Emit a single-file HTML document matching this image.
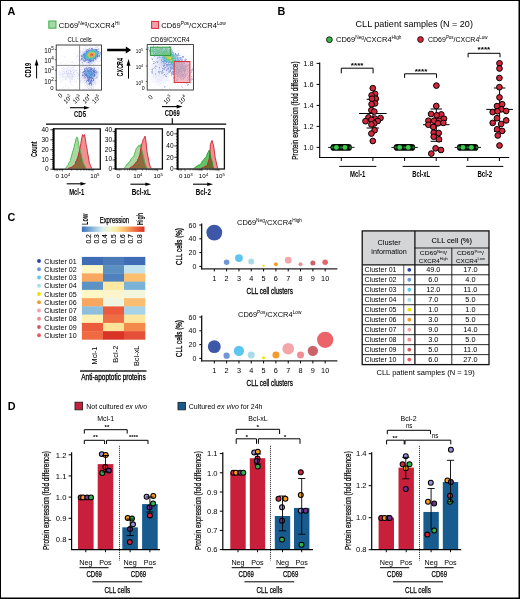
<!DOCTYPE html><html><head><meta charset="utf-8"><style>html,body{margin:0;padding:0;background:#fff;}svg{display:block;will-change:transform;}text{font-family:'Liberation Sans', sans-serif;font-variant-ligatures:none;font-kerning:normal;}</style></head><body>
<svg width="520" height="599" viewBox="0 0 520 599">
<rect x="0.00" y="0.00" width="520.00" height="599.00" fill="#fff" />
<text x="7.60" y="15.20" font-size="10.8" font-weight="bold" >A</text>
<rect x="48.80" y="21.00" width="7.20" height="7.20" fill="#a3d9a3" stroke="#3fae4f" stroke-width="1" />
<text x="58.8" y="28.2" font-size="7.6" textLength="60.7" lengthAdjust="spacingAndGlyphs">CD69<tspan dy="-3.42" font-size="4.86">Neg</tspan><tspan dy="3.42">/CXCR4<tspan dy="-3.42" font-size="4.86">Hi</tspan><tspan dy="3.42"></tspan></tspan></text>
<rect x="151.60" y="21.40" width="7.00" height="7.00" fill="#f0a0a8" stroke="#d8283a" stroke-width="1" />
<text x="161.3" y="28.2" font-size="7.6" textLength="64.5" lengthAdjust="spacingAndGlyphs">CD69<tspan dy="-3.42" font-size="4.86">Pos</tspan><tspan dy="3.42">/CXCR4<tspan dy="-3.42" font-size="4.86">Low</tspan><tspan dy="3.42"></tspan></tspan></text>
<text x="79.70" y="42.30" font-size="6.5" text-anchor="middle" textLength="24.2" lengthAdjust="spacingAndGlyphs" >CLL cells</text>
<text x="170.10" y="42.30" font-size="6.5" text-anchor="middle" textLength="39" lengthAdjust="spacingAndGlyphs" >CD69/CXCR4</text>
<defs><filter id="hz" x="-50%" y="-50%" width="200%" height="200%"><feGaussianBlur stdDeviation="2.6"/></filter><clipPath id="c1"><rect x="56.5" y="45.5" width="44.7" height="44.3"/></clipPath><clipPath id="c2"><rect x="147.5" y="45" width="45.7" height="44.7"/></clipPath></defs>
<g clip-path="url(#c1)" filter="url(#hz)" fill="#8c96e1"><ellipse cx="90" cy="56" rx="8" ry="6" opacity="0.35"/><ellipse cx="89.6" cy="76" rx="7" ry="9" opacity="0.3"/><ellipse cx="69" cy="74" rx="8" ry="6" opacity="0.12"/></g>
<g>
<rect x="84.5" y="45.5" width="0.55" height="0.55" fill="#6e78d2" fill-opacity="0.4"/>
<rect x="95.5" y="45.5" width="0.55" height="0.55" fill="#6e78d2" fill-opacity="0.6"/>
<rect x="90.0" y="46.0" width="0.55" height="0.55" fill="#6e78d2" fill-opacity="0.4"/>
<rect x="97.5" y="46.0" width="0.55" height="0.55" fill="#6e78d2" fill-opacity="0.4"/>
<rect x="79.5" y="46.5" width="0.55" height="0.55" fill="#6e78d2" fill-opacity="0.4"/>
<rect x="85.0" y="46.5" width="0.55" height="0.55" fill="#6e78d2" fill-opacity="0.4"/>
<rect x="87.0" y="46.5" width="0.55" height="0.55" fill="#6e78d2" fill-opacity="0.4"/>
<rect x="96.0" y="46.5" width="0.55" height="0.55" fill="#6e78d2" fill-opacity="0.4"/>
<rect x="97.0" y="46.5" width="0.55" height="0.55" fill="#6e78d2" fill-opacity="0.4"/>
<rect x="90.0" y="47.0" width="0.55" height="0.55" fill="#6e78d2" fill-opacity="0.4"/>
<rect x="92.5" y="47.0" width="0.55" height="0.55" fill="#6e78d2" fill-opacity="0.4"/>
<rect x="95.0" y="47.0" width="0.55" height="0.55" fill="#6e78d2" fill-opacity="0.4"/>
<rect x="95.5" y="47.0" width="0.55" height="0.55" fill="#6e78d2" fill-opacity="0.6"/>
<rect x="61.0" y="47.5" width="0.55" height="0.55" fill="#6e78d2" fill-opacity="0.4"/>
<rect x="92.5" y="47.5" width="0.55" height="0.55" fill="#6e78d2" fill-opacity="0.4"/>
<rect x="96.0" y="47.5" width="0.55" height="0.55" fill="#6e78d2" fill-opacity="0.4"/>
<rect x="97.0" y="47.5" width="0.55" height="0.55" fill="#6e78d2" fill-opacity="0.6"/>
<rect x="61.0" y="48.0" width="0.55" height="0.55" fill="#6e78d2" fill-opacity="0.4"/>
<rect x="83.0" y="48.0" width="0.55" height="0.55" fill="#6e78d2" fill-opacity="0.4"/>
<rect x="88.5" y="48.0" width="0.55" height="0.55" fill="#6e78d2" fill-opacity="0.4"/>
<rect x="91.5" y="48.0" width="0.55" height="0.55" fill="#3e56c1"/>
<rect x="94.5" y="48.0" width="1.05" height="0.55" fill="#6e78d2" fill-opacity="0.4"/>
<rect x="96.5" y="48.0" width="0.55" height="0.55" fill="#6e78d2" fill-opacity="0.4"/>
<rect x="98.5" y="48.0" width="0.55" height="0.55" fill="#6e78d2" fill-opacity="0.4"/>
<rect x="85.5" y="48.5" width="0.55" height="0.55" fill="#6e78d2" fill-opacity="0.4"/>
<rect x="89.0" y="48.5" width="1.05" height="0.55" fill="#3e56c1"/>
<rect x="91.0" y="48.5" width="2.05" height="0.55" fill="#3153be"/>
<rect x="98.0" y="48.5" width="0.55" height="0.55" fill="#6e78d2" fill-opacity="0.6"/>
<rect x="98.5" y="48.5" width="0.55" height="0.55" fill="#6e78d2" fill-opacity="0.4"/>
<rect x="100.0" y="48.5" width="0.55" height="0.55" fill="#6e78d2" fill-opacity="0.4"/>
<rect x="83.0" y="49.0" width="0.55" height="0.55" fill="#6e78d2" fill-opacity="0.4"/>
<rect x="86.0" y="49.0" width="0.55" height="0.55" fill="#6e78d2" fill-opacity="0.4"/>
<rect x="88.5" y="49.0" width="1.05" height="0.55" fill="#3e56c1"/>
<rect x="90.0" y="49.0" width="0.55" height="0.55" fill="#3153be"/>
<rect x="91.0" y="49.0" width="0.55" height="0.55" fill="#3153be"/>
<rect x="92.5" y="49.0" width="0.55" height="0.55" fill="#3153be"/>
<rect x="95.0" y="49.0" width="1.05" height="0.55" fill="#3153be"/>
<rect x="96.5" y="49.0" width="0.55" height="0.55" fill="#3e56c1"/>
<rect x="98.5" y="49.0" width="0.55" height="0.55" fill="#6e78d2" fill-opacity="0.4"/>
<rect x="85.0" y="49.5" width="0.55" height="0.55" fill="#6e78d2" fill-opacity="0.4"/>
<rect x="86.0" y="49.5" width="1.05" height="0.55" fill="#6e78d2" fill-opacity="0.4"/>
<rect x="87.0" y="49.5" width="1.05" height="0.55" fill="#3e56c1"/>
<rect x="90.5" y="49.5" width="0.55" height="0.55" fill="#3153be"/>
<rect x="91.5" y="49.5" width="4.05" height="0.55" fill="#2d6cc6"/>
<rect x="96.0" y="49.5" width="1.55" height="0.55" fill="#3153be"/>
<rect x="97.5" y="49.5" width="1.05" height="0.55" fill="#3e56c1"/>
<rect x="99.0" y="49.5" width="0.55" height="0.55" fill="#6e78d2" fill-opacity="0.4"/>
<rect x="85.5" y="50.0" width="0.55" height="0.55" fill="#6e78d2" fill-opacity="0.4"/>
<rect x="88.0" y="50.0" width="1.05" height="0.55" fill="#3153be"/>
<rect x="89.5" y="50.0" width="0.55" height="0.55" fill="#2d6cc6"/>
<rect x="90.5" y="50.0" width="0.55" height="0.55" fill="#2d6cc6"/>
<rect x="91.0" y="50.0" width="1.05" height="0.55" fill="#2a86cd"/>
<rect x="92.5" y="50.0" width="1.05" height="0.55" fill="#289bc9"/>
<rect x="93.5" y="50.0" width="1.05" height="0.55" fill="#2a86cd"/>
<rect x="95.0" y="50.0" width="0.55" height="0.55" fill="#2d6cc6"/>
<rect x="96.0" y="50.0" width="0.55" height="0.55" fill="#2d6cc6"/>
<rect x="96.5" y="50.0" width="0.55" height="0.55" fill="#3153be"/>
<rect x="79.5" y="50.5" width="0.55" height="0.55" fill="#6e78d2" fill-opacity="0.4"/>
<rect x="82.5" y="50.5" width="0.55" height="0.55" fill="#6e78d2" fill-opacity="0.4"/>
<rect x="86.0" y="50.5" width="1.05" height="0.55" fill="#3153be"/>
<rect x="87.5" y="50.5" width="1.55" height="0.55" fill="#2d6cc6"/>
<rect x="89.0" y="50.5" width="1.05" height="0.55" fill="#2a86cd"/>
<rect x="90.5" y="50.5" width="0.55" height="0.55" fill="#2a86cd"/>
<rect x="91.0" y="50.5" width="1.05" height="0.55" fill="#289bc9"/>
<rect x="92.0" y="50.5" width="2.05" height="0.55" fill="#28aab4"/>
<rect x="94.0" y="50.5" width="1.05" height="0.55" fill="#289bc9"/>
<rect x="95.0" y="50.5" width="1.05" height="0.55" fill="#2a86cd"/>
<rect x="96.0" y="50.5" width="1.05" height="0.55" fill="#2d6cc6"/>
<rect x="97.0" y="50.5" width="0.55" height="0.55" fill="#3153be"/>
<rect x="99.0" y="50.5" width="0.55" height="0.55" fill="#6e78d2" fill-opacity="0.4"/>
<rect x="80.0" y="51.0" width="0.55" height="0.55" fill="#6e78d2" fill-opacity="0.4"/>
<rect x="83.0" y="51.0" width="0.55" height="0.55" fill="#6e78d2" fill-opacity="0.4"/>
<rect x="84.0" y="51.0" width="0.55" height="0.55" fill="#6e78d2" fill-opacity="0.4"/>
<rect x="85.0" y="51.0" width="0.55" height="0.55" fill="#6e78d2" fill-opacity="0.4"/>
<rect x="86.0" y="51.0" width="0.55" height="0.55" fill="#3153be"/>
<rect x="87.0" y="51.0" width="1.05" height="0.55" fill="#2d6cc6"/>
<rect x="88.0" y="51.0" width="1.05" height="0.55" fill="#2a86cd"/>
<rect x="89.0" y="51.0" width="0.55" height="0.55" fill="#289bc9"/>
<rect x="90.0" y="51.0" width="1.55" height="0.55" fill="#28aab4"/>
<rect x="91.5" y="51.0" width="2.55" height="0.55" fill="#28b9a0"/>
<rect x="94.0" y="51.0" width="1.05" height="0.55" fill="#28aab4"/>
<rect x="95.0" y="51.0" width="1.05" height="0.55" fill="#289bc9"/>
<rect x="96.0" y="51.0" width="1.05" height="0.55" fill="#2a86cd"/>
<rect x="97.0" y="51.0" width="0.55" height="0.55" fill="#2d6cc6"/>
<rect x="97.5" y="51.0" width="0.55" height="0.55" fill="#3153be"/>
<rect x="98.5" y="51.0" width="0.55" height="0.55" fill="#3e56c1"/>
<rect x="99.0" y="51.0" width="0.55" height="0.55" fill="#6e78d2" fill-opacity="0.4"/>
<rect x="79.0" y="51.5" width="0.55" height="0.55" fill="#6e78d2" fill-opacity="0.4"/>
<rect x="81.5" y="51.5" width="1.05" height="0.55" fill="#6e78d2" fill-opacity="0.4"/>
<rect x="84.5" y="51.5" width="0.55" height="0.55" fill="#6e78d2" fill-opacity="0.4"/>
<rect x="85.5" y="51.5" width="1.05" height="0.55" fill="#3153be"/>
<rect x="86.5" y="51.5" width="1.05" height="0.55" fill="#2d6cc6"/>
<rect x="87.5" y="51.5" width="0.55" height="0.55" fill="#2a86cd"/>
<rect x="88.5" y="51.5" width="1.05" height="0.55" fill="#28aab4"/>
<rect x="89.5" y="51.5" width="1.05" height="0.55" fill="#28b9a0"/>
<rect x="91.0" y="51.5" width="3.05" height="0.55" fill="#37b971"/>
<rect x="94.0" y="51.5" width="1.05" height="0.55" fill="#28b9a0"/>
<rect x="95.0" y="51.5" width="1.05" height="0.55" fill="#28aab4"/>
<rect x="96.5" y="51.5" width="0.55" height="0.55" fill="#2a86cd"/>
<rect x="97.5" y="51.5" width="0.55" height="0.55" fill="#2d6cc6"/>
<rect x="98.0" y="51.5" width="1.05" height="0.55" fill="#3153be"/>
<rect x="100.5" y="51.5" width="0.55" height="0.55" fill="#6e78d2" fill-opacity="0.4"/>
<rect x="82.5" y="52.0" width="0.55" height="0.55" fill="#6e78d2" fill-opacity="0.4"/>
<rect x="83.0" y="52.0" width="0.55" height="0.55" fill="#6e78d2" fill-opacity="0.6"/>
<rect x="83.5" y="52.0" width="0.55" height="0.55" fill="#6e78d2" fill-opacity="0.4"/>
<rect x="84.5" y="52.0" width="0.55" height="0.55" fill="#3e56c1"/>
<rect x="86.0" y="52.0" width="1.05" height="0.55" fill="#2d6cc6"/>
<rect x="87.0" y="52.0" width="0.55" height="0.55" fill="#2a86cd"/>
<rect x="87.5" y="52.0" width="0.55" height="0.55" fill="#289bc9"/>
<rect x="88.0" y="52.0" width="0.55" height="0.55" fill="#28aab4"/>
<rect x="88.5" y="52.0" width="0.55" height="0.55" fill="#28b9a0"/>
<rect x="89.0" y="52.0" width="0.55" height="0.55" fill="#37b971"/>
<rect x="89.5" y="52.0" width="1.05" height="0.55" fill="#4bb944"/>
<rect x="90.5" y="52.0" width="2.55" height="0.55" fill="#89c536"/>
<rect x="93.0" y="52.0" width="1.55" height="0.55" fill="#4bb944"/>
<rect x="94.5" y="52.0" width="1.05" height="0.55" fill="#37b971"/>
<rect x="95.5" y="52.0" width="0.55" height="0.55" fill="#28b9a0"/>
<rect x="96.0" y="52.0" width="0.55" height="0.55" fill="#28aab4"/>
<rect x="96.5" y="52.0" width="0.55" height="0.55" fill="#289bc9"/>
<rect x="97.5" y="52.0" width="1.05" height="0.55" fill="#2d6cc6"/>
<rect x="100.0" y="52.0" width="1.05" height="0.55" fill="#3e56c1"/>
<rect x="78.0" y="52.5" width="0.55" height="0.55" fill="#6e78d2" fill-opacity="0.4"/>
<rect x="80.0" y="52.5" width="1.05" height="0.55" fill="#6e78d2" fill-opacity="0.4"/>
<rect x="85.5" y="52.5" width="1.05" height="0.55" fill="#2d6cc6"/>
<rect x="86.5" y="52.5" width="0.55" height="0.55" fill="#2a86cd"/>
<rect x="87.5" y="52.5" width="0.55" height="0.55" fill="#28aab4"/>
<rect x="88.0" y="52.5" width="0.55" height="0.55" fill="#28b9a0"/>
<rect x="88.5" y="52.5" width="0.55" height="0.55" fill="#37b971"/>
<rect x="89.0" y="52.5" width="0.55" height="0.55" fill="#4bb944"/>
<rect x="89.5" y="52.5" width="0.55" height="0.55" fill="#89c536"/>
<rect x="90.0" y="52.5" width="1.05" height="0.55" fill="#c8d228"/>
<rect x="91.0" y="52.5" width="1.05" height="0.55" fill="#dfb222"/>
<rect x="92.0" y="52.5" width="1.55" height="0.55" fill="#c8d228"/>
<rect x="93.5" y="52.5" width="1.05" height="0.55" fill="#89c536"/>
<rect x="94.5" y="52.5" width="1.05" height="0.55" fill="#4bb944"/>
<rect x="95.5" y="52.5" width="0.55" height="0.55" fill="#37b971"/>
<rect x="96.0" y="52.5" width="0.55" height="0.55" fill="#28aab4"/>
<rect x="97.0" y="52.5" width="0.55" height="0.55" fill="#2a86cd"/>
<rect x="97.5" y="52.5" width="1.05" height="0.55" fill="#2d6cc6"/>
<rect x="99.5" y="52.5" width="0.55" height="0.55" fill="#3e56c1"/>
<rect x="83.5" y="53.0" width="1.05" height="0.55" fill="#3e56c1"/>
<rect x="85.0" y="53.0" width="0.55" height="0.55" fill="#2d6cc6"/>
<rect x="86.0" y="53.0" width="0.55" height="0.55" fill="#2a86cd"/>
<rect x="86.5" y="53.0" width="0.55" height="0.55" fill="#289bc9"/>
<rect x="87.0" y="53.0" width="0.55" height="0.55" fill="#28aab4"/>
<rect x="87.5" y="53.0" width="0.55" height="0.55" fill="#28b9a0"/>
<rect x="88.0" y="53.0" width="0.55" height="0.55" fill="#37b971"/>
<rect x="88.5" y="53.0" width="0.55" height="0.55" fill="#4bb944"/>
<rect x="89.0" y="53.0" width="0.55" height="0.55" fill="#89c536"/>
<rect x="89.5" y="53.0" width="0.55" height="0.55" fill="#c8d228"/>
<rect x="90.0" y="53.0" width="0.55" height="0.55" fill="#dfb222"/>
<rect x="90.5" y="53.0" width="2.55" height="0.55" fill="#f4911d"/>
<rect x="93.0" y="53.0" width="1.05" height="0.55" fill="#dfb222"/>
<rect x="94.0" y="53.0" width="0.55" height="0.55" fill="#c8d228"/>
<rect x="94.5" y="53.0" width="0.55" height="0.55" fill="#89c536"/>
<rect x="95.0" y="53.0" width="0.55" height="0.55" fill="#4bb944"/>
<rect x="95.5" y="53.0" width="0.55" height="0.55" fill="#37b971"/>
<rect x="96.0" y="53.0" width="0.55" height="0.55" fill="#28b9a0"/>
<rect x="96.5" y="53.0" width="0.55" height="0.55" fill="#289bc9"/>
<rect x="97.5" y="53.0" width="0.55" height="0.55" fill="#2d6cc6"/>
<rect x="98.0" y="53.0" width="1.55" height="0.55" fill="#3153be"/>
<rect x="100.0" y="53.0" width="0.55" height="0.55" fill="#3e56c1"/>
<rect x="75.5" y="53.5" width="0.55" height="0.55" fill="#6e78d2" fill-opacity="0.4"/>
<rect x="79.5" y="53.5" width="0.55" height="0.55" fill="#6e78d2" fill-opacity="0.4"/>
<rect x="81.0" y="53.5" width="0.55" height="0.55" fill="#6e78d2" fill-opacity="0.4"/>
<rect x="82.5" y="53.5" width="0.55" height="0.55" fill="#6e78d2" fill-opacity="0.4"/>
<rect x="84.0" y="53.5" width="0.55" height="0.55" fill="#3153be"/>
<rect x="84.5" y="53.5" width="1.05" height="0.55" fill="#2d6cc6"/>
<rect x="85.5" y="53.5" width="0.55" height="0.55" fill="#2a86cd"/>
<rect x="86.0" y="53.5" width="0.55" height="0.55" fill="#289bc9"/>
<rect x="86.5" y="53.5" width="0.55" height="0.55" fill="#28aab4"/>
<rect x="87.0" y="53.5" width="0.55" height="0.55" fill="#28b9a0"/>
<rect x="87.5" y="53.5" width="0.55" height="0.55" fill="#37b971"/>
<rect x="88.0" y="53.5" width="0.55" height="0.55" fill="#4bb944"/>
<rect x="88.5" y="53.5" width="0.55" height="0.55" fill="#c8d228"/>
<rect x="89.0" y="53.5" width="1.05" height="0.55" fill="#dfb222"/>
<rect x="90.0" y="53.5" width="0.55" height="0.55" fill="#f4911d"/>
<rect x="90.5" y="53.5" width="2.55" height="0.55" fill="#ed5c1b"/>
<rect x="93.0" y="53.5" width="1.05" height="0.55" fill="#f4911d"/>
<rect x="94.0" y="53.5" width="0.55" height="0.55" fill="#dfb222"/>
<rect x="94.5" y="53.5" width="0.55" height="0.55" fill="#c8d228"/>
<rect x="95.0" y="53.5" width="0.55" height="0.55" fill="#4bb944"/>
<rect x="95.5" y="53.5" width="0.55" height="0.55" fill="#37b971"/>
<rect x="96.0" y="53.5" width="0.55" height="0.55" fill="#28b9a0"/>
<rect x="96.5" y="53.5" width="0.55" height="0.55" fill="#289bc9"/>
<rect x="97.0" y="53.5" width="0.55" height="0.55" fill="#2a86cd"/>
<rect x="98.5" y="53.5" width="0.55" height="0.55" fill="#3153be"/>
<rect x="81.5" y="54.0" width="0.55" height="0.55" fill="#6e78d2" fill-opacity="0.6"/>
<rect x="83.0" y="54.0" width="1.05" height="0.55" fill="#3153be"/>
<rect x="84.0" y="54.0" width="0.55" height="0.55" fill="#2d6cc6"/>
<rect x="84.5" y="54.0" width="1.05" height="0.55" fill="#2a86cd"/>
<rect x="85.5" y="54.0" width="1.05" height="0.55" fill="#289bc9"/>
<rect x="86.5" y="54.0" width="0.55" height="0.55" fill="#28aab4"/>
<rect x="87.0" y="54.0" width="0.55" height="0.55" fill="#37b971"/>
<rect x="87.5" y="54.0" width="0.55" height="0.55" fill="#4bb944"/>
<rect x="88.0" y="54.0" width="0.55" height="0.55" fill="#c8d228"/>
<rect x="88.5" y="54.0" width="1.05" height="0.55" fill="#dfb222"/>
<rect x="89.5" y="54.0" width="0.55" height="0.55" fill="#f4911d"/>
<rect x="90.0" y="54.0" width="1.55" height="0.55" fill="#ed5c1b"/>
<rect x="91.5" y="54.0" width="1.55" height="0.55" fill="#e62819"/>
<rect x="93.0" y="54.0" width="0.55" height="0.55" fill="#ed5c1b"/>
<rect x="93.5" y="54.0" width="0.55" height="0.55" fill="#f4911d"/>
<rect x="94.0" y="54.0" width="0.55" height="0.55" fill="#dfb222"/>
<rect x="94.5" y="54.0" width="0.55" height="0.55" fill="#c8d228"/>
<rect x="95.0" y="54.0" width="0.55" height="0.55" fill="#4bb944"/>
<rect x="95.5" y="54.0" width="0.55" height="0.55" fill="#37b971"/>
<rect x="96.5" y="54.0" width="0.55" height="0.55" fill="#289bc9"/>
<rect x="97.0" y="54.0" width="0.55" height="0.55" fill="#2a86cd"/>
<rect x="97.5" y="54.0" width="0.55" height="0.55" fill="#2d6cc6"/>
<rect x="98.5" y="54.0" width="0.55" height="0.55" fill="#3153be"/>
<rect x="100.0" y="54.0" width="0.55" height="0.55" fill="#3e56c1"/>
<rect x="77.5" y="54.5" width="0.55" height="0.55" fill="#6e78d2" fill-opacity="0.4"/>
<rect x="80.5" y="54.5" width="0.55" height="0.55" fill="#6e78d2" fill-opacity="0.4"/>
<rect x="82.0" y="54.5" width="0.55" height="0.55" fill="#3e56c1"/>
<rect x="83.5" y="54.5" width="0.55" height="0.55" fill="#2d6cc6"/>
<rect x="84.0" y="54.5" width="1.05" height="0.55" fill="#2a86cd"/>
<rect x="85.0" y="54.5" width="1.05" height="0.55" fill="#289bc9"/>
<rect x="86.0" y="54.5" width="0.55" height="0.55" fill="#28aab4"/>
<rect x="86.5" y="54.5" width="0.55" height="0.55" fill="#28b9a0"/>
<rect x="87.0" y="54.5" width="0.55" height="0.55" fill="#4bb944"/>
<rect x="87.5" y="54.5" width="0.55" height="0.55" fill="#89c536"/>
<rect x="88.0" y="54.5" width="0.55" height="0.55" fill="#dfb222"/>
<rect x="88.5" y="54.5" width="1.55" height="0.55" fill="#f4911d"/>
<rect x="90.0" y="54.5" width="1.55" height="0.55" fill="#ed5c1b"/>
<rect x="91.5" y="54.5" width="1.55" height="0.55" fill="#e62819"/>
<rect x="93.0" y="54.5" width="0.55" height="0.55" fill="#ed5c1b"/>
<rect x="93.5" y="54.5" width="0.55" height="0.55" fill="#f4911d"/>
<rect x="94.0" y="54.5" width="0.55" height="0.55" fill="#dfb222"/>
<rect x="94.5" y="54.5" width="0.55" height="0.55" fill="#89c536"/>
<rect x="95.0" y="54.5" width="0.55" height="0.55" fill="#4bb944"/>
<rect x="95.5" y="54.5" width="0.55" height="0.55" fill="#28b9a0"/>
<rect x="96.0" y="54.5" width="0.55" height="0.55" fill="#28aab4"/>
<rect x="96.5" y="54.5" width="0.55" height="0.55" fill="#289bc9"/>
<rect x="97.0" y="54.5" width="0.55" height="0.55" fill="#2a86cd"/>
<rect x="97.5" y="54.5" width="0.55" height="0.55" fill="#2d6cc6"/>
<rect x="99.5" y="54.5" width="0.55" height="0.55" fill="#3e56c1"/>
<rect x="83.0" y="55.0" width="0.55" height="0.55" fill="#2d6cc6"/>
<rect x="83.5" y="55.0" width="0.55" height="0.55" fill="#2a86cd"/>
<rect x="84.0" y="55.0" width="2.05" height="0.55" fill="#289bc9"/>
<rect x="86.0" y="55.0" width="0.55" height="0.55" fill="#28aab4"/>
<rect x="86.5" y="55.0" width="0.55" height="0.55" fill="#28b9a0"/>
<rect x="87.0" y="55.0" width="0.55" height="0.55" fill="#4bb944"/>
<rect x="87.5" y="55.0" width="0.55" height="0.55" fill="#c8d228"/>
<rect x="88.0" y="55.0" width="0.55" height="0.55" fill="#dfb222"/>
<rect x="88.5" y="55.0" width="1.55" height="0.55" fill="#f4911d"/>
<rect x="90.0" y="55.0" width="2.05" height="0.55" fill="#ed5c1b"/>
<rect x="92.0" y="55.0" width="1.05" height="0.55" fill="#e62819"/>
<rect x="93.0" y="55.0" width="0.55" height="0.55" fill="#ed5c1b"/>
<rect x="93.5" y="55.0" width="0.55" height="0.55" fill="#f4911d"/>
<rect x="94.0" y="55.0" width="0.55" height="0.55" fill="#dfb222"/>
<rect x="94.5" y="55.0" width="0.55" height="0.55" fill="#89c536"/>
<rect x="95.0" y="55.0" width="0.55" height="0.55" fill="#37b971"/>
<rect x="95.5" y="55.0" width="0.55" height="0.55" fill="#28b9a0"/>
<rect x="96.0" y="55.0" width="0.55" height="0.55" fill="#28aab4"/>
<rect x="96.5" y="55.0" width="0.55" height="0.55" fill="#289bc9"/>
<rect x="97.0" y="55.0" width="1.05" height="0.55" fill="#2a86cd"/>
<rect x="99.5" y="55.0" width="0.55" height="0.55" fill="#3e56c1"/>
<rect x="77.0" y="55.5" width="0.55" height="0.55" fill="#6e78d2" fill-opacity="0.6"/>
<rect x="78.0" y="55.5" width="0.55" height="0.55" fill="#6e78d2" fill-opacity="0.4"/>
<rect x="80.5" y="55.5" width="0.55" height="0.55" fill="#6e78d2" fill-opacity="0.6"/>
<rect x="81.0" y="55.5" width="0.55" height="0.55" fill="#3e56c1"/>
<rect x="81.5" y="55.5" width="1.05" height="0.55" fill="#3153be"/>
<rect x="82.5" y="55.5" width="1.05" height="0.55" fill="#2d6cc6"/>
<rect x="83.5" y="55.5" width="0.55" height="0.55" fill="#2a86cd"/>
<rect x="84.0" y="55.5" width="2.05" height="0.55" fill="#289bc9"/>
<rect x="86.0" y="55.5" width="0.55" height="0.55" fill="#28aab4"/>
<rect x="86.5" y="55.5" width="0.55" height="0.55" fill="#28b9a0"/>
<rect x="87.0" y="55.5" width="0.55" height="0.55" fill="#4bb944"/>
<rect x="87.5" y="55.5" width="0.55" height="0.55" fill="#89c536"/>
<rect x="88.0" y="55.5" width="0.55" height="0.55" fill="#c8d228"/>
<rect x="88.5" y="55.5" width="0.55" height="0.55" fill="#dfb222"/>
<rect x="89.0" y="55.5" width="1.05" height="0.55" fill="#f4911d"/>
<rect x="90.0" y="55.5" width="3.05" height="0.55" fill="#ed5c1b"/>
<rect x="93.0" y="55.5" width="0.55" height="0.55" fill="#f4911d"/>
<rect x="93.5" y="55.5" width="0.55" height="0.55" fill="#dfb222"/>
<rect x="94.0" y="55.5" width="0.55" height="0.55" fill="#c8d228"/>
<rect x="94.5" y="55.5" width="0.55" height="0.55" fill="#4bb944"/>
<rect x="95.0" y="55.5" width="0.55" height="0.55" fill="#28b9a0"/>
<rect x="95.5" y="55.5" width="0.55" height="0.55" fill="#28aab4"/>
<rect x="96.0" y="55.5" width="0.55" height="0.55" fill="#289bc9"/>
<rect x="96.5" y="55.5" width="1.05" height="0.55" fill="#2a86cd"/>
<rect x="97.5" y="55.5" width="1.05" height="0.55" fill="#2d6cc6"/>
<rect x="98.5" y="55.5" width="1.05" height="0.55" fill="#3153be"/>
<rect x="99.5" y="55.5" width="0.55" height="0.55" fill="#3e56c1"/>
<rect x="64.0" y="56.0" width="0.55" height="0.55" fill="#6e78d2" fill-opacity="0.4"/>
<rect x="78.5" y="56.0" width="0.55" height="0.55" fill="#6e78d2" fill-opacity="0.4"/>
<rect x="81.0" y="56.0" width="0.55" height="0.55" fill="#3e56c1"/>
<rect x="82.5" y="56.0" width="1.05" height="0.55" fill="#2d6cc6"/>
<rect x="84.0" y="56.0" width="0.55" height="0.55" fill="#2a86cd"/>
<rect x="84.5" y="56.0" width="1.55" height="0.55" fill="#289bc9"/>
<rect x="86.0" y="56.0" width="0.55" height="0.55" fill="#28aab4"/>
<rect x="86.5" y="56.0" width="0.55" height="0.55" fill="#28b9a0"/>
<rect x="87.0" y="56.0" width="0.55" height="0.55" fill="#37b971"/>
<rect x="87.5" y="56.0" width="0.55" height="0.55" fill="#4bb944"/>
<rect x="88.0" y="56.0" width="0.55" height="0.55" fill="#89c536"/>
<rect x="88.5" y="56.0" width="0.55" height="0.55" fill="#c8d228"/>
<rect x="89.0" y="56.0" width="0.55" height="0.55" fill="#dfb222"/>
<rect x="89.5" y="56.0" width="0.55" height="0.55" fill="#f4911d"/>
<rect x="90.0" y="56.0" width="1.05" height="0.55" fill="#ed5c1b"/>
<rect x="91.0" y="56.0" width="2.05" height="0.55" fill="#f4911d"/>
<rect x="93.0" y="56.0" width="0.55" height="0.55" fill="#dfb222"/>
<rect x="93.5" y="56.0" width="0.55" height="0.55" fill="#c8d228"/>
<rect x="94.0" y="56.0" width="0.55" height="0.55" fill="#4bb944"/>
<rect x="94.5" y="56.0" width="0.55" height="0.55" fill="#37b971"/>
<rect x="95.0" y="56.0" width="0.55" height="0.55" fill="#28aab4"/>
<rect x="95.5" y="56.0" width="0.55" height="0.55" fill="#289bc9"/>
<rect x="96.0" y="56.0" width="0.55" height="0.55" fill="#2a86cd"/>
<rect x="96.5" y="56.0" width="1.55" height="0.55" fill="#2d6cc6"/>
<rect x="98.0" y="56.0" width="0.55" height="0.55" fill="#3153be"/>
<rect x="99.0" y="56.0" width="0.55" height="0.55" fill="#3153be"/>
<rect x="99.5" y="56.0" width="0.55" height="0.55" fill="#3e56c1"/>
<rect x="76.0" y="56.5" width="0.55" height="0.55" fill="#6e78d2" fill-opacity="0.4"/>
<rect x="77.5" y="56.5" width="0.55" height="0.55" fill="#6e78d2" fill-opacity="0.4"/>
<rect x="79.5" y="56.5" width="0.55" height="0.55" fill="#6e78d2" fill-opacity="0.4"/>
<rect x="81.0" y="56.5" width="1.05" height="0.55" fill="#3e56c1"/>
<rect x="82.0" y="56.5" width="0.55" height="0.55" fill="#3153be"/>
<rect x="83.0" y="56.5" width="0.55" height="0.55" fill="#2d6cc6"/>
<rect x="84.0" y="56.5" width="1.05" height="0.55" fill="#2a86cd"/>
<rect x="85.0" y="56.5" width="1.05" height="0.55" fill="#289bc9"/>
<rect x="86.0" y="56.5" width="0.55" height="0.55" fill="#28aab4"/>
<rect x="86.5" y="56.5" width="0.55" height="0.55" fill="#28b9a0"/>
<rect x="87.0" y="56.5" width="0.55" height="0.55" fill="#37b971"/>
<rect x="87.5" y="56.5" width="1.05" height="0.55" fill="#4bb944"/>
<rect x="88.5" y="56.5" width="0.55" height="0.55" fill="#89c536"/>
<rect x="89.0" y="56.5" width="1.05" height="0.55" fill="#dfb222"/>
<rect x="90.0" y="56.5" width="1.05" height="0.55" fill="#f4911d"/>
<rect x="91.0" y="56.5" width="1.55" height="0.55" fill="#dfb222"/>
<rect x="92.5" y="56.5" width="0.55" height="0.55" fill="#c8d228"/>
<rect x="93.0" y="56.5" width="0.55" height="0.55" fill="#89c536"/>
<rect x="93.5" y="56.5" width="0.55" height="0.55" fill="#4bb944"/>
<rect x="94.0" y="56.5" width="0.55" height="0.55" fill="#37b971"/>
<rect x="94.5" y="56.5" width="0.55" height="0.55" fill="#28b9a0"/>
<rect x="95.0" y="56.5" width="0.55" height="0.55" fill="#28aab4"/>
<rect x="95.5" y="56.5" width="0.55" height="0.55" fill="#2a86cd"/>
<rect x="96.0" y="56.5" width="0.55" height="0.55" fill="#2d6cc6"/>
<rect x="97.0" y="56.5" width="1.05" height="0.55" fill="#3153be"/>
<rect x="100.5" y="56.5" width="0.55" height="0.55" fill="#6e78d2" fill-opacity="0.4"/>
<rect x="65.5" y="57.0" width="0.55" height="0.55" fill="#6e78d2" fill-opacity="0.4"/>
<rect x="83.0" y="57.0" width="0.55" height="0.55" fill="#3153be"/>
<rect x="84.0" y="57.0" width="0.55" height="0.55" fill="#2d6cc6"/>
<rect x="84.5" y="57.0" width="0.55" height="0.55" fill="#2a86cd"/>
<rect x="85.0" y="57.0" width="1.05" height="0.55" fill="#289bc9"/>
<rect x="86.0" y="57.0" width="1.05" height="0.55" fill="#28aab4"/>
<rect x="87.0" y="57.0" width="0.55" height="0.55" fill="#28b9a0"/>
<rect x="87.5" y="57.0" width="0.55" height="0.55" fill="#37b971"/>
<rect x="88.0" y="57.0" width="0.55" height="0.55" fill="#4bb944"/>
<rect x="88.5" y="57.0" width="0.55" height="0.55" fill="#89c536"/>
<rect x="89.0" y="57.0" width="1.05" height="0.55" fill="#c8d228"/>
<rect x="90.0" y="57.0" width="1.05" height="0.55" fill="#dfb222"/>
<rect x="91.0" y="57.0" width="1.05" height="0.55" fill="#c8d228"/>
<rect x="92.0" y="57.0" width="0.55" height="0.55" fill="#89c536"/>
<rect x="92.5" y="57.0" width="1.05" height="0.55" fill="#4bb944"/>
<rect x="93.5" y="57.0" width="0.55" height="0.55" fill="#37b971"/>
<rect x="94.5" y="57.0" width="0.55" height="0.55" fill="#28aab4"/>
<rect x="95.0" y="57.0" width="0.55" height="0.55" fill="#289bc9"/>
<rect x="95.5" y="57.0" width="0.55" height="0.55" fill="#2a86cd"/>
<rect x="97.0" y="57.0" width="0.55" height="0.55" fill="#3e56c1"/>
<rect x="99.0" y="57.0" width="0.55" height="0.55" fill="#6e78d2" fill-opacity="0.4"/>
<rect x="76.0" y="57.5" width="0.55" height="0.55" fill="#6e78d2" fill-opacity="0.4"/>
<rect x="81.0" y="57.5" width="0.55" height="0.55" fill="#6e78d2" fill-opacity="0.6"/>
<rect x="82.0" y="57.5" width="0.55" height="0.55" fill="#3e56c1"/>
<rect x="83.0" y="57.5" width="0.55" height="0.55" fill="#3153be"/>
<rect x="84.0" y="57.5" width="0.55" height="0.55" fill="#2d6cc6"/>
<rect x="84.5" y="57.5" width="1.05" height="0.55" fill="#2a86cd"/>
<rect x="85.5" y="57.5" width="0.55" height="0.55" fill="#289bc9"/>
<rect x="86.5" y="57.5" width="1.05" height="0.55" fill="#28aab4"/>
<rect x="87.5" y="57.5" width="0.55" height="0.55" fill="#28b9a0"/>
<rect x="88.0" y="57.5" width="0.55" height="0.55" fill="#37b971"/>
<rect x="88.5" y="57.5" width="0.55" height="0.55" fill="#4bb944"/>
<rect x="89.0" y="57.5" width="2.05" height="0.55" fill="#89c536"/>
<rect x="91.0" y="57.5" width="1.05" height="0.55" fill="#4bb944"/>
<rect x="92.0" y="57.5" width="1.05" height="0.55" fill="#37b971"/>
<rect x="93.0" y="57.5" width="0.55" height="0.55" fill="#28b9a0"/>
<rect x="93.5" y="57.5" width="1.05" height="0.55" fill="#28aab4"/>
<rect x="94.5" y="57.5" width="0.55" height="0.55" fill="#289bc9"/>
<rect x="95.0" y="57.5" width="0.55" height="0.55" fill="#2a86cd"/>
<rect x="95.5" y="57.5" width="0.55" height="0.55" fill="#2d6cc6"/>
<rect x="96.5" y="57.5" width="0.55" height="0.55" fill="#3153be"/>
<rect x="97.5" y="57.5" width="0.55" height="0.55" fill="#6e78d2" fill-opacity="0.4"/>
<rect x="100.0" y="57.5" width="0.55" height="0.55" fill="#6e78d2" fill-opacity="0.4"/>
<rect x="79.0" y="58.0" width="0.55" height="0.55" fill="#6e78d2" fill-opacity="0.4"/>
<rect x="81.0" y="58.0" width="1.05" height="0.55" fill="#3e56c1"/>
<rect x="82.5" y="58.0" width="0.55" height="0.55" fill="#3153be"/>
<rect x="84.0" y="58.0" width="0.55" height="0.55" fill="#2d6cc6"/>
<rect x="84.5" y="58.0" width="2.05" height="0.55" fill="#2a86cd"/>
<rect x="86.5" y="58.0" width="0.55" height="0.55" fill="#289bc9"/>
<rect x="87.5" y="58.0" width="0.55" height="0.55" fill="#28aab4"/>
<rect x="88.0" y="58.0" width="0.55" height="0.55" fill="#28b9a0"/>
<rect x="88.5" y="58.0" width="3.05" height="0.55" fill="#37b971"/>
<rect x="91.5" y="58.0" width="1.05" height="0.55" fill="#28b9a0"/>
<rect x="92.5" y="58.0" width="0.55" height="0.55" fill="#28aab4"/>
<rect x="93.5" y="58.0" width="1.05" height="0.55" fill="#289bc9"/>
<rect x="94.5" y="58.0" width="0.55" height="0.55" fill="#2a86cd"/>
<rect x="95.0" y="58.0" width="1.05" height="0.55" fill="#2d6cc6"/>
<rect x="96.5" y="58.0" width="0.55" height="0.55" fill="#3e56c1"/>
<rect x="97.0" y="58.0" width="0.55" height="0.55" fill="#6e78d2" fill-opacity="0.4"/>
<rect x="79.0" y="58.5" width="0.55" height="0.55" fill="#6e78d2" fill-opacity="0.6"/>
<rect x="81.5" y="58.5" width="1.05" height="0.55" fill="#3e56c1"/>
<rect x="83.5" y="58.5" width="0.55" height="0.55" fill="#3153be"/>
<rect x="84.5" y="58.5" width="0.55" height="0.55" fill="#2d6cc6"/>
<rect x="85.0" y="58.5" width="0.55" height="0.55" fill="#2a86cd"/>
<rect x="86.0" y="58.5" width="0.55" height="0.55" fill="#2a86cd"/>
<rect x="87.0" y="58.5" width="0.55" height="0.55" fill="#2a86cd"/>
<rect x="87.5" y="58.5" width="0.55" height="0.55" fill="#289bc9"/>
<rect x="88.0" y="58.5" width="0.55" height="0.55" fill="#28aab4"/>
<rect x="89.0" y="58.5" width="3.05" height="0.55" fill="#28aab4"/>
<rect x="92.5" y="58.5" width="1.05" height="0.55" fill="#289bc9"/>
<rect x="93.5" y="58.5" width="0.55" height="0.55" fill="#2a86cd"/>
<rect x="94.0" y="58.5" width="1.05" height="0.55" fill="#2d6cc6"/>
<rect x="95.5" y="58.5" width="0.55" height="0.55" fill="#3153be"/>
<rect x="98.0" y="58.5" width="0.55" height="0.55" fill="#6e78d2" fill-opacity="0.4"/>
<rect x="80.0" y="59.0" width="0.55" height="0.55" fill="#6e78d2" fill-opacity="0.4"/>
<rect x="81.0" y="59.0" width="1.05" height="0.55" fill="#3e56c1"/>
<rect x="83.0" y="59.0" width="0.55" height="0.55" fill="#3e56c1"/>
<rect x="84.5" y="59.0" width="0.55" height="0.55" fill="#2d6cc6"/>
<rect x="85.5" y="59.0" width="1.55" height="0.55" fill="#2d6cc6"/>
<rect x="87.0" y="59.0" width="1.05" height="0.55" fill="#2a86cd"/>
<rect x="88.0" y="59.0" width="3.55" height="0.55" fill="#289bc9"/>
<rect x="91.5" y="59.0" width="1.55" height="0.55" fill="#2a86cd"/>
<rect x="93.0" y="59.0" width="0.55" height="0.55" fill="#2d6cc6"/>
<rect x="95.5" y="59.0" width="0.55" height="0.55" fill="#3e56c1"/>
<rect x="97.0" y="59.0" width="0.55" height="0.55" fill="#6e78d2" fill-opacity="0.4"/>
<rect x="78.0" y="59.5" width="0.55" height="0.55" fill="#6e78d2" fill-opacity="0.4"/>
<rect x="80.5" y="59.5" width="0.55" height="0.55" fill="#6e78d2" fill-opacity="0.4"/>
<rect x="82.0" y="59.5" width="0.55" height="0.55" fill="#3e56c1"/>
<rect x="83.5" y="59.5" width="0.55" height="0.55" fill="#3e56c1"/>
<rect x="85.0" y="59.5" width="1.05" height="0.55" fill="#2d6cc6"/>
<rect x="87.5" y="59.5" width="0.55" height="0.55" fill="#2d6cc6"/>
<rect x="88.0" y="59.5" width="0.55" height="0.55" fill="#2a86cd"/>
<rect x="89.0" y="59.5" width="2.05" height="0.55" fill="#2a86cd"/>
<rect x="93.0" y="59.5" width="0.55" height="0.55" fill="#2d6cc6"/>
<rect x="93.5" y="59.5" width="0.55" height="0.55" fill="#3153be"/>
<rect x="95.0" y="59.5" width="0.55" height="0.55" fill="#3e56c1"/>
<rect x="95.5" y="59.5" width="1.05" height="0.55" fill="#6e78d2" fill-opacity="0.4"/>
<rect x="100.5" y="59.5" width="0.55" height="0.55" fill="#6e78d2" fill-opacity="0.4"/>
<rect x="68.5" y="60.0" width="0.55" height="0.55" fill="#6e78d2" fill-opacity="0.4"/>
<rect x="78.0" y="60.0" width="0.55" height="0.55" fill="#6e78d2" fill-opacity="0.4"/>
<rect x="80.5" y="60.0" width="0.55" height="0.55" fill="#6e78d2" fill-opacity="0.4"/>
<rect x="81.5" y="60.0" width="0.55" height="0.55" fill="#6e78d2" fill-opacity="0.4"/>
<rect x="83.0" y="60.0" width="0.55" height="0.55" fill="#3e56c1"/>
<rect x="84.5" y="60.0" width="1.55" height="0.55" fill="#2d6cc6"/>
<rect x="86.0" y="60.0" width="1.55" height="0.55" fill="#3153be"/>
<rect x="88.0" y="60.0" width="3.55" height="0.55" fill="#2d6cc6"/>
<rect x="91.5" y="60.0" width="0.55" height="0.55" fill="#3153be"/>
<rect x="92.5" y="60.0" width="0.55" height="0.55" fill="#3153be"/>
<rect x="93.5" y="60.0" width="0.55" height="0.55" fill="#3153be"/>
<rect x="96.0" y="60.0" width="0.55" height="0.55" fill="#6e78d2" fill-opacity="0.4"/>
<rect x="100.0" y="60.0" width="0.55" height="0.55" fill="#6e78d2" fill-opacity="0.4"/>
<rect x="63.5" y="60.5" width="0.55" height="0.55" fill="#6e78d2" fill-opacity="0.4"/>
<rect x="80.0" y="60.5" width="1.05" height="0.55" fill="#6e78d2" fill-opacity="0.4"/>
<rect x="82.5" y="60.5" width="1.05" height="0.55" fill="#3e56c1"/>
<rect x="84.0" y="60.5" width="0.55" height="0.55" fill="#3153be"/>
<rect x="85.0" y="60.5" width="0.55" height="0.55" fill="#3153be"/>
<rect x="87.5" y="60.5" width="1.05" height="0.55" fill="#3153be"/>
<rect x="89.0" y="60.5" width="1.55" height="0.55" fill="#2d6cc6"/>
<rect x="91.0" y="60.5" width="1.55" height="0.55" fill="#3153be"/>
<rect x="93.0" y="60.5" width="1.05" height="0.55" fill="#3e56c1"/>
<rect x="94.0" y="60.5" width="0.55" height="0.55" fill="#6e78d2" fill-opacity="0.6"/>
<rect x="94.5" y="60.5" width="0.55" height="0.55" fill="#6e78d2" fill-opacity="0.4"/>
<rect x="72.5" y="61.0" width="0.55" height="0.55" fill="#6e78d2" fill-opacity="0.4"/>
<rect x="81.5" y="61.0" width="1.05" height="0.55" fill="#6e78d2" fill-opacity="0.4"/>
<rect x="83.5" y="61.0" width="0.55" height="0.55" fill="#3e56c1"/>
<rect x="85.5" y="61.0" width="0.55" height="0.55" fill="#3e56c1"/>
<rect x="89.5" y="61.0" width="1.55" height="0.55" fill="#3153be"/>
<rect x="93.0" y="61.0" width="0.55" height="0.55" fill="#3e56c1"/>
<rect x="98.0" y="61.0" width="0.55" height="0.55" fill="#6e78d2" fill-opacity="0.4"/>
<rect x="66.5" y="61.5" width="0.55" height="0.55" fill="#6e78d2" fill-opacity="0.4"/>
<rect x="73.0" y="61.5" width="0.55" height="0.55" fill="#6e78d2" fill-opacity="0.4"/>
<rect x="79.0" y="61.5" width="1.05" height="0.55" fill="#6e78d2" fill-opacity="0.4"/>
<rect x="84.0" y="61.5" width="1.05" height="0.55" fill="#3e56c1"/>
<rect x="85.5" y="61.5" width="0.55" height="0.55" fill="#6e78d2" fill-opacity="0.4"/>
<rect x="87.0" y="61.5" width="0.55" height="0.55" fill="#6e78d2" fill-opacity="0.4"/>
<rect x="88.0" y="61.5" width="0.55" height="0.55" fill="#3e56c1"/>
<rect x="89.0" y="61.5" width="0.55" height="0.55" fill="#3e56c1"/>
<rect x="90.0" y="61.5" width="1.05" height="0.55" fill="#3153be"/>
<rect x="91.5" y="61.5" width="1.05" height="0.55" fill="#3e56c1"/>
<rect x="93.0" y="61.5" width="0.55" height="0.55" fill="#6e78d2" fill-opacity="0.4"/>
<rect x="95.5" y="61.5" width="0.55" height="0.55" fill="#6e78d2" fill-opacity="0.4"/>
<rect x="97.5" y="61.5" width="0.55" height="0.55" fill="#6e78d2" fill-opacity="0.4"/>
<rect x="99.0" y="61.5" width="0.55" height="0.55" fill="#6e78d2" fill-opacity="0.4"/>
<rect x="69.5" y="62.0" width="0.55" height="0.55" fill="#6e78d2" fill-opacity="0.4"/>
<rect x="76.0" y="62.0" width="0.55" height="0.55" fill="#6e78d2" fill-opacity="0.4"/>
<rect x="82.0" y="62.0" width="0.55" height="0.55" fill="#6e78d2" fill-opacity="0.4"/>
<rect x="86.5" y="62.0" width="0.55" height="0.55" fill="#6e78d2" fill-opacity="0.4"/>
<rect x="87.5" y="62.0" width="0.55" height="0.55" fill="#3e56c1"/>
<rect x="88.5" y="62.0" width="0.55" height="0.55" fill="#3e56c1"/>
<rect x="94.0" y="62.0" width="0.55" height="0.55" fill="#6e78d2" fill-opacity="0.4"/>
<rect x="60.0" y="62.5" width="0.55" height="0.55" fill="#6e78d2" fill-opacity="0.4"/>
<rect x="61.5" y="62.5" width="0.55" height="0.55" fill="#6e78d2" fill-opacity="0.4"/>
<rect x="62.5" y="62.5" width="0.55" height="0.55" fill="#6e78d2" fill-opacity="0.4"/>
<rect x="71.0" y="62.5" width="0.55" height="0.55" fill="#6e78d2" fill-opacity="0.4"/>
<rect x="72.5" y="62.5" width="1.05" height="0.55" fill="#6e78d2" fill-opacity="0.4"/>
<rect x="81.5" y="62.5" width="0.55" height="0.55" fill="#6e78d2" fill-opacity="0.6"/>
<rect x="82.0" y="62.5" width="0.55" height="0.55" fill="#3e56c1"/>
<rect x="82.5" y="62.5" width="1.05" height="0.55" fill="#6e78d2" fill-opacity="0.4"/>
<rect x="84.5" y="62.5" width="0.55" height="0.55" fill="#6e78d2" fill-opacity="0.4"/>
<rect x="86.0" y="62.5" width="1.05" height="0.55" fill="#6e78d2" fill-opacity="0.4"/>
<rect x="88.0" y="62.5" width="1.55" height="0.55" fill="#3e56c1"/>
<rect x="90.0" y="62.5" width="0.55" height="0.55" fill="#3e56c1"/>
<rect x="91.5" y="62.5" width="0.55" height="0.55" fill="#3e56c1"/>
<rect x="92.0" y="62.5" width="0.55" height="0.55" fill="#6e78d2" fill-opacity="0.4"/>
<rect x="94.0" y="62.5" width="0.55" height="0.55" fill="#6e78d2" fill-opacity="0.4"/>
<rect x="60.0" y="63.0" width="0.55" height="0.55" fill="#6e78d2" fill-opacity="0.4"/>
<rect x="82.0" y="63.0" width="0.55" height="0.55" fill="#6e78d2" fill-opacity="0.4"/>
<rect x="86.5" y="63.0" width="0.55" height="0.55" fill="#6e78d2" fill-opacity="0.4"/>
<rect x="87.5" y="63.0" width="0.55" height="0.55" fill="#6e78d2" fill-opacity="0.4"/>
<rect x="89.5" y="63.0" width="0.55" height="0.55" fill="#3e56c1"/>
<rect x="91.5" y="63.0" width="0.55" height="0.55" fill="#6e78d2" fill-opacity="0.4"/>
<rect x="92.0" y="63.0" width="0.55" height="0.55" fill="#6e78d2" fill-opacity="0.6"/>
<rect x="65.0" y="63.5" width="0.55" height="0.55" fill="#6e78d2" fill-opacity="0.4"/>
<rect x="83.0" y="63.5" width="0.55" height="0.55" fill="#6e78d2" fill-opacity="0.4"/>
<rect x="84.0" y="63.5" width="0.55" height="0.55" fill="#6e78d2" fill-opacity="0.4"/>
<rect x="88.5" y="63.5" width="0.55" height="0.55" fill="#6e78d2" fill-opacity="0.4"/>
<rect x="90.5" y="63.5" width="1.05" height="0.55" fill="#6e78d2" fill-opacity="0.4"/>
<rect x="98.5" y="63.5" width="0.55" height="0.55" fill="#6e78d2" fill-opacity="0.4"/>
<rect x="78.5" y="64.0" width="0.55" height="0.55" fill="#6e78d2" fill-opacity="0.4"/>
<rect x="82.5" y="64.0" width="0.55" height="0.55" fill="#6e78d2" fill-opacity="0.4"/>
<rect x="86.5" y="64.0" width="0.55" height="0.55" fill="#6e78d2" fill-opacity="0.4"/>
<rect x="89.0" y="64.0" width="0.55" height="0.55" fill="#6e78d2" fill-opacity="0.4"/>
<rect x="90.0" y="64.0" width="0.55" height="0.55" fill="#6e78d2" fill-opacity="0.6"/>
<rect x="93.5" y="64.0" width="0.55" height="0.55" fill="#6e78d2" fill-opacity="0.4"/>
<rect x="81.0" y="64.5" width="0.55" height="0.55" fill="#6e78d2" fill-opacity="0.4"/>
<rect x="82.5" y="64.5" width="1.05" height="0.55" fill="#6e78d2" fill-opacity="0.4"/>
<rect x="85.0" y="64.5" width="0.55" height="0.55" fill="#6e78d2" fill-opacity="0.4"/>
<rect x="88.5" y="64.5" width="0.55" height="0.55" fill="#6e78d2" fill-opacity="0.4"/>
<rect x="89.0" y="64.5" width="0.55" height="0.55" fill="#6e78d2" fill-opacity="0.6"/>
<rect x="93.0" y="64.5" width="0.55" height="0.55" fill="#6e78d2" fill-opacity="0.4"/>
<rect x="94.5" y="64.5" width="0.55" height="0.55" fill="#6e78d2" fill-opacity="0.4"/>
<rect x="72.5" y="65.0" width="0.55" height="0.55" fill="#6e78d2" fill-opacity="0.4"/>
<rect x="74.5" y="65.0" width="0.55" height="0.55" fill="#6e78d2" fill-opacity="0.4"/>
<rect x="81.0" y="65.0" width="0.55" height="0.55" fill="#6e78d2" fill-opacity="0.4"/>
<rect x="84.5" y="65.0" width="0.55" height="0.55" fill="#6e78d2" fill-opacity="0.4"/>
<rect x="85.0" y="65.0" width="0.55" height="0.55" fill="#6e78d2" fill-opacity="0.6"/>
<rect x="87.5" y="65.0" width="0.55" height="0.55" fill="#6e78d2" fill-opacity="0.4"/>
<rect x="90.5" y="65.0" width="0.55" height="0.55" fill="#6e78d2" fill-opacity="0.4"/>
<rect x="65.5" y="65.5" width="0.55" height="0.55" fill="#6e78d2" fill-opacity="0.4"/>
<rect x="79.5" y="65.5" width="0.55" height="0.55" fill="#6e78d2" fill-opacity="0.4"/>
<rect x="83.5" y="65.5" width="0.55" height="0.55" fill="#6e78d2" fill-opacity="0.4"/>
<rect x="85.5" y="65.5" width="0.55" height="0.55" fill="#6e78d2" fill-opacity="0.4"/>
<rect x="88.5" y="65.5" width="0.55" height="0.55" fill="#6e78d2" fill-opacity="0.4"/>
<rect x="89.5" y="65.5" width="0.55" height="0.55" fill="#6e78d2" fill-opacity="0.4"/>
<rect x="91.5" y="65.5" width="0.55" height="0.55" fill="#6e78d2" fill-opacity="0.4"/>
<rect x="74.0" y="66.0" width="0.55" height="0.55" fill="#6e78d2" fill-opacity="0.4"/>
<rect x="82.0" y="66.0" width="0.55" height="0.55" fill="#6e78d2" fill-opacity="0.4"/>
<rect x="84.0" y="66.0" width="0.55" height="0.55" fill="#6e78d2" fill-opacity="0.4"/>
<rect x="85.5" y="66.0" width="1.05" height="0.55" fill="#6e78d2" fill-opacity="0.4"/>
<rect x="87.5" y="66.0" width="0.55" height="0.55" fill="#6e78d2" fill-opacity="0.4"/>
<rect x="88.5" y="66.0" width="0.55" height="0.55" fill="#6e78d2" fill-opacity="0.4"/>
<rect x="93.5" y="66.0" width="0.55" height="0.55" fill="#6e78d2" fill-opacity="0.4"/>
<rect x="67.5" y="66.5" width="0.55" height="0.55" fill="#6e78d2" fill-opacity="0.4"/>
<rect x="73.0" y="66.5" width="0.55" height="0.55" fill="#6e78d2" fill-opacity="0.4"/>
<rect x="82.0" y="66.5" width="0.55" height="0.55" fill="#6e78d2" fill-opacity="0.6"/>
<rect x="83.0" y="66.5" width="0.55" height="0.55" fill="#6e78d2" fill-opacity="0.4"/>
<rect x="87.0" y="66.5" width="0.55" height="0.55" fill="#6e78d2" fill-opacity="0.6"/>
<rect x="91.0" y="66.5" width="0.55" height="0.55" fill="#6e78d2" fill-opacity="0.4"/>
<rect x="63.5" y="67.0" width="0.55" height="0.55" fill="#6e78d2" fill-opacity="0.4"/>
<rect x="70.0" y="67.0" width="0.55" height="0.55" fill="#6e78d2" fill-opacity="0.4"/>
<rect x="73.5" y="67.0" width="0.55" height="0.55" fill="#6e78d2" fill-opacity="0.4"/>
<rect x="81.5" y="67.0" width="0.55" height="0.55" fill="#6e78d2" fill-opacity="0.4"/>
<rect x="84.5" y="67.0" width="0.55" height="0.55" fill="#6e78d2" fill-opacity="0.4"/>
<rect x="85.5" y="67.0" width="0.55" height="0.55" fill="#6e78d2" fill-opacity="0.4"/>
<rect x="86.0" y="67.0" width="0.55" height="0.55" fill="#3e56c1"/>
<rect x="88.0" y="67.0" width="0.55" height="0.55" fill="#6e78d2" fill-opacity="0.4"/>
<rect x="89.0" y="67.0" width="0.55" height="0.55" fill="#6e78d2" fill-opacity="0.4"/>
<rect x="93.0" y="67.0" width="0.55" height="0.55" fill="#6e78d2" fill-opacity="0.4"/>
<rect x="95.5" y="67.0" width="0.55" height="0.55" fill="#6e78d2" fill-opacity="0.4"/>
<rect x="97.5" y="67.0" width="0.55" height="0.55" fill="#6e78d2" fill-opacity="0.4"/>
<rect x="63.0" y="67.5" width="0.55" height="0.55" fill="#6e78d2" fill-opacity="0.4"/>
<rect x="68.5" y="67.5" width="0.55" height="0.55" fill="#6e78d2" fill-opacity="0.6"/>
<rect x="72.5" y="67.5" width="1.05" height="0.55" fill="#6e78d2" fill-opacity="0.4"/>
<rect x="80.5" y="67.5" width="0.55" height="0.55" fill="#6e78d2" fill-opacity="0.4"/>
<rect x="83.0" y="67.5" width="0.55" height="0.55" fill="#6e78d2" fill-opacity="0.6"/>
<rect x="86.5" y="67.5" width="0.55" height="0.55" fill="#3e56c1"/>
<rect x="88.0" y="67.5" width="0.55" height="0.55" fill="#3e56c1"/>
<rect x="89.0" y="67.5" width="1.55" height="0.55" fill="#3e56c1"/>
<rect x="90.5" y="67.5" width="0.55" height="0.55" fill="#3153be"/>
<rect x="91.5" y="67.5" width="0.55" height="0.55" fill="#3e56c1"/>
<rect x="93.0" y="67.5" width="1.55" height="0.55" fill="#6e78d2" fill-opacity="0.4"/>
<rect x="95.5" y="67.5" width="0.55" height="0.55" fill="#6e78d2" fill-opacity="0.4"/>
<rect x="98.0" y="67.5" width="0.55" height="0.55" fill="#6e78d2" fill-opacity="0.4"/>
<rect x="62.5" y="68.0" width="0.55" height="0.55" fill="#6e78d2" fill-opacity="0.4"/>
<rect x="66.5" y="68.0" width="0.55" height="0.55" fill="#6e78d2" fill-opacity="0.4"/>
<rect x="67.5" y="68.0" width="0.55" height="0.55" fill="#6e78d2" fill-opacity="0.4"/>
<rect x="83.5" y="68.0" width="1.05" height="0.55" fill="#6e78d2" fill-opacity="0.4"/>
<rect x="85.5" y="68.0" width="0.55" height="0.55" fill="#3e56c1"/>
<rect x="86.5" y="68.0" width="0.55" height="0.55" fill="#3e56c1"/>
<rect x="87.0" y="68.0" width="0.55" height="0.55" fill="#3153be"/>
<rect x="88.0" y="68.0" width="0.55" height="0.55" fill="#3e56c1"/>
<rect x="89.5" y="68.0" width="2.05" height="0.55" fill="#3153be"/>
<rect x="91.5" y="68.0" width="0.55" height="0.55" fill="#3e56c1"/>
<rect x="94.0" y="68.0" width="0.55" height="0.55" fill="#6e78d2" fill-opacity="0.4"/>
<rect x="96.0" y="68.0" width="0.55" height="0.55" fill="#6e78d2" fill-opacity="0.4"/>
<rect x="98.5" y="68.0" width="0.55" height="0.55" fill="#6e78d2" fill-opacity="0.4"/>
<rect x="61.0" y="68.5" width="0.55" height="0.55" fill="#6e78d2" fill-opacity="0.4"/>
<rect x="64.5" y="68.5" width="0.55" height="0.55" fill="#6e78d2" fill-opacity="0.4"/>
<rect x="71.0" y="68.5" width="0.55" height="0.55" fill="#6e78d2" fill-opacity="0.4"/>
<rect x="77.5" y="68.5" width="0.55" height="0.55" fill="#6e78d2" fill-opacity="0.4"/>
<rect x="84.0" y="68.5" width="0.55" height="0.55" fill="#3e56c1"/>
<rect x="85.0" y="68.5" width="0.55" height="0.55" fill="#3e56c1"/>
<rect x="86.5" y="68.5" width="1.05" height="0.55" fill="#3153be"/>
<rect x="88.5" y="68.5" width="0.55" height="0.55" fill="#3153be"/>
<rect x="91.0" y="68.5" width="0.55" height="0.55" fill="#3153be"/>
<rect x="92.0" y="68.5" width="1.05" height="0.55" fill="#3e56c1"/>
<rect x="93.5" y="68.5" width="1.55" height="0.55" fill="#3e56c1"/>
<rect x="98.0" y="68.5" width="0.55" height="0.55" fill="#6e78d2" fill-opacity="0.4"/>
<rect x="63.0" y="69.0" width="0.55" height="0.55" fill="#6e78d2" fill-opacity="0.4"/>
<rect x="64.5" y="69.0" width="0.55" height="0.55" fill="#6e78d2" fill-opacity="0.4"/>
<rect x="67.0" y="69.0" width="0.55" height="0.55" fill="#6e78d2" fill-opacity="0.4"/>
<rect x="69.5" y="69.0" width="0.55" height="0.55" fill="#6e78d2" fill-opacity="0.4"/>
<rect x="73.0" y="69.0" width="0.55" height="0.55" fill="#6e78d2" fill-opacity="0.4"/>
<rect x="81.0" y="69.0" width="0.55" height="0.55" fill="#6e78d2" fill-opacity="0.6"/>
<rect x="82.5" y="69.0" width="0.55" height="0.55" fill="#6e78d2" fill-opacity="0.4"/>
<rect x="84.0" y="69.0" width="1.55" height="0.55" fill="#3e56c1"/>
<rect x="86.0" y="69.0" width="0.55" height="0.55" fill="#3153be"/>
<rect x="87.0" y="69.0" width="0.55" height="0.55" fill="#3153be"/>
<rect x="87.5" y="69.0" width="0.55" height="0.55" fill="#2d6cc6"/>
<rect x="89.5" y="69.0" width="2.55" height="0.55" fill="#3153be"/>
<rect x="93.5" y="69.0" width="0.55" height="0.55" fill="#3e56c1"/>
<rect x="94.5" y="69.0" width="0.55" height="0.55" fill="#3e56c1"/>
<rect x="98.5" y="69.0" width="0.55" height="0.55" fill="#6e78d2" fill-opacity="0.4"/>
<rect x="70.0" y="69.5" width="0.55" height="0.55" fill="#6e78d2" fill-opacity="0.4"/>
<rect x="74.0" y="69.5" width="0.55" height="0.55" fill="#6e78d2" fill-opacity="0.4"/>
<rect x="76.0" y="69.5" width="0.55" height="0.55" fill="#6e78d2" fill-opacity="0.4"/>
<rect x="79.0" y="69.5" width="0.55" height="0.55" fill="#6e78d2" fill-opacity="0.4"/>
<rect x="80.0" y="69.5" width="1.05" height="0.55" fill="#6e78d2" fill-opacity="0.4"/>
<rect x="82.0" y="69.5" width="0.55" height="0.55" fill="#6e78d2" fill-opacity="0.6"/>
<rect x="84.0" y="69.5" width="0.55" height="0.55" fill="#3e56c1"/>
<rect x="87.5" y="69.5" width="1.05" height="0.55" fill="#2d6cc6"/>
<rect x="89.0" y="69.5" width="0.55" height="0.55" fill="#2d6cc6"/>
<rect x="90.0" y="69.5" width="0.55" height="0.55" fill="#2d6cc6"/>
<rect x="91.5" y="69.5" width="0.55" height="0.55" fill="#3153be"/>
<rect x="92.5" y="69.5" width="0.55" height="0.55" fill="#3153be"/>
<rect x="93.5" y="69.5" width="0.55" height="0.55" fill="#3e56c1"/>
<rect x="94.5" y="69.5" width="0.55" height="0.55" fill="#3e56c1"/>
<rect x="96.0" y="69.5" width="0.55" height="0.55" fill="#6e78d2" fill-opacity="0.6"/>
<rect x="96.5" y="69.5" width="0.55" height="0.55" fill="#6e78d2" fill-opacity="0.4"/>
<rect x="62.0" y="70.0" width="0.55" height="0.55" fill="#6e78d2" fill-opacity="0.4"/>
<rect x="70.0" y="70.0" width="0.55" height="0.55" fill="#6e78d2" fill-opacity="0.4"/>
<rect x="72.0" y="70.0" width="0.55" height="0.55" fill="#6e78d2" fill-opacity="0.4"/>
<rect x="73.0" y="70.0" width="0.55" height="0.55" fill="#6e78d2" fill-opacity="0.4"/>
<rect x="75.0" y="70.0" width="0.55" height="0.55" fill="#6e78d2" fill-opacity="0.4"/>
<rect x="76.5" y="70.0" width="0.55" height="0.55" fill="#6e78d2" fill-opacity="0.4"/>
<rect x="78.0" y="70.0" width="0.55" height="0.55" fill="#6e78d2" fill-opacity="0.4"/>
<rect x="85.0" y="70.0" width="0.55" height="0.55" fill="#3153be"/>
<rect x="87.0" y="70.0" width="0.55" height="0.55" fill="#2d6cc6"/>
<rect x="88.0" y="70.0" width="3.05" height="0.55" fill="#2d6cc6"/>
<rect x="91.5" y="70.0" width="2.05" height="0.55" fill="#3153be"/>
<rect x="95.0" y="70.0" width="1.05" height="0.55" fill="#3e56c1"/>
<rect x="96.5" y="70.0" width="1.05" height="0.55" fill="#6e78d2" fill-opacity="0.4"/>
<rect x="100.5" y="70.0" width="0.55" height="0.55" fill="#6e78d2" fill-opacity="0.4"/>
<rect x="66.0" y="70.5" width="0.55" height="0.55" fill="#6e78d2" fill-opacity="0.4"/>
<rect x="68.0" y="70.5" width="1.05" height="0.55" fill="#6e78d2" fill-opacity="0.4"/>
<rect x="76.0" y="70.5" width="0.55" height="0.55" fill="#6e78d2" fill-opacity="0.4"/>
<rect x="84.0" y="70.5" width="1.05" height="0.55" fill="#3153be"/>
<rect x="85.0" y="70.5" width="3.55" height="0.55" fill="#2d6cc6"/>
<rect x="89.0" y="70.5" width="0.55" height="0.55" fill="#2d6cc6"/>
<rect x="90.0" y="70.5" width="1.05" height="0.55" fill="#2d6cc6"/>
<rect x="91.5" y="70.5" width="0.55" height="0.55" fill="#2d6cc6"/>
<rect x="92.5" y="70.5" width="2.55" height="0.55" fill="#3153be"/>
<rect x="59.5" y="71.0" width="0.55" height="0.55" fill="#6e78d2" fill-opacity="0.4"/>
<rect x="63.0" y="71.0" width="0.55" height="0.55" fill="#6e78d2" fill-opacity="0.4"/>
<rect x="66.0" y="71.0" width="0.55" height="0.55" fill="#6e78d2" fill-opacity="0.6"/>
<rect x="70.0" y="71.0" width="1.05" height="0.55" fill="#6e78d2" fill-opacity="0.4"/>
<rect x="74.5" y="71.0" width="0.55" height="0.55" fill="#6e78d2" fill-opacity="0.4"/>
<rect x="80.0" y="71.0" width="0.55" height="0.55" fill="#6e78d2" fill-opacity="0.4"/>
<rect x="83.0" y="71.0" width="0.55" height="0.55" fill="#3e56c1"/>
<rect x="84.0" y="71.0" width="0.55" height="0.55" fill="#3153be"/>
<rect x="84.5" y="71.0" width="1.55" height="0.55" fill="#2d6cc6"/>
<rect x="86.5" y="71.0" width="0.55" height="0.55" fill="#2d6cc6"/>
<rect x="87.5" y="71.0" width="1.05" height="0.55" fill="#2d6cc6"/>
<rect x="88.5" y="71.0" width="1.55" height="0.55" fill="#2a86cd"/>
<rect x="90.0" y="71.0" width="2.05" height="0.55" fill="#2d6cc6"/>
<rect x="93.0" y="71.0" width="2.05" height="0.55" fill="#3153be"/>
<rect x="96.0" y="71.0" width="0.55" height="0.55" fill="#3e56c1"/>
<rect x="97.5" y="71.0" width="0.55" height="0.55" fill="#6e78d2" fill-opacity="0.4"/>
<rect x="61.5" y="71.5" width="0.55" height="0.55" fill="#6e78d2" fill-opacity="0.4"/>
<rect x="64.0" y="71.5" width="0.55" height="0.55" fill="#6e78d2" fill-opacity="0.4"/>
<rect x="66.5" y="71.5" width="0.55" height="0.55" fill="#6e78d2" fill-opacity="0.4"/>
<rect x="67.5" y="71.5" width="0.55" height="0.55" fill="#6e78d2" fill-opacity="0.4"/>
<rect x="70.0" y="71.5" width="0.55" height="0.55" fill="#6e78d2" fill-opacity="0.4"/>
<rect x="71.0" y="71.5" width="0.55" height="0.55" fill="#6e78d2" fill-opacity="0.4"/>
<rect x="74.5" y="71.5" width="0.55" height="0.55" fill="#6e78d2" fill-opacity="0.4"/>
<rect x="80.5" y="71.5" width="0.55" height="0.55" fill="#6e78d2" fill-opacity="0.4"/>
<rect x="82.0" y="71.5" width="0.55" height="0.55" fill="#6e78d2" fill-opacity="0.4"/>
<rect x="83.0" y="71.5" width="0.55" height="0.55" fill="#3e56c1"/>
<rect x="83.5" y="71.5" width="0.55" height="0.55" fill="#3153be"/>
<rect x="84.0" y="71.5" width="1.05" height="0.55" fill="#2d6cc6"/>
<rect x="85.5" y="71.5" width="0.55" height="0.55" fill="#2d6cc6"/>
<rect x="86.5" y="71.5" width="1.55" height="0.55" fill="#2d6cc6"/>
<rect x="88.0" y="71.5" width="3.55" height="0.55" fill="#2a86cd"/>
<rect x="91.5" y="71.5" width="0.55" height="0.55" fill="#2d6cc6"/>
<rect x="92.5" y="71.5" width="0.55" height="0.55" fill="#2d6cc6"/>
<rect x="93.0" y="71.5" width="2.55" height="0.55" fill="#3153be"/>
<rect x="96.0" y="71.5" width="0.55" height="0.55" fill="#3e56c1"/>
<rect x="97.0" y="71.5" width="0.55" height="0.55" fill="#6e78d2" fill-opacity="0.6"/>
<rect x="98.5" y="71.5" width="0.55" height="0.55" fill="#6e78d2" fill-opacity="0.6"/>
<rect x="59.5" y="72.0" width="0.55" height="0.55" fill="#6e78d2" fill-opacity="0.4"/>
<rect x="60.5" y="72.0" width="0.55" height="0.55" fill="#6e78d2" fill-opacity="0.4"/>
<rect x="73.5" y="72.0" width="0.55" height="0.55" fill="#6e78d2" fill-opacity="0.4"/>
<rect x="77.0" y="72.0" width="0.55" height="0.55" fill="#6e78d2" fill-opacity="0.4"/>
<rect x="82.0" y="72.0" width="0.55" height="0.55" fill="#6e78d2" fill-opacity="0.4"/>
<rect x="82.5" y="72.0" width="0.55" height="0.55" fill="#3e56c1"/>
<rect x="83.5" y="72.0" width="0.55" height="0.55" fill="#3153be"/>
<rect x="84.5" y="72.0" width="1.05" height="0.55" fill="#2d6cc6"/>
<rect x="86.0" y="72.0" width="0.55" height="0.55" fill="#2d6cc6"/>
<rect x="87.5" y="72.0" width="1.55" height="0.55" fill="#2a86cd"/>
<rect x="89.5" y="72.0" width="0.55" height="0.55" fill="#2a86cd"/>
<rect x="90.5" y="72.0" width="1.05" height="0.55" fill="#2a86cd"/>
<rect x="91.5" y="72.0" width="1.55" height="0.55" fill="#2d6cc6"/>
<rect x="94.0" y="72.0" width="2.05" height="0.55" fill="#3153be"/>
<rect x="96.0" y="72.0" width="0.55" height="0.55" fill="#3e56c1"/>
<rect x="97.0" y="72.0" width="0.55" height="0.55" fill="#3e56c1"/>
<rect x="100.0" y="72.0" width="0.55" height="0.55" fill="#6e78d2" fill-opacity="0.4"/>
<rect x="64.0" y="72.5" width="0.55" height="0.55" fill="#6e78d2" fill-opacity="0.4"/>
<rect x="66.0" y="72.5" width="0.55" height="0.55" fill="#6e78d2" fill-opacity="0.4"/>
<rect x="68.0" y="72.5" width="0.55" height="0.55" fill="#6e78d2" fill-opacity="0.4"/>
<rect x="70.5" y="72.5" width="0.55" height="0.55" fill="#6e78d2" fill-opacity="0.4"/>
<rect x="73.0" y="72.5" width="1.05" height="0.55" fill="#6e78d2" fill-opacity="0.4"/>
<rect x="76.5" y="72.5" width="1.05" height="0.55" fill="#6e78d2" fill-opacity="0.4"/>
<rect x="80.5" y="72.5" width="0.55" height="0.55" fill="#6e78d2" fill-opacity="0.4"/>
<rect x="81.5" y="72.5" width="0.55" height="0.55" fill="#6e78d2" fill-opacity="0.4"/>
<rect x="82.5" y="72.5" width="0.55" height="0.55" fill="#3e56c1"/>
<rect x="83.5" y="72.5" width="0.55" height="0.55" fill="#3153be"/>
<rect x="85.0" y="72.5" width="1.05" height="0.55" fill="#2d6cc6"/>
<rect x="86.5" y="72.5" width="1.05" height="0.55" fill="#2d6cc6"/>
<rect x="88.0" y="72.5" width="1.05" height="0.55" fill="#2a86cd"/>
<rect x="89.0" y="72.5" width="0.55" height="0.55" fill="#289bc9"/>
<rect x="89.5" y="72.5" width="2.55" height="0.55" fill="#2a86cd"/>
<rect x="92.5" y="72.5" width="1.55" height="0.55" fill="#2d6cc6"/>
<rect x="94.5" y="72.5" width="0.55" height="0.55" fill="#3153be"/>
<rect x="96.0" y="72.5" width="0.55" height="0.55" fill="#3e56c1"/>
<rect x="98.0" y="72.5" width="0.55" height="0.55" fill="#6e78d2" fill-opacity="0.6"/>
<rect x="98.5" y="72.5" width="0.55" height="0.55" fill="#6e78d2" fill-opacity="0.4"/>
<rect x="62.0" y="73.0" width="0.55" height="0.55" fill="#6e78d2" fill-opacity="0.4"/>
<rect x="64.5" y="73.0" width="0.55" height="0.55" fill="#6e78d2" fill-opacity="0.6"/>
<rect x="66.5" y="73.0" width="0.55" height="0.55" fill="#6e78d2" fill-opacity="0.4"/>
<rect x="67.5" y="73.0" width="1.05" height="0.55" fill="#6e78d2" fill-opacity="0.4"/>
<rect x="69.5" y="73.0" width="0.55" height="0.55" fill="#6e78d2" fill-opacity="0.4"/>
<rect x="70.5" y="73.0" width="1.05" height="0.55" fill="#6e78d2" fill-opacity="0.4"/>
<rect x="77.0" y="73.0" width="0.55" height="0.55" fill="#6e78d2" fill-opacity="0.4"/>
<rect x="79.0" y="73.0" width="0.55" height="0.55" fill="#6e78d2" fill-opacity="0.4"/>
<rect x="82.0" y="73.0" width="1.05" height="0.55" fill="#6e78d2" fill-opacity="0.4"/>
<rect x="83.5" y="73.0" width="0.55" height="0.55" fill="#3e56c1"/>
<rect x="84.5" y="73.0" width="1.05" height="0.55" fill="#2d6cc6"/>
<rect x="86.0" y="73.0" width="0.55" height="0.55" fill="#2d6cc6"/>
<rect x="87.0" y="73.0" width="0.55" height="0.55" fill="#2d6cc6"/>
<rect x="87.5" y="73.0" width="4.55" height="0.55" fill="#2a86cd"/>
<rect x="92.5" y="73.0" width="1.55" height="0.55" fill="#2d6cc6"/>
<rect x="95.0" y="73.0" width="0.55" height="0.55" fill="#3153be"/>
<rect x="96.0" y="73.0" width="0.55" height="0.55" fill="#3e56c1"/>
<rect x="97.0" y="73.0" width="0.55" height="0.55" fill="#6e78d2" fill-opacity="0.4"/>
<rect x="99.5" y="73.0" width="0.55" height="0.55" fill="#6e78d2" fill-opacity="0.4"/>
<rect x="58.5" y="73.5" width="0.55" height="0.55" fill="#6e78d2" fill-opacity="0.4"/>
<rect x="60.5" y="73.5" width="0.55" height="0.55" fill="#6e78d2" fill-opacity="0.4"/>
<rect x="63.5" y="73.5" width="0.55" height="0.55" fill="#6e78d2" fill-opacity="0.4"/>
<rect x="66.0" y="73.5" width="0.55" height="0.55" fill="#6e78d2" fill-opacity="0.4"/>
<rect x="68.5" y="73.5" width="0.55" height="0.55" fill="#6e78d2" fill-opacity="0.4"/>
<rect x="70.0" y="73.5" width="0.55" height="0.55" fill="#6e78d2" fill-opacity="0.4"/>
<rect x="73.0" y="73.5" width="0.55" height="0.55" fill="#6e78d2" fill-opacity="0.4"/>
<rect x="78.0" y="73.5" width="0.55" height="0.55" fill="#6e78d2" fill-opacity="0.4"/>
<rect x="81.0" y="73.5" width="0.55" height="0.55" fill="#6e78d2" fill-opacity="0.4"/>
<rect x="84.0" y="73.5" width="1.05" height="0.55" fill="#3153be"/>
<rect x="85.5" y="73.5" width="1.55" height="0.55" fill="#2d6cc6"/>
<rect x="87.5" y="73.5" width="1.05" height="0.55" fill="#2a86cd"/>
<rect x="89.0" y="73.5" width="1.55" height="0.55" fill="#2a86cd"/>
<rect x="91.0" y="73.5" width="0.55" height="0.55" fill="#2a86cd"/>
<rect x="92.0" y="73.5" width="1.05" height="0.55" fill="#2d6cc6"/>
<rect x="93.5" y="73.5" width="1.05" height="0.55" fill="#2d6cc6"/>
<rect x="94.5" y="73.5" width="0.55" height="0.55" fill="#3153be"/>
<rect x="97.5" y="73.5" width="0.55" height="0.55" fill="#6e78d2" fill-opacity="0.4"/>
<rect x="98.5" y="73.5" width="0.55" height="0.55" fill="#6e78d2" fill-opacity="0.4"/>
<rect x="59.5" y="74.0" width="0.55" height="0.55" fill="#6e78d2" fill-opacity="0.4"/>
<rect x="61.5" y="74.0" width="0.55" height="0.55" fill="#6e78d2" fill-opacity="0.4"/>
<rect x="67.0" y="74.0" width="0.55" height="0.55" fill="#6e78d2" fill-opacity="0.4"/>
<rect x="68.0" y="74.0" width="0.55" height="0.55" fill="#6e78d2" fill-opacity="0.4"/>
<rect x="69.0" y="74.0" width="0.55" height="0.55" fill="#6e78d2" fill-opacity="0.4"/>
<rect x="72.0" y="74.0" width="0.55" height="0.55" fill="#6e78d2" fill-opacity="0.4"/>
<rect x="74.0" y="74.0" width="0.55" height="0.55" fill="#6e78d2" fill-opacity="0.4"/>
<rect x="78.0" y="74.0" width="1.05" height="0.55" fill="#6e78d2" fill-opacity="0.4"/>
<rect x="82.0" y="74.0" width="0.55" height="0.55" fill="#6e78d2" fill-opacity="0.6"/>
<rect x="84.0" y="74.0" width="0.55" height="0.55" fill="#3e56c1"/>
<rect x="85.5" y="74.0" width="1.55" height="0.55" fill="#2d6cc6"/>
<rect x="87.5" y="74.0" width="1.05" height="0.55" fill="#2a86cd"/>
<rect x="89.0" y="74.0" width="0.55" height="0.55" fill="#2a86cd"/>
<rect x="90.0" y="74.0" width="1.05" height="0.55" fill="#2a86cd"/>
<rect x="91.0" y="74.0" width="1.55" height="0.55" fill="#2d6cc6"/>
<rect x="94.0" y="74.0" width="0.55" height="0.55" fill="#2d6cc6"/>
<rect x="94.5" y="74.0" width="0.55" height="0.55" fill="#3153be"/>
<rect x="95.5" y="74.0" width="1.05" height="0.55" fill="#3e56c1"/>
<rect x="98.0" y="74.0" width="0.55" height="0.55" fill="#6e78d2" fill-opacity="0.6"/>
<rect x="60.5" y="74.5" width="0.55" height="0.55" fill="#6e78d2" fill-opacity="0.4"/>
<rect x="62.0" y="74.5" width="0.55" height="0.55" fill="#6e78d2" fill-opacity="0.4"/>
<rect x="63.5" y="74.5" width="0.55" height="0.55" fill="#6e78d2" fill-opacity="0.4"/>
<rect x="67.5" y="74.5" width="0.55" height="0.55" fill="#6e78d2" fill-opacity="0.4"/>
<rect x="70.5" y="74.5" width="0.55" height="0.55" fill="#6e78d2" fill-opacity="0.4"/>
<rect x="71.5" y="74.5" width="0.55" height="0.55" fill="#6e78d2" fill-opacity="0.4"/>
<rect x="74.0" y="74.5" width="0.55" height="0.55" fill="#6e78d2" fill-opacity="0.4"/>
<rect x="79.0" y="74.5" width="0.55" height="0.55" fill="#6e78d2" fill-opacity="0.4"/>
<rect x="81.5" y="74.5" width="0.55" height="0.55" fill="#6e78d2" fill-opacity="0.4"/>
<rect x="82.5" y="74.5" width="0.55" height="0.55" fill="#3e56c1"/>
<rect x="83.5" y="74.5" width="1.05" height="0.55" fill="#3e56c1"/>
<rect x="85.0" y="74.5" width="1.05" height="0.55" fill="#3153be"/>
<rect x="86.0" y="74.5" width="1.05" height="0.55" fill="#2d6cc6"/>
<rect x="87.0" y="74.5" width="0.55" height="0.55" fill="#2a86cd"/>
<rect x="88.5" y="74.5" width="2.55" height="0.55" fill="#2a86cd"/>
<rect x="91.0" y="74.5" width="4.05" height="0.55" fill="#2d6cc6"/>
<rect x="97.0" y="74.5" width="0.55" height="0.55" fill="#6e78d2" fill-opacity="0.4"/>
<rect x="58.0" y="75.0" width="0.55" height="0.55" fill="#6e78d2" fill-opacity="0.4"/>
<rect x="60.0" y="75.0" width="0.55" height="0.55" fill="#6e78d2" fill-opacity="0.4"/>
<rect x="70.5" y="75.0" width="0.55" height="0.55" fill="#6e78d2" fill-opacity="0.4"/>
<rect x="77.0" y="75.0" width="0.55" height="0.55" fill="#6e78d2" fill-opacity="0.4"/>
<rect x="78.5" y="75.0" width="0.55" height="0.55" fill="#6e78d2" fill-opacity="0.4"/>
<rect x="79.5" y="75.0" width="0.55" height="0.55" fill="#6e78d2" fill-opacity="0.6"/>
<rect x="81.5" y="75.0" width="0.55" height="0.55" fill="#6e78d2" fill-opacity="0.4"/>
<rect x="82.0" y="75.0" width="0.55" height="0.55" fill="#3e56c1"/>
<rect x="83.5" y="75.0" width="0.55" height="0.55" fill="#3e56c1"/>
<rect x="84.5" y="75.0" width="0.55" height="0.55" fill="#3e56c1"/>
<rect x="85.0" y="75.0" width="1.05" height="0.55" fill="#3153be"/>
<rect x="86.0" y="75.0" width="1.05" height="0.55" fill="#2d6cc6"/>
<rect x="87.0" y="75.0" width="4.05" height="0.55" fill="#2a86cd"/>
<rect x="91.0" y="75.0" width="0.55" height="0.55" fill="#2d6cc6"/>
<rect x="92.0" y="75.0" width="0.55" height="0.55" fill="#2d6cc6"/>
<rect x="93.5" y="75.0" width="1.05" height="0.55" fill="#2d6cc6"/>
<rect x="94.5" y="75.0" width="0.55" height="0.55" fill="#3153be"/>
<rect x="96.0" y="75.0" width="0.55" height="0.55" fill="#6e78d2" fill-opacity="0.4"/>
<rect x="97.0" y="75.0" width="0.55" height="0.55" fill="#6e78d2" fill-opacity="0.4"/>
<rect x="67.5" y="75.5" width="0.55" height="0.55" fill="#6e78d2" fill-opacity="0.4"/>
<rect x="72.0" y="75.5" width="1.05" height="0.55" fill="#6e78d2" fill-opacity="0.4"/>
<rect x="73.5" y="75.5" width="0.55" height="0.55" fill="#6e78d2" fill-opacity="0.4"/>
<rect x="79.0" y="75.5" width="0.55" height="0.55" fill="#6e78d2" fill-opacity="0.6"/>
<rect x="82.0" y="75.5" width="1.05" height="0.55" fill="#3e56c1"/>
<rect x="83.5" y="75.5" width="0.55" height="0.55" fill="#3e56c1"/>
<rect x="85.0" y="75.5" width="0.55" height="0.55" fill="#3153be"/>
<rect x="86.0" y="75.5" width="1.05" height="0.55" fill="#2d6cc6"/>
<rect x="87.0" y="75.5" width="2.05" height="0.55" fill="#2a86cd"/>
<rect x="90.0" y="75.5" width="0.55" height="0.55" fill="#2d6cc6"/>
<rect x="90.5" y="75.5" width="0.55" height="0.55" fill="#2a86cd"/>
<rect x="91.0" y="75.5" width="0.55" height="0.55" fill="#2d6cc6"/>
<rect x="92.0" y="75.5" width="0.55" height="0.55" fill="#2d6cc6"/>
<rect x="92.5" y="75.5" width="1.05" height="0.55" fill="#3153be"/>
<rect x="94.0" y="75.5" width="1.05" height="0.55" fill="#3153be"/>
<rect x="95.0" y="75.5" width="0.55" height="0.55" fill="#3e56c1"/>
<rect x="97.5" y="75.5" width="0.55" height="0.55" fill="#6e78d2" fill-opacity="0.6"/>
<rect x="61.5" y="76.0" width="0.55" height="0.55" fill="#6e78d2" fill-opacity="0.4"/>
<rect x="63.0" y="76.0" width="0.55" height="0.55" fill="#6e78d2" fill-opacity="0.4"/>
<rect x="65.0" y="76.0" width="0.55" height="0.55" fill="#6e78d2" fill-opacity="0.4"/>
<rect x="67.0" y="76.0" width="0.55" height="0.55" fill="#6e78d2" fill-opacity="0.4"/>
<rect x="68.5" y="76.0" width="0.55" height="0.55" fill="#6e78d2" fill-opacity="0.6"/>
<rect x="72.0" y="76.0" width="0.55" height="0.55" fill="#6e78d2" fill-opacity="0.4"/>
<rect x="73.5" y="76.0" width="0.55" height="0.55" fill="#6e78d2" fill-opacity="0.4"/>
<rect x="75.0" y="76.0" width="0.55" height="0.55" fill="#6e78d2" fill-opacity="0.4"/>
<rect x="76.5" y="76.0" width="0.55" height="0.55" fill="#6e78d2" fill-opacity="0.4"/>
<rect x="78.0" y="76.0" width="0.55" height="0.55" fill="#6e78d2" fill-opacity="0.4"/>
<rect x="79.5" y="76.0" width="0.55" height="0.55" fill="#6e78d2" fill-opacity="0.4"/>
<rect x="82.5" y="76.0" width="0.55" height="0.55" fill="#6e78d2" fill-opacity="0.4"/>
<rect x="83.5" y="76.0" width="0.55" height="0.55" fill="#6e78d2" fill-opacity="0.4"/>
<rect x="84.5" y="76.0" width="0.55" height="0.55" fill="#3e56c1"/>
<rect x="86.0" y="76.0" width="0.55" height="0.55" fill="#3153be"/>
<rect x="86.5" y="76.0" width="1.55" height="0.55" fill="#2d6cc6"/>
<rect x="88.5" y="76.0" width="1.55" height="0.55" fill="#2d6cc6"/>
<rect x="90.5" y="76.0" width="1.05" height="0.55" fill="#2a86cd"/>
<rect x="91.5" y="76.0" width="0.55" height="0.55" fill="#2d6cc6"/>
<rect x="93.0" y="76.0" width="0.55" height="0.55" fill="#3153be"/>
<rect x="94.5" y="76.0" width="0.55" height="0.55" fill="#3153be"/>
<rect x="97.0" y="76.0" width="1.05" height="0.55" fill="#6e78d2" fill-opacity="0.4"/>
<rect x="62.5" y="76.5" width="0.55" height="0.55" fill="#6e78d2" fill-opacity="0.4"/>
<rect x="66.0" y="76.5" width="0.55" height="0.55" fill="#6e78d2" fill-opacity="0.4"/>
<rect x="67.5" y="76.5" width="0.55" height="0.55" fill="#6e78d2" fill-opacity="0.4"/>
<rect x="69.5" y="76.5" width="0.55" height="0.55" fill="#6e78d2" fill-opacity="0.4"/>
<rect x="71.5" y="76.5" width="0.55" height="0.55" fill="#6e78d2" fill-opacity="0.6"/>
<rect x="72.0" y="76.5" width="0.55" height="0.55" fill="#6e78d2" fill-opacity="0.4"/>
<rect x="81.5" y="76.5" width="0.55" height="0.55" fill="#6e78d2" fill-opacity="0.4"/>
<rect x="84.5" y="76.5" width="0.55" height="0.55" fill="#3e56c1"/>
<rect x="86.5" y="76.5" width="0.55" height="0.55" fill="#3153be"/>
<rect x="87.5" y="76.5" width="0.55" height="0.55" fill="#2d6cc6"/>
<rect x="88.5" y="76.5" width="2.05" height="0.55" fill="#2d6cc6"/>
<rect x="91.0" y="76.5" width="0.55" height="0.55" fill="#2a86cd"/>
<rect x="91.5" y="76.5" width="1.05" height="0.55" fill="#2d6cc6"/>
<rect x="93.5" y="76.5" width="0.55" height="0.55" fill="#3e56c1"/>
<rect x="94.5" y="76.5" width="0.55" height="0.55" fill="#3e56c1"/>
<rect x="96.0" y="76.5" width="1.05" height="0.55" fill="#6e78d2" fill-opacity="0.4"/>
<rect x="97.5" y="76.5" width="0.55" height="0.55" fill="#6e78d2" fill-opacity="0.4"/>
<rect x="56.5" y="77.0" width="0.55" height="0.55" fill="#6e78d2" fill-opacity="0.4"/>
<rect x="59.0" y="77.0" width="0.55" height="0.55" fill="#6e78d2" fill-opacity="0.4"/>
<rect x="62.5" y="77.0" width="0.55" height="0.55" fill="#6e78d2" fill-opacity="0.4"/>
<rect x="68.0" y="77.0" width="0.55" height="0.55" fill="#6e78d2" fill-opacity="0.4"/>
<rect x="69.5" y="77.0" width="0.55" height="0.55" fill="#6e78d2" fill-opacity="0.4"/>
<rect x="71.5" y="77.0" width="0.55" height="0.55" fill="#6e78d2" fill-opacity="0.4"/>
<rect x="81.5" y="77.0" width="0.55" height="0.55" fill="#6e78d2" fill-opacity="0.6"/>
<rect x="83.0" y="77.0" width="0.55" height="0.55" fill="#6e78d2" fill-opacity="0.6"/>
<rect x="84.5" y="77.0" width="0.55" height="0.55" fill="#3e56c1"/>
<rect x="87.0" y="77.0" width="1.05" height="0.55" fill="#3153be"/>
<rect x="88.0" y="77.0" width="2.55" height="0.55" fill="#2d6cc6"/>
<rect x="90.5" y="77.0" width="1.05" height="0.55" fill="#2a86cd"/>
<rect x="91.5" y="77.0" width="0.55" height="0.55" fill="#2d6cc6"/>
<rect x="92.5" y="77.0" width="0.55" height="0.55" fill="#3153be"/>
<rect x="93.0" y="77.0" width="0.55" height="0.55" fill="#3e56c1"/>
<rect x="95.0" y="77.0" width="0.55" height="0.55" fill="#6e78d2" fill-opacity="0.4"/>
<rect x="97.0" y="77.0" width="0.55" height="0.55" fill="#6e78d2" fill-opacity="0.4"/>
<rect x="60.0" y="77.5" width="0.55" height="0.55" fill="#6e78d2" fill-opacity="0.4"/>
<rect x="64.0" y="77.5" width="0.55" height="0.55" fill="#6e78d2" fill-opacity="0.4"/>
<rect x="70.5" y="77.5" width="0.55" height="0.55" fill="#6e78d2" fill-opacity="0.4"/>
<rect x="72.0" y="77.5" width="0.55" height="0.55" fill="#6e78d2" fill-opacity="0.4"/>
<rect x="81.5" y="77.5" width="0.55" height="0.55" fill="#6e78d2" fill-opacity="0.4"/>
<rect x="83.0" y="77.5" width="0.55" height="0.55" fill="#6e78d2" fill-opacity="0.6"/>
<rect x="85.0" y="77.5" width="1.05" height="0.55" fill="#3e56c1"/>
<rect x="87.5" y="77.5" width="1.05" height="0.55" fill="#3153be"/>
<rect x="89.0" y="77.5" width="3.55" height="0.55" fill="#2d6cc6"/>
<rect x="94.0" y="77.5" width="0.55" height="0.55" fill="#6e78d2" fill-opacity="0.4"/>
<rect x="96.0" y="77.5" width="0.55" height="0.55" fill="#3e56c1"/>
<rect x="96.5" y="77.5" width="1.05" height="0.55" fill="#6e78d2" fill-opacity="0.4"/>
<rect x="66.5" y="78.0" width="0.55" height="0.55" fill="#6e78d2" fill-opacity="0.4"/>
<rect x="69.5" y="78.0" width="0.55" height="0.55" fill="#6e78d2" fill-opacity="0.4"/>
<rect x="77.0" y="78.0" width="0.55" height="0.55" fill="#6e78d2" fill-opacity="0.4"/>
<rect x="84.0" y="78.0" width="1.05" height="0.55" fill="#6e78d2" fill-opacity="0.4"/>
<rect x="87.0" y="78.0" width="0.55" height="0.55" fill="#3e56c1"/>
<rect x="89.0" y="78.0" width="0.55" height="0.55" fill="#2d6cc6"/>
<rect x="90.5" y="78.0" width="1.55" height="0.55" fill="#2d6cc6"/>
<rect x="92.0" y="78.0" width="1.05" height="0.55" fill="#3153be"/>
<rect x="93.0" y="78.0" width="0.55" height="0.55" fill="#3e56c1"/>
<rect x="94.0" y="78.0" width="1.05" height="0.55" fill="#6e78d2" fill-opacity="0.4"/>
<rect x="95.5" y="78.0" width="0.55" height="0.55" fill="#6e78d2" fill-opacity="0.6"/>
<rect x="96.0" y="78.0" width="0.55" height="0.55" fill="#6e78d2" fill-opacity="0.4"/>
<rect x="65.0" y="78.5" width="0.55" height="0.55" fill="#6e78d2" fill-opacity="0.4"/>
<rect x="66.5" y="78.5" width="0.55" height="0.55" fill="#6e78d2" fill-opacity="0.4"/>
<rect x="70.5" y="78.5" width="1.05" height="0.55" fill="#6e78d2" fill-opacity="0.4"/>
<rect x="72.0" y="78.5" width="0.55" height="0.55" fill="#6e78d2" fill-opacity="0.4"/>
<rect x="77.0" y="78.5" width="0.55" height="0.55" fill="#6e78d2" fill-opacity="0.4"/>
<rect x="78.5" y="78.5" width="0.55" height="0.55" fill="#6e78d2" fill-opacity="0.4"/>
<rect x="80.5" y="78.5" width="0.55" height="0.55" fill="#6e78d2" fill-opacity="0.4"/>
<rect x="82.5" y="78.5" width="0.55" height="0.55" fill="#6e78d2" fill-opacity="0.6"/>
<rect x="83.0" y="78.5" width="0.55" height="0.55" fill="#6e78d2" fill-opacity="0.4"/>
<rect x="84.0" y="78.5" width="0.55" height="0.55" fill="#6e78d2" fill-opacity="0.4"/>
<rect x="85.5" y="78.5" width="0.55" height="0.55" fill="#6e78d2" fill-opacity="0.4"/>
<rect x="86.5" y="78.5" width="0.55" height="0.55" fill="#6e78d2" fill-opacity="0.6"/>
<rect x="87.5" y="78.5" width="0.55" height="0.55" fill="#3e56c1"/>
<rect x="88.0" y="78.5" width="1.05" height="0.55" fill="#3153be"/>
<rect x="89.0" y="78.5" width="1.05" height="0.55" fill="#2d6cc6"/>
<rect x="90.5" y="78.5" width="0.55" height="0.55" fill="#3153be"/>
<rect x="92.5" y="78.5" width="0.55" height="0.55" fill="#3e56c1"/>
<rect x="95.5" y="78.5" width="0.55" height="0.55" fill="#6e78d2" fill-opacity="0.4"/>
<rect x="97.0" y="78.5" width="0.55" height="0.55" fill="#6e78d2" fill-opacity="0.4"/>
<rect x="59.5" y="79.0" width="0.55" height="0.55" fill="#6e78d2" fill-opacity="0.4"/>
<rect x="65.0" y="79.0" width="0.55" height="0.55" fill="#6e78d2" fill-opacity="0.6"/>
<rect x="71.5" y="79.0" width="0.55" height="0.55" fill="#6e78d2" fill-opacity="0.4"/>
<rect x="81.0" y="79.0" width="0.55" height="0.55" fill="#6e78d2" fill-opacity="0.4"/>
<rect x="86.5" y="79.0" width="0.55" height="0.55" fill="#6e78d2" fill-opacity="0.4"/>
<rect x="88.0" y="79.0" width="1.05" height="0.55" fill="#3153be"/>
<rect x="89.0" y="79.0" width="0.55" height="0.55" fill="#2d6cc6"/>
<rect x="91.0" y="79.0" width="1.05" height="0.55" fill="#3e56c1"/>
<rect x="93.0" y="79.0" width="0.55" height="0.55" fill="#3e56c1"/>
<rect x="94.5" y="79.0" width="0.55" height="0.55" fill="#6e78d2" fill-opacity="0.4"/>
<rect x="62.5" y="79.5" width="0.55" height="0.55" fill="#6e78d2" fill-opacity="0.4"/>
<rect x="70.5" y="79.5" width="0.55" height="0.55" fill="#6e78d2" fill-opacity="0.4"/>
<rect x="72.0" y="79.5" width="0.55" height="0.55" fill="#6e78d2" fill-opacity="0.4"/>
<rect x="74.0" y="79.5" width="0.55" height="0.55" fill="#6e78d2" fill-opacity="0.4"/>
<rect x="78.5" y="79.5" width="0.55" height="0.55" fill="#6e78d2" fill-opacity="0.4"/>
<rect x="85.5" y="79.5" width="0.55" height="0.55" fill="#6e78d2" fill-opacity="0.4"/>
<rect x="87.5" y="79.5" width="0.55" height="0.55" fill="#3e56c1"/>
<rect x="88.5" y="79.5" width="0.55" height="0.55" fill="#3153be"/>
<rect x="89.5" y="79.5" width="1.05" height="0.55" fill="#3153be"/>
<rect x="91.5" y="79.5" width="0.55" height="0.55" fill="#3e56c1"/>
<rect x="93.0" y="79.5" width="0.55" height="0.55" fill="#3153be"/>
<rect x="93.5" y="79.5" width="0.55" height="0.55" fill="#3e56c1"/>
<rect x="62.0" y="80.0" width="0.55" height="0.55" fill="#6e78d2" fill-opacity="0.4"/>
<rect x="70.5" y="80.0" width="0.55" height="0.55" fill="#6e78d2" fill-opacity="0.4"/>
<rect x="80.0" y="80.0" width="0.55" height="0.55" fill="#6e78d2" fill-opacity="0.4"/>
<rect x="84.0" y="80.0" width="1.55" height="0.55" fill="#6e78d2" fill-opacity="0.4"/>
<rect x="87.0" y="80.0" width="1.05" height="0.55" fill="#3e56c1"/>
<rect x="88.0" y="80.0" width="1.55" height="0.55" fill="#3153be"/>
<rect x="90.0" y="80.0" width="0.55" height="0.55" fill="#3153be"/>
<rect x="91.0" y="80.0" width="1.05" height="0.55" fill="#3e56c1"/>
<rect x="93.0" y="80.0" width="1.05" height="0.55" fill="#3153be"/>
<rect x="99.0" y="80.0" width="0.55" height="0.55" fill="#6e78d2" fill-opacity="0.4"/>
<rect x="81.5" y="80.5" width="0.55" height="0.55" fill="#6e78d2" fill-opacity="0.4"/>
<rect x="84.5" y="80.5" width="0.55" height="0.55" fill="#6e78d2" fill-opacity="0.4"/>
<rect x="86.5" y="80.5" width="1.05" height="0.55" fill="#3e56c1"/>
<rect x="88.0" y="80.5" width="0.55" height="0.55" fill="#3153be"/>
<rect x="89.0" y="80.5" width="0.55" height="0.55" fill="#3153be"/>
<rect x="90.5" y="80.5" width="2.05" height="0.55" fill="#3153be"/>
<rect x="93.0" y="80.5" width="0.55" height="0.55" fill="#3153be"/>
<rect x="93.5" y="80.5" width="0.55" height="0.55" fill="#3e56c1"/>
<rect x="70.0" y="81.0" width="0.55" height="0.55" fill="#6e78d2" fill-opacity="0.4"/>
<rect x="74.5" y="81.0" width="0.55" height="0.55" fill="#6e78d2" fill-opacity="0.4"/>
<rect x="86.0" y="81.0" width="0.55" height="0.55" fill="#6e78d2" fill-opacity="0.4"/>
<rect x="86.5" y="81.0" width="0.55" height="0.55" fill="#3e56c1"/>
<rect x="88.0" y="81.0" width="0.55" height="0.55" fill="#3e56c1"/>
<rect x="89.5" y="81.0" width="1.55" height="0.55" fill="#3153be"/>
<rect x="91.5" y="81.0" width="1.05" height="0.55" fill="#3153be"/>
<rect x="94.5" y="81.0" width="1.05" height="0.55" fill="#6e78d2" fill-opacity="0.4"/>
<rect x="97.0" y="81.0" width="0.55" height="0.55" fill="#6e78d2" fill-opacity="0.4"/>
<rect x="60.5" y="81.5" width="0.55" height="0.55" fill="#6e78d2" fill-opacity="0.4"/>
<rect x="76.0" y="81.5" width="0.55" height="0.55" fill="#6e78d2" fill-opacity="0.4"/>
<rect x="80.0" y="81.5" width="1.05" height="0.55" fill="#6e78d2" fill-opacity="0.4"/>
<rect x="86.5" y="81.5" width="0.55" height="0.55" fill="#3e56c1"/>
<rect x="88.0" y="81.5" width="1.05" height="0.55" fill="#3e56c1"/>
<rect x="90.0" y="81.5" width="0.55" height="0.55" fill="#3153be"/>
<rect x="91.0" y="81.5" width="0.55" height="0.55" fill="#3153be"/>
<rect x="94.0" y="81.5" width="0.55" height="0.55" fill="#6e78d2" fill-opacity="0.4"/>
<rect x="61.0" y="82.0" width="0.55" height="0.55" fill="#6e78d2" fill-opacity="0.4"/>
<rect x="70.0" y="82.0" width="1.05" height="0.55" fill="#6e78d2" fill-opacity="0.4"/>
<rect x="82.5" y="82.0" width="0.55" height="0.55" fill="#6e78d2" fill-opacity="0.4"/>
<rect x="83.5" y="82.0" width="0.55" height="0.55" fill="#6e78d2" fill-opacity="0.4"/>
<rect x="85.0" y="82.0" width="2.05" height="0.55" fill="#6e78d2" fill-opacity="0.4"/>
<rect x="89.5" y="82.0" width="0.55" height="0.55" fill="#3153be"/>
<rect x="90.5" y="82.0" width="0.55" height="0.55" fill="#3153be"/>
<rect x="91.5" y="82.0" width="0.55" height="0.55" fill="#3e56c1"/>
<rect x="93.5" y="82.0" width="0.55" height="0.55" fill="#6e78d2" fill-opacity="0.4"/>
<rect x="95.0" y="82.0" width="0.55" height="0.55" fill="#6e78d2" fill-opacity="0.4"/>
<rect x="98.5" y="82.0" width="0.55" height="0.55" fill="#6e78d2" fill-opacity="0.4"/>
<rect x="89.5" y="82.5" width="2.05" height="0.55" fill="#3153be"/>
<rect x="92.5" y="82.5" width="0.55" height="0.55" fill="#6e78d2" fill-opacity="0.4"/>
<rect x="93.5" y="82.5" width="0.55" height="0.55" fill="#6e78d2" fill-opacity="0.4"/>
<rect x="94.5" y="82.5" width="0.55" height="0.55" fill="#6e78d2" fill-opacity="0.4"/>
<rect x="84.5" y="83.0" width="0.55" height="0.55" fill="#6e78d2" fill-opacity="0.4"/>
<rect x="87.5" y="83.0" width="0.55" height="0.55" fill="#6e78d2" fill-opacity="0.6"/>
<rect x="88.5" y="83.0" width="0.55" height="0.55" fill="#3e56c1"/>
<rect x="89.0" y="83.0" width="2.55" height="0.55" fill="#3153be"/>
<rect x="91.5" y="83.0" width="0.55" height="0.55" fill="#3e56c1"/>
<rect x="92.0" y="83.0" width="0.55" height="0.55" fill="#6e78d2" fill-opacity="0.4"/>
<rect x="94.0" y="83.0" width="0.55" height="0.55" fill="#6e78d2" fill-opacity="0.4"/>
<rect x="81.0" y="83.5" width="0.55" height="0.55" fill="#6e78d2" fill-opacity="0.4"/>
<rect x="86.5" y="83.5" width="0.55" height="0.55" fill="#6e78d2" fill-opacity="0.4"/>
<rect x="89.0" y="83.5" width="1.05" height="0.55" fill="#3153be"/>
<rect x="90.5" y="83.5" width="0.55" height="0.55" fill="#3153be"/>
<rect x="95.0" y="83.5" width="0.55" height="0.55" fill="#6e78d2" fill-opacity="0.4"/>
<rect x="97.0" y="83.5" width="0.55" height="0.55" fill="#6e78d2" fill-opacity="0.4"/>
<rect x="86.0" y="84.0" width="0.55" height="0.55" fill="#6e78d2" fill-opacity="0.4"/>
<rect x="88.5" y="84.0" width="1.05" height="0.55" fill="#3e56c1"/>
<rect x="89.5" y="84.0" width="0.55" height="0.55" fill="#3153be"/>
<rect x="91.0" y="84.0" width="1.05" height="0.55" fill="#3e56c1"/>
<rect x="92.5" y="84.0" width="0.55" height="0.55" fill="#6e78d2" fill-opacity="0.4"/>
<rect x="95.0" y="84.0" width="0.55" height="0.55" fill="#6e78d2" fill-opacity="0.4"/>
<rect x="71.0" y="84.5" width="0.55" height="0.55" fill="#6e78d2" fill-opacity="0.4"/>
<rect x="87.5" y="84.5" width="0.55" height="0.55" fill="#6e78d2" fill-opacity="0.4"/>
<rect x="89.5" y="84.5" width="0.55" height="0.55" fill="#3e56c1"/>
<rect x="91.5" y="84.5" width="0.55" height="0.55" fill="#3e56c1"/>
<rect x="93.0" y="84.5" width="0.55" height="0.55" fill="#6e78d2" fill-opacity="0.6"/>
<rect x="95.5" y="84.5" width="0.55" height="0.55" fill="#6e78d2" fill-opacity="0.4"/>
<rect x="66.0" y="85.0" width="0.55" height="0.55" fill="#6e78d2" fill-opacity="0.4"/>
<rect x="73.5" y="85.0" width="0.55" height="0.55" fill="#6e78d2" fill-opacity="0.4"/>
<rect x="85.0" y="85.0" width="0.55" height="0.55" fill="#6e78d2" fill-opacity="0.4"/>
<rect x="87.0" y="85.0" width="0.55" height="0.55" fill="#6e78d2" fill-opacity="0.4"/>
<rect x="89.5" y="85.0" width="0.55" height="0.55" fill="#6e78d2" fill-opacity="0.4"/>
<rect x="91.5" y="85.0" width="0.55" height="0.55" fill="#3e56c1"/>
<rect x="87.0" y="85.5" width="0.55" height="0.55" fill="#6e78d2" fill-opacity="0.4"/>
<rect x="89.5" y="85.5" width="0.55" height="0.55" fill="#6e78d2" fill-opacity="0.4"/>
<rect x="90.5" y="85.5" width="0.55" height="0.55" fill="#6e78d2" fill-opacity="0.6"/>
<rect x="91.5" y="85.5" width="1.05" height="0.55" fill="#6e78d2" fill-opacity="0.4"/>
<rect x="86.0" y="86.0" width="0.55" height="0.55" fill="#6e78d2" fill-opacity="0.4"/>
<rect x="89.0" y="86.0" width="0.55" height="0.55" fill="#6e78d2" fill-opacity="0.4"/>
<rect x="91.5" y="86.0" width="1.05" height="0.55" fill="#6e78d2" fill-opacity="0.4"/>
<rect x="93.0" y="86.0" width="0.55" height="0.55" fill="#6e78d2" fill-opacity="0.4"/>
<rect x="65.0" y="86.5" width="0.55" height="0.55" fill="#6e78d2" fill-opacity="0.4"/>
<rect x="88.0" y="86.5" width="0.55" height="0.55" fill="#6e78d2" fill-opacity="0.6"/>
<rect x="63.0" y="87.0" width="0.55" height="0.55" fill="#6e78d2" fill-opacity="0.4"/>
<rect x="68.5" y="87.0" width="0.55" height="0.55" fill="#6e78d2" fill-opacity="0.4"/>
<rect x="87.0" y="87.0" width="0.55" height="0.55" fill="#6e78d2" fill-opacity="0.4"/>
<rect x="89.0" y="87.0" width="0.55" height="0.55" fill="#6e78d2" fill-opacity="0.4"/>
<rect x="90.0" y="87.0" width="1.55" height="0.55" fill="#6e78d2" fill-opacity="0.4"/>
<rect x="93.0" y="87.0" width="0.55" height="0.55" fill="#6e78d2" fill-opacity="0.4"/>
<rect x="77.0" y="87.5" width="0.55" height="0.55" fill="#6e78d2" fill-opacity="0.4"/>
<rect x="87.5" y="87.5" width="0.55" height="0.55" fill="#6e78d2" fill-opacity="0.4"/>
<rect x="91.5" y="87.5" width="0.55" height="0.55" fill="#6e78d2" fill-opacity="0.4"/>
<rect x="88.5" y="88.0" width="1.05" height="0.55" fill="#6e78d2" fill-opacity="0.4"/>
<rect x="90.0" y="88.0" width="0.55" height="0.55" fill="#6e78d2" fill-opacity="0.4"/>
<rect x="91.0" y="88.0" width="0.55" height="0.55" fill="#6e78d2" fill-opacity="0.6"/>
<rect x="92.0" y="88.0" width="0.55" height="0.55" fill="#6e78d2" fill-opacity="0.4"/>
<rect x="93.0" y="88.0" width="0.55" height="0.55" fill="#6e78d2" fill-opacity="0.4"/>
<rect x="68.0" y="88.5" width="0.55" height="0.55" fill="#6e78d2" fill-opacity="0.4"/>
<rect x="86.0" y="88.5" width="0.55" height="0.55" fill="#6e78d2" fill-opacity="0.4"/>
<rect x="88.0" y="88.5" width="0.55" height="0.55" fill="#6e78d2" fill-opacity="0.4"/>
<rect x="91.0" y="88.5" width="0.55" height="0.55" fill="#6e78d2" fill-opacity="0.4"/>
<rect x="95.0" y="89.0" width="0.55" height="0.55" fill="#6e78d2" fill-opacity="0.4"/>
</g>
<line x1="79.60" y1="45.50" x2="79.60" y2="89.80" stroke="#666" stroke-width="0.75" />
<line x1="56.50" y1="65.40" x2="101.20" y2="65.40" stroke="#666" stroke-width="0.75" />
<rect x="56.20" y="45.00" width="45.30" height="45.10" fill="none" stroke="#222" stroke-width="0.85" />
<text x="44.3" y="52.7" font-size="6.3">10<tspan dy="-2.8" font-size="4.6">5</tspan></text>
<text x="44.3" y="62.8" font-size="6.3">10<tspan dy="-2.8" font-size="4.6">4</tspan></text>
<text x="44.3" y="73.2" font-size="6.3">10<tspan dy="-2.8" font-size="4.6">3</tspan></text>
<text x="44.3" y="83.7" font-size="6.3">10<tspan dy="-2.8" font-size="4.6">2</tspan></text>
<text x="50.20" y="89.70" font-size="6.0" >0</text>
<line x1="54.80" y1="49.50" x2="56.20" y2="49.50" stroke="#000" stroke-width="0.6" />
<line x1="54.80" y1="59.80" x2="56.20" y2="59.80" stroke="#000" stroke-width="0.6" />
<line x1="54.80" y1="70.20" x2="56.20" y2="70.20" stroke="#000" stroke-width="0.6" />
<line x1="54.80" y1="80.60" x2="56.20" y2="80.60" stroke="#000" stroke-width="0.6" />
<text x="61.8" y="97.1" font-size="6.2" text-anchor="middle" transform="rotate(-45 61.8 97.1)">0</text>
<text x="69.2" y="100.6" font-size="6.2" text-anchor="middle" transform="rotate(-45 69.2 100.6)">10<tspan dy="-2.6" font-size="4.3">2</tspan></text>
<text x="78.6" y="100.6" font-size="6.2" text-anchor="middle" transform="rotate(-45 78.6 100.6)">10<tspan dy="-2.6" font-size="4.3">3</tspan></text>
<text x="88.2" y="100.6" font-size="6.2" text-anchor="middle" transform="rotate(-45 88.2 100.6)">10<tspan dy="-2.6" font-size="4.3">4</tspan></text>
<text x="97.8" y="100.6" font-size="6.2" text-anchor="middle" transform="rotate(-45 97.8 100.6)">10<tspan dy="-2.6" font-size="4.3">5</tspan></text>
<line x1="69.90" y1="107.70" x2="84.50" y2="107.70" stroke="#000" stroke-width="1.1" />
<path d="M89.80,107.70 L84.00,105.90 L84.00,109.50 Z" fill="#000" />
<text x="80.00" y="117.10" font-size="9.2" text-anchor="middle" font-weight="bold" textLength="12.0" lengthAdjust="spacingAndGlyphs" >CD5</text>
<text x="31.20" y="70.20" font-size="9.4" text-anchor="middle" font-weight="bold" textLength="14.8" lengthAdjust="spacingAndGlyphs" transform="rotate(-90 31.20 70.20)" >CD19</text>
<line x1="36.60" y1="78.40" x2="36.60" y2="65.10" stroke="#000" stroke-width="1.0" />
<path d="M36.60,59.10 L34.70,65.60 L38.50,65.60 Z" fill="#000" />
<line x1="107.20" y1="50.00" x2="126.30" y2="50.00" stroke="#000" stroke-width="2.5" />
<path d="M131.20,50.00 L125.80,46.50 L125.80,53.50 Z" fill="#000" />
<g clip-path="url(#c2)" filter="url(#hz)" fill="#8c96e1"><ellipse cx="170" cy="62" rx="17" ry="9" transform="rotate(38 170 62)" opacity="0.32"/><ellipse cx="160" cy="72" rx="9" ry="12" opacity="0.15"/><ellipse cx="182" cy="73" rx="7" ry="10" opacity="0.2"/></g>
<g>
<rect x="161.5" y="45.0" width="0.55" height="0.55" fill="#7882d7" fill-opacity="0.3"/>
<rect x="174.0" y="45.0" width="0.55" height="0.55" fill="#7882d7" fill-opacity="0.3"/>
<rect x="153.0" y="45.5" width="0.55" height="0.55" fill="#3e56c1"/>
<rect x="167.5" y="46.0" width="0.55" height="0.55" fill="#7882d7" fill-opacity="0.3"/>
<rect x="151.0" y="46.5" width="0.55" height="0.55" fill="#7882d7" fill-opacity="0.3"/>
<rect x="153.0" y="46.5" width="0.55" height="0.55" fill="#3153be"/>
<rect x="157.0" y="46.5" width="0.55" height="0.55" fill="#3e56c1"/>
<rect x="169.0" y="46.5" width="1.05" height="0.55" fill="#3e56c1"/>
<rect x="148.5" y="47.0" width="0.55" height="0.55" fill="#3e56c1"/>
<rect x="150.0" y="47.0" width="0.55" height="0.55" fill="#7882d7" fill-opacity="0.3"/>
<rect x="153.0" y="47.0" width="0.55" height="0.55" fill="#3153be"/>
<rect x="154.5" y="47.0" width="0.55" height="0.55" fill="#3e56c1"/>
<rect x="157.0" y="47.0" width="0.55" height="0.55" fill="#3153be"/>
<rect x="157.5" y="47.0" width="0.55" height="0.55" fill="#3e56c1"/>
<rect x="173.5" y="47.0" width="0.55" height="0.55" fill="#7882d7" fill-opacity="0.3"/>
<rect x="177.0" y="47.0" width="0.55" height="0.55" fill="#7882d7" fill-opacity="0.3"/>
<rect x="148.5" y="47.5" width="0.55" height="0.55" fill="#3e56c1"/>
<rect x="151.5" y="47.5" width="0.55" height="0.55" fill="#3153be"/>
<rect x="152.5" y="47.5" width="0.55" height="0.55" fill="#2d6cc6"/>
<rect x="153.5" y="47.5" width="0.55" height="0.55" fill="#2d6cc6"/>
<rect x="159.5" y="47.5" width="0.55" height="0.55" fill="#3153be"/>
<rect x="169.0" y="47.5" width="0.55" height="0.55" fill="#3e56c1"/>
<rect x="155.0" y="48.0" width="0.55" height="0.55" fill="#2d6cc6"/>
<rect x="160.0" y="48.0" width="1.05" height="0.55" fill="#2d6cc6"/>
<rect x="162.0" y="48.0" width="1.05" height="0.55" fill="#3153be"/>
<rect x="165.0" y="48.0" width="0.55" height="0.55" fill="#3e56c1"/>
<rect x="182.5" y="48.0" width="0.55" height="0.55" fill="#7882d7" fill-opacity="0.3"/>
<rect x="148.5" y="48.5" width="0.55" height="0.55" fill="#3153be"/>
<rect x="152.5" y="48.5" width="1.55" height="0.55" fill="#2a86cd"/>
<rect x="155.5" y="48.5" width="0.55" height="0.55" fill="#2a86cd"/>
<rect x="156.5" y="48.5" width="0.55" height="0.55" fill="#2a86cd"/>
<rect x="157.5" y="48.5" width="0.55" height="0.55" fill="#2d6cc6"/>
<rect x="158.5" y="48.5" width="0.55" height="0.55" fill="#2d6cc6"/>
<rect x="159.5" y="48.5" width="0.55" height="0.55" fill="#2d6cc6"/>
<rect x="161.0" y="48.5" width="0.55" height="0.55" fill="#2d6cc6"/>
<rect x="162.5" y="48.5" width="0.55" height="0.55" fill="#2d6cc6"/>
<rect x="165.5" y="48.5" width="0.55" height="0.55" fill="#3153be"/>
<rect x="166.5" y="48.5" width="0.55" height="0.55" fill="#2d6cc6"/>
<rect x="167.0" y="48.5" width="0.55" height="0.55" fill="#3153be"/>
<rect x="187.0" y="48.5" width="0.55" height="0.55" fill="#7882d7" fill-opacity="0.3"/>
<rect x="147.5" y="49.0" width="0.55" height="0.55" fill="#3153be"/>
<rect x="148.5" y="49.0" width="0.55" height="0.55" fill="#3153be"/>
<rect x="152.5" y="49.0" width="0.55" height="0.55" fill="#2a86cd"/>
<rect x="153.0" y="49.0" width="0.55" height="0.55" fill="#289bc9"/>
<rect x="154.0" y="49.0" width="1.55" height="0.55" fill="#2a86cd"/>
<rect x="155.5" y="49.0" width="1.55" height="0.55" fill="#289bc9"/>
<rect x="157.5" y="49.0" width="0.55" height="0.55" fill="#289bc9"/>
<rect x="159.0" y="49.0" width="1.55" height="0.55" fill="#2a86cd"/>
<rect x="161.0" y="49.0" width="1.05" height="0.55" fill="#2d6cc6"/>
<rect x="164.0" y="49.0" width="0.55" height="0.55" fill="#3153be"/>
<rect x="166.5" y="49.0" width="0.55" height="0.55" fill="#2d6cc6"/>
<rect x="168.0" y="49.0" width="0.55" height="0.55" fill="#3153be"/>
<rect x="169.0" y="49.0" width="1.05" height="0.55" fill="#3153be"/>
<rect x="147.5" y="49.5" width="0.55" height="0.55" fill="#3153be"/>
<rect x="150.0" y="49.5" width="0.55" height="0.55" fill="#3153be"/>
<rect x="151.0" y="49.5" width="0.55" height="0.55" fill="#2d6cc6"/>
<rect x="152.0" y="49.5" width="0.55" height="0.55" fill="#2a86cd"/>
<rect x="153.5" y="49.5" width="0.55" height="0.55" fill="#289bc9"/>
<rect x="154.0" y="49.5" width="0.55" height="0.55" fill="#2a86cd"/>
<rect x="154.5" y="49.5" width="0.55" height="0.55" fill="#289bc9"/>
<rect x="155.5" y="49.5" width="1.05" height="0.55" fill="#289bc9"/>
<rect x="156.5" y="49.5" width="1.55" height="0.55" fill="#28aab4"/>
<rect x="161.0" y="49.5" width="0.55" height="0.55" fill="#2a86cd"/>
<rect x="162.0" y="49.5" width="0.55" height="0.55" fill="#2a86cd"/>
<rect x="163.0" y="49.5" width="0.55" height="0.55" fill="#2d6cc6"/>
<rect x="165.0" y="49.5" width="0.55" height="0.55" fill="#2d6cc6"/>
<rect x="165.5" y="49.5" width="1.55" height="0.55" fill="#2a86cd"/>
<rect x="167.5" y="49.5" width="0.55" height="0.55" fill="#2d6cc6"/>
<rect x="171.0" y="49.5" width="0.55" height="0.55" fill="#3153be"/>
<rect x="149.0" y="50.0" width="1.05" height="0.55" fill="#3153be"/>
<rect x="150.5" y="50.0" width="0.55" height="0.55" fill="#2d6cc6"/>
<rect x="152.0" y="50.0" width="0.55" height="0.55" fill="#289bc9"/>
<rect x="153.0" y="50.0" width="1.05" height="0.55" fill="#289bc9"/>
<rect x="155.5" y="50.0" width="0.55" height="0.55" fill="#28aab4"/>
<rect x="156.5" y="50.0" width="0.55" height="0.55" fill="#28aab4"/>
<rect x="157.0" y="50.0" width="1.55" height="0.55" fill="#28b9a0"/>
<rect x="158.5" y="50.0" width="1.05" height="0.55" fill="#28aab4"/>
<rect x="160.5" y="50.0" width="0.55" height="0.55" fill="#289bc9"/>
<rect x="162.5" y="50.0" width="0.55" height="0.55" fill="#2a86cd"/>
<rect x="164.0" y="50.0" width="0.55" height="0.55" fill="#2d6cc6"/>
<rect x="166.0" y="50.0" width="0.55" height="0.55" fill="#289bc9"/>
<rect x="167.5" y="50.0" width="0.55" height="0.55" fill="#2d6cc6"/>
<rect x="170.0" y="50.0" width="0.55" height="0.55" fill="#2d6cc6"/>
<rect x="170.5" y="50.0" width="0.55" height="0.55" fill="#3153be"/>
<rect x="150.5" y="50.5" width="0.55" height="0.55" fill="#2d6cc6"/>
<rect x="151.5" y="50.5" width="1.55" height="0.55" fill="#289bc9"/>
<rect x="153.5" y="50.5" width="0.55" height="0.55" fill="#289bc9"/>
<rect x="155.0" y="50.5" width="0.55" height="0.55" fill="#28aab4"/>
<rect x="156.0" y="50.5" width="0.55" height="0.55" fill="#28aab4"/>
<rect x="157.0" y="50.5" width="2.05" height="0.55" fill="#28b9a0"/>
<rect x="159.0" y="50.5" width="2.05" height="0.55" fill="#28aab4"/>
<rect x="161.5" y="50.5" width="1.05" height="0.55" fill="#289bc9"/>
<rect x="164.0" y="50.5" width="0.55" height="0.55" fill="#2a86cd"/>
<rect x="165.0" y="50.5" width="0.55" height="0.55" fill="#289bc9"/>
<rect x="166.0" y="50.5" width="1.05" height="0.55" fill="#289bc9"/>
<rect x="169.0" y="50.5" width="1.05" height="0.55" fill="#2d6cc6"/>
<rect x="170.5" y="50.5" width="0.55" height="0.55" fill="#2d6cc6"/>
<rect x="172.0" y="50.5" width="0.55" height="0.55" fill="#3153be"/>
<rect x="177.0" y="50.5" width="0.55" height="0.55" fill="#7882d7" fill-opacity="0.3"/>
<rect x="147.5" y="51.0" width="0.55" height="0.55" fill="#3e56c1"/>
<rect x="149.5" y="51.0" width="0.55" height="0.55" fill="#3e56c1"/>
<rect x="151.5" y="51.0" width="1.05" height="0.55" fill="#289bc9"/>
<rect x="153.0" y="51.0" width="1.05" height="0.55" fill="#289bc9"/>
<rect x="154.0" y="51.0" width="1.05" height="0.55" fill="#28aab4"/>
<rect x="155.0" y="51.0" width="0.55" height="0.55" fill="#28b9a0"/>
<rect x="156.0" y="51.0" width="0.55" height="0.55" fill="#28aab4"/>
<rect x="157.0" y="51.0" width="0.55" height="0.55" fill="#28aab4"/>
<rect x="157.5" y="51.0" width="0.55" height="0.55" fill="#28b9a0"/>
<rect x="158.5" y="51.0" width="0.55" height="0.55" fill="#28b9a0"/>
<rect x="159.0" y="51.0" width="1.05" height="0.55" fill="#28aab4"/>
<rect x="160.5" y="51.0" width="1.55" height="0.55" fill="#28aab4"/>
<rect x="162.5" y="51.0" width="1.55" height="0.55" fill="#289bc9"/>
<rect x="164.0" y="51.0" width="3.05" height="0.55" fill="#28aab4"/>
<rect x="167.0" y="51.0" width="0.55" height="0.55" fill="#289bc9"/>
<rect x="167.5" y="51.0" width="0.55" height="0.55" fill="#2a86cd"/>
<rect x="169.0" y="51.0" width="1.05" height="0.55" fill="#2a86cd"/>
<rect x="171.5" y="51.0" width="0.55" height="0.55" fill="#3153be"/>
<rect x="174.0" y="51.0" width="0.55" height="0.55" fill="#7882d7" fill-opacity="0.3"/>
<rect x="151.5" y="51.5" width="0.55" height="0.55" fill="#2a86cd"/>
<rect x="152.0" y="51.5" width="1.05" height="0.55" fill="#289bc9"/>
<rect x="153.5" y="51.5" width="0.55" height="0.55" fill="#289bc9"/>
<rect x="154.0" y="51.5" width="1.05" height="0.55" fill="#28aab4"/>
<rect x="155.0" y="51.5" width="0.55" height="0.55" fill="#28b9a0"/>
<rect x="155.5" y="51.5" width="2.05" height="0.55" fill="#28aab4"/>
<rect x="158.0" y="51.5" width="0.55" height="0.55" fill="#28b9a0"/>
<rect x="158.5" y="51.5" width="1.05" height="0.55" fill="#28aab4"/>
<rect x="160.5" y="51.5" width="1.05" height="0.55" fill="#28b9a0"/>
<rect x="162.0" y="51.5" width="0.55" height="0.55" fill="#28aab4"/>
<rect x="163.0" y="51.5" width="1.05" height="0.55" fill="#28aab4"/>
<rect x="164.5" y="51.5" width="2.55" height="0.55" fill="#28b9a0"/>
<rect x="167.0" y="51.5" width="0.55" height="0.55" fill="#28aab4"/>
<rect x="167.5" y="51.5" width="1.05" height="0.55" fill="#289bc9"/>
<rect x="169.0" y="51.5" width="0.55" height="0.55" fill="#289bc9"/>
<rect x="172.0" y="51.5" width="0.55" height="0.55" fill="#2d6cc6"/>
<rect x="180.5" y="51.5" width="0.55" height="0.55" fill="#7882d7" fill-opacity="0.3"/>
<rect x="152.0" y="52.0" width="0.55" height="0.55" fill="#2a86cd"/>
<rect x="154.0" y="52.0" width="0.55" height="0.55" fill="#289bc9"/>
<rect x="155.0" y="52.0" width="0.55" height="0.55" fill="#28aab4"/>
<rect x="156.5" y="52.0" width="1.05" height="0.55" fill="#28aab4"/>
<rect x="158.0" y="52.0" width="2.05" height="0.55" fill="#28aab4"/>
<rect x="160.5" y="52.0" width="0.55" height="0.55" fill="#28b9a0"/>
<rect x="161.5" y="52.0" width="0.55" height="0.55" fill="#28b9a0"/>
<rect x="162.0" y="52.0" width="0.55" height="0.55" fill="#28aab4"/>
<rect x="163.0" y="52.0" width="0.55" height="0.55" fill="#28aab4"/>
<rect x="163.5" y="52.0" width="1.55" height="0.55" fill="#28b9a0"/>
<rect x="165.5" y="52.0" width="0.55" height="0.55" fill="#37b971"/>
<rect x="166.5" y="52.0" width="0.55" height="0.55" fill="#37b971"/>
<rect x="167.0" y="52.0" width="0.55" height="0.55" fill="#28b9a0"/>
<rect x="168.0" y="52.0" width="0.55" height="0.55" fill="#28aab4"/>
<rect x="169.0" y="52.0" width="1.05" height="0.55" fill="#28aab4"/>
<rect x="170.0" y="52.0" width="0.55" height="0.55" fill="#289bc9"/>
<rect x="173.5" y="52.0" width="0.55" height="0.55" fill="#3153be"/>
<rect x="186.5" y="52.0" width="0.55" height="0.55" fill="#7882d7" fill-opacity="0.3"/>
<rect x="148.5" y="52.5" width="0.55" height="0.55" fill="#7882d7" fill-opacity="0.3"/>
<rect x="150.0" y="52.5" width="1.05" height="0.55" fill="#3153be"/>
<rect x="153.0" y="52.5" width="1.05" height="0.55" fill="#2a86cd"/>
<rect x="155.0" y="52.5" width="0.55" height="0.55" fill="#289bc9"/>
<rect x="157.0" y="52.5" width="1.05" height="0.55" fill="#28b9a0"/>
<rect x="158.5" y="52.5" width="0.55" height="0.55" fill="#28aab4"/>
<rect x="159.5" y="52.5" width="0.55" height="0.55" fill="#28aab4"/>
<rect x="160.5" y="52.5" width="0.55" height="0.55" fill="#28b9a0"/>
<rect x="161.0" y="52.5" width="1.05" height="0.55" fill="#37b971"/>
<rect x="162.0" y="52.5" width="0.55" height="0.55" fill="#28b9a0"/>
<rect x="163.0" y="52.5" width="1.05" height="0.55" fill="#28b9a0"/>
<rect x="164.0" y="52.5" width="2.05" height="0.55" fill="#37b971"/>
<rect x="166.0" y="52.5" width="0.55" height="0.55" fill="#4bb944"/>
<rect x="166.5" y="52.5" width="0.55" height="0.55" fill="#37b971"/>
<rect x="167.5" y="52.5" width="0.55" height="0.55" fill="#28b9a0"/>
<rect x="168.0" y="52.5" width="0.55" height="0.55" fill="#28aab4"/>
<rect x="169.0" y="52.5" width="0.55" height="0.55" fill="#28b9a0"/>
<rect x="170.0" y="52.5" width="0.55" height="0.55" fill="#28aab4"/>
<rect x="171.0" y="52.5" width="0.55" height="0.55" fill="#289bc9"/>
<rect x="171.5" y="52.5" width="1.05" height="0.55" fill="#2a86cd"/>
<rect x="172.5" y="52.5" width="0.55" height="0.55" fill="#2d6cc6"/>
<rect x="151.5" y="53.0" width="0.55" height="0.55" fill="#2d6cc6"/>
<rect x="153.0" y="53.0" width="1.05" height="0.55" fill="#2a86cd"/>
<rect x="155.0" y="53.0" width="1.05" height="0.55" fill="#289bc9"/>
<rect x="156.0" y="53.0" width="1.05" height="0.55" fill="#28aab4"/>
<rect x="157.0" y="53.0" width="1.05" height="0.55" fill="#28b9a0"/>
<rect x="158.0" y="53.0" width="0.55" height="0.55" fill="#28aab4"/>
<rect x="159.0" y="53.0" width="0.55" height="0.55" fill="#28aab4"/>
<rect x="160.0" y="53.0" width="0.55" height="0.55" fill="#28b9a0"/>
<rect x="160.5" y="53.0" width="0.55" height="0.55" fill="#37b971"/>
<rect x="162.0" y="53.0" width="3.55" height="0.55" fill="#37b971"/>
<rect x="165.5" y="53.0" width="1.55" height="0.55" fill="#4bb944"/>
<rect x="167.0" y="53.0" width="1.05" height="0.55" fill="#37b971"/>
<rect x="168.5" y="53.0" width="2.05" height="0.55" fill="#28b9a0"/>
<rect x="170.5" y="53.0" width="1.05" height="0.55" fill="#28aab4"/>
<rect x="173.0" y="53.0" width="0.55" height="0.55" fill="#2a86cd"/>
<rect x="175.0" y="53.0" width="0.55" height="0.55" fill="#3153be"/>
<rect x="178.0" y="53.0" width="0.55" height="0.55" fill="#3e56c1"/>
<rect x="147.5" y="53.5" width="0.55" height="0.55" fill="#3e56c1"/>
<rect x="149.5" y="53.5" width="0.55" height="0.55" fill="#7882d7" fill-opacity="0.3"/>
<rect x="153.0" y="53.5" width="0.55" height="0.55" fill="#2d6cc6"/>
<rect x="153.5" y="53.5" width="0.55" height="0.55" fill="#2a86cd"/>
<rect x="154.5" y="53.5" width="0.55" height="0.55" fill="#2a86cd"/>
<rect x="155.5" y="53.5" width="0.55" height="0.55" fill="#289bc9"/>
<rect x="156.0" y="53.5" width="0.55" height="0.55" fill="#28aab4"/>
<rect x="157.0" y="53.5" width="1.05" height="0.55" fill="#28b9a0"/>
<rect x="159.0" y="53.5" width="0.55" height="0.55" fill="#28b9a0"/>
<rect x="160.0" y="53.5" width="0.55" height="0.55" fill="#28b9a0"/>
<rect x="160.5" y="53.5" width="0.55" height="0.55" fill="#37b971"/>
<rect x="161.0" y="53.5" width="4.05" height="0.55" fill="#4bb944"/>
<rect x="165.5" y="53.5" width="1.05" height="0.55" fill="#4bb944"/>
<rect x="167.0" y="53.5" width="1.05" height="0.55" fill="#4bb944"/>
<rect x="168.0" y="53.5" width="2.05" height="0.55" fill="#37b971"/>
<rect x="170.0" y="53.5" width="1.05" height="0.55" fill="#28b9a0"/>
<rect x="171.5" y="53.5" width="0.55" height="0.55" fill="#28aab4"/>
<rect x="172.0" y="53.5" width="0.55" height="0.55" fill="#289bc9"/>
<rect x="173.5" y="53.5" width="0.55" height="0.55" fill="#2a86cd"/>
<rect x="175.0" y="53.5" width="1.05" height="0.55" fill="#2d6cc6"/>
<rect x="178.0" y="53.5" width="0.55" height="0.55" fill="#3153be"/>
<rect x="151.5" y="54.0" width="0.55" height="0.55" fill="#3153be"/>
<rect x="153.5" y="54.0" width="0.55" height="0.55" fill="#2d6cc6"/>
<rect x="154.5" y="54.0" width="0.55" height="0.55" fill="#2a86cd"/>
<rect x="155.0" y="54.0" width="1.05" height="0.55" fill="#289bc9"/>
<rect x="156.0" y="54.0" width="0.55" height="0.55" fill="#28aab4"/>
<rect x="157.0" y="54.0" width="0.55" height="0.55" fill="#28aab4"/>
<rect x="158.0" y="54.0" width="2.05" height="0.55" fill="#28b9a0"/>
<rect x="160.0" y="54.0" width="1.05" height="0.55" fill="#37b971"/>
<rect x="161.0" y="54.0" width="7.55" height="0.55" fill="#4bb944"/>
<rect x="168.5" y="54.0" width="1.55" height="0.55" fill="#37b971"/>
<rect x="170.5" y="54.0" width="0.55" height="0.55" fill="#37b971"/>
<rect x="171.0" y="54.0" width="1.05" height="0.55" fill="#28b9a0"/>
<rect x="172.0" y="54.0" width="1.05" height="0.55" fill="#28aab4"/>
<rect x="173.0" y="54.0" width="0.55" height="0.55" fill="#289bc9"/>
<rect x="174.0" y="54.0" width="0.55" height="0.55" fill="#2a86cd"/>
<rect x="175.0" y="54.0" width="0.55" height="0.55" fill="#2a86cd"/>
<rect x="176.0" y="54.0" width="0.55" height="0.55" fill="#2d6cc6"/>
<rect x="178.0" y="54.0" width="0.55" height="0.55" fill="#3153be"/>
<rect x="185.5" y="54.0" width="0.55" height="0.55" fill="#7882d7" fill-opacity="0.3"/>
<rect x="152.0" y="54.5" width="0.55" height="0.55" fill="#3153be"/>
<rect x="154.5" y="54.5" width="0.55" height="0.55" fill="#2d6cc6"/>
<rect x="155.0" y="54.5" width="0.55" height="0.55" fill="#2a86cd"/>
<rect x="156.0" y="54.5" width="1.05" height="0.55" fill="#289bc9"/>
<rect x="157.5" y="54.5" width="1.05" height="0.55" fill="#28aab4"/>
<rect x="158.5" y="54.5" width="1.05" height="0.55" fill="#28b9a0"/>
<rect x="161.0" y="54.5" width="1.55" height="0.55" fill="#37b971"/>
<rect x="163.0" y="54.5" width="0.55" height="0.55" fill="#37b971"/>
<rect x="164.0" y="54.5" width="0.55" height="0.55" fill="#37b971"/>
<rect x="165.0" y="54.5" width="4.05" height="0.55" fill="#4bb944"/>
<rect x="169.5" y="54.5" width="0.55" height="0.55" fill="#4bb944"/>
<rect x="170.0" y="54.5" width="0.55" height="0.55" fill="#37b971"/>
<rect x="171.0" y="54.5" width="2.05" height="0.55" fill="#28b9a0"/>
<rect x="173.0" y="54.5" width="0.55" height="0.55" fill="#28aab4"/>
<rect x="173.5" y="54.5" width="0.55" height="0.55" fill="#289bc9"/>
<rect x="175.0" y="54.5" width="1.05" height="0.55" fill="#2a86cd"/>
<rect x="177.0" y="54.5" width="0.55" height="0.55" fill="#2d6cc6"/>
<rect x="182.5" y="54.5" width="0.55" height="0.55" fill="#7882d7" fill-opacity="0.3"/>
<rect x="153.0" y="55.0" width="0.55" height="0.55" fill="#3e56c1"/>
<rect x="155.0" y="55.0" width="0.55" height="0.55" fill="#2d6cc6"/>
<rect x="156.5" y="55.0" width="0.55" height="0.55" fill="#2a86cd"/>
<rect x="157.5" y="55.0" width="0.55" height="0.55" fill="#289bc9"/>
<rect x="158.5" y="55.0" width="0.55" height="0.55" fill="#289bc9"/>
<rect x="159.5" y="55.0" width="1.05" height="0.55" fill="#28aab4"/>
<rect x="161.0" y="55.0" width="2.55" height="0.55" fill="#28b9a0"/>
<rect x="164.0" y="55.0" width="0.55" height="0.55" fill="#37b971"/>
<rect x="165.0" y="55.0" width="0.55" height="0.55" fill="#4bb944"/>
<rect x="165.5" y="55.0" width="0.55" height="0.55" fill="#89c536"/>
<rect x="167.5" y="55.0" width="0.55" height="0.55" fill="#4bb944"/>
<rect x="168.5" y="55.0" width="2.05" height="0.55" fill="#4bb944"/>
<rect x="170.5" y="55.0" width="0.55" height="0.55" fill="#37b971"/>
<rect x="172.0" y="55.0" width="0.55" height="0.55" fill="#28b9a0"/>
<rect x="173.0" y="55.0" width="0.55" height="0.55" fill="#28aab4"/>
<rect x="174.0" y="55.0" width="0.55" height="0.55" fill="#289bc9"/>
<rect x="176.0" y="55.0" width="0.55" height="0.55" fill="#2d6cc6"/>
<rect x="177.0" y="55.0" width="0.55" height="0.55" fill="#2d6cc6"/>
<rect x="178.5" y="55.0" width="0.55" height="0.55" fill="#3153be"/>
<rect x="180.0" y="55.0" width="0.55" height="0.55" fill="#7882d7" fill-opacity="0.3"/>
<rect x="151.5" y="55.5" width="0.55" height="0.55" fill="#3e56c1"/>
<rect x="155.5" y="55.5" width="0.55" height="0.55" fill="#2d6cc6"/>
<rect x="157.5" y="55.5" width="1.55" height="0.55" fill="#2a86cd"/>
<rect x="159.0" y="55.5" width="2.05" height="0.55" fill="#289bc9"/>
<rect x="163.0" y="55.5" width="0.55" height="0.55" fill="#28aab4"/>
<rect x="163.5" y="55.5" width="0.55" height="0.55" fill="#28b9a0"/>
<rect x="164.0" y="55.5" width="0.55" height="0.55" fill="#37b971"/>
<rect x="164.5" y="55.5" width="0.55" height="0.55" fill="#4bb944"/>
<rect x="165.0" y="55.5" width="1.05" height="0.55" fill="#89c536"/>
<rect x="166.0" y="55.5" width="3.55" height="0.55" fill="#4bb944"/>
<rect x="169.5" y="55.5" width="0.55" height="0.55" fill="#89c536"/>
<rect x="170.0" y="55.5" width="1.05" height="0.55" fill="#4bb944"/>
<rect x="171.0" y="55.5" width="2.05" height="0.55" fill="#37b971"/>
<rect x="173.0" y="55.5" width="0.55" height="0.55" fill="#28b9a0"/>
<rect x="173.5" y="55.5" width="0.55" height="0.55" fill="#28aab4"/>
<rect x="174.5" y="55.5" width="0.55" height="0.55" fill="#2a86cd"/>
<rect x="175.5" y="55.5" width="1.05" height="0.55" fill="#2d6cc6"/>
<rect x="177.0" y="55.5" width="0.55" height="0.55" fill="#2d6cc6"/>
<rect x="178.5" y="55.5" width="0.55" height="0.55" fill="#2d6cc6"/>
<rect x="179.0" y="55.5" width="0.55" height="0.55" fill="#3153be"/>
<rect x="187.5" y="55.5" width="0.55" height="0.55" fill="#7882d7" fill-opacity="0.3"/>
<rect x="190.5" y="55.5" width="0.55" height="0.55" fill="#7882d7" fill-opacity="0.3"/>
<rect x="154.5" y="56.0" width="0.55" height="0.55" fill="#3153be"/>
<rect x="163.5" y="56.0" width="0.55" height="0.55" fill="#28b9a0"/>
<rect x="164.0" y="56.0" width="0.55" height="0.55" fill="#4bb944"/>
<rect x="164.5" y="56.0" width="2.05" height="0.55" fill="#89c536"/>
<rect x="167.5" y="56.0" width="0.55" height="0.55" fill="#4bb944"/>
<rect x="168.5" y="56.0" width="0.55" height="0.55" fill="#4bb944"/>
<rect x="169.0" y="56.0" width="1.55" height="0.55" fill="#89c536"/>
<rect x="170.5" y="56.0" width="1.05" height="0.55" fill="#4bb944"/>
<rect x="172.0" y="56.0" width="0.55" height="0.55" fill="#4bb944"/>
<rect x="172.5" y="56.0" width="0.55" height="0.55" fill="#37b971"/>
<rect x="173.5" y="56.0" width="0.55" height="0.55" fill="#28aab4"/>
<rect x="174.5" y="56.0" width="0.55" height="0.55" fill="#2a86cd"/>
<rect x="175.5" y="56.0" width="0.55" height="0.55" fill="#2d6cc6"/>
<rect x="183.0" y="56.0" width="0.55" height="0.55" fill="#3153be"/>
<rect x="154.5" y="56.5" width="0.55" height="0.55" fill="#3e56c1"/>
<rect x="159.5" y="56.5" width="0.55" height="0.55" fill="#2d6cc6"/>
<rect x="162.0" y="56.5" width="0.55" height="0.55" fill="#2a86cd"/>
<rect x="162.5" y="56.5" width="0.55" height="0.55" fill="#289bc9"/>
<rect x="163.0" y="56.5" width="0.55" height="0.55" fill="#28aab4"/>
<rect x="164.0" y="56.5" width="0.55" height="0.55" fill="#37b971"/>
<rect x="164.5" y="56.5" width="0.55" height="0.55" fill="#4bb944"/>
<rect x="165.0" y="56.5" width="4.55" height="0.55" fill="#89c536"/>
<rect x="170.0" y="56.5" width="1.55" height="0.55" fill="#89c536"/>
<rect x="171.5" y="56.5" width="1.05" height="0.55" fill="#4bb944"/>
<rect x="172.5" y="56.5" width="0.55" height="0.55" fill="#37b971"/>
<rect x="173.0" y="56.5" width="1.05" height="0.55" fill="#28b9a0"/>
<rect x="174.0" y="56.5" width="0.55" height="0.55" fill="#28aab4"/>
<rect x="176.5" y="56.5" width="0.55" height="0.55" fill="#2d6cc6"/>
<rect x="177.5" y="56.5" width="0.55" height="0.55" fill="#2d6cc6"/>
<rect x="182.0" y="56.5" width="1.55" height="0.55" fill="#3153be"/>
<rect x="150.5" y="57.0" width="0.55" height="0.55" fill="#7882d7" fill-opacity="0.3"/>
<rect x="157.5" y="57.0" width="0.55" height="0.55" fill="#3e56c1"/>
<rect x="158.5" y="57.0" width="1.05" height="0.55" fill="#3153be"/>
<rect x="162.0" y="57.0" width="0.55" height="0.55" fill="#2a86cd"/>
<rect x="163.0" y="57.0" width="0.55" height="0.55" fill="#28aab4"/>
<rect x="163.5" y="57.0" width="0.55" height="0.55" fill="#28b9a0"/>
<rect x="164.5" y="57.0" width="0.55" height="0.55" fill="#37b971"/>
<rect x="165.0" y="57.0" width="1.05" height="0.55" fill="#4bb944"/>
<rect x="166.0" y="57.0" width="1.05" height="0.55" fill="#89c536"/>
<rect x="167.0" y="57.0" width="2.55" height="0.55" fill="#c8d228"/>
<rect x="170.0" y="57.0" width="1.05" height="0.55" fill="#c8d228"/>
<rect x="171.0" y="57.0" width="1.05" height="0.55" fill="#89c536"/>
<rect x="172.5" y="57.0" width="0.55" height="0.55" fill="#37b971"/>
<rect x="174.0" y="57.0" width="0.55" height="0.55" fill="#28aab4"/>
<rect x="174.5" y="57.0" width="0.55" height="0.55" fill="#289bc9"/>
<rect x="175.0" y="57.0" width="0.55" height="0.55" fill="#2a86cd"/>
<rect x="177.0" y="57.0" width="0.55" height="0.55" fill="#2d6cc6"/>
<rect x="179.5" y="57.0" width="1.05" height="0.55" fill="#3153be"/>
<rect x="182.0" y="57.0" width="0.55" height="0.55" fill="#3153be"/>
<rect x="147.5" y="57.5" width="0.55" height="0.55" fill="#7882d7" fill-opacity="0.3"/>
<rect x="153.5" y="57.5" width="0.55" height="0.55" fill="#7882d7" fill-opacity="0.3"/>
<rect x="160.0" y="57.5" width="0.55" height="0.55" fill="#3e56c1"/>
<rect x="161.5" y="57.5" width="0.55" height="0.55" fill="#2d6cc6"/>
<rect x="162.5" y="57.5" width="0.55" height="0.55" fill="#289bc9"/>
<rect x="163.0" y="57.5" width="0.55" height="0.55" fill="#28aab4"/>
<rect x="164.0" y="57.5" width="1.05" height="0.55" fill="#28b9a0"/>
<rect x="165.5" y="57.5" width="0.55" height="0.55" fill="#37b971"/>
<rect x="166.0" y="57.5" width="0.55" height="0.55" fill="#4bb944"/>
<rect x="166.5" y="57.5" width="0.55" height="0.55" fill="#89c536"/>
<rect x="167.0" y="57.5" width="1.05" height="0.55" fill="#c8d228"/>
<rect x="168.0" y="57.5" width="1.05" height="0.55" fill="#dfb222"/>
<rect x="169.0" y="57.5" width="2.05" height="0.55" fill="#c8d228"/>
<rect x="171.0" y="57.5" width="1.05" height="0.55" fill="#89c536"/>
<rect x="172.0" y="57.5" width="0.55" height="0.55" fill="#4bb944"/>
<rect x="172.5" y="57.5" width="0.55" height="0.55" fill="#37b971"/>
<rect x="173.0" y="57.5" width="1.05" height="0.55" fill="#28b9a0"/>
<rect x="175.0" y="57.5" width="0.55" height="0.55" fill="#289bc9"/>
<rect x="176.0" y="57.5" width="0.55" height="0.55" fill="#2a86cd"/>
<rect x="177.5" y="57.5" width="0.55" height="0.55" fill="#2d6cc6"/>
<rect x="178.5" y="57.5" width="0.55" height="0.55" fill="#2d6cc6"/>
<rect x="180.5" y="57.5" width="1.05" height="0.55" fill="#3153be"/>
<rect x="183.5" y="57.5" width="0.55" height="0.55" fill="#3e56c1"/>
<rect x="157.5" y="58.0" width="0.55" height="0.55" fill="#3e56c1"/>
<rect x="162.0" y="58.0" width="0.55" height="0.55" fill="#2a86cd"/>
<rect x="163.0" y="58.0" width="0.55" height="0.55" fill="#289bc9"/>
<rect x="163.5" y="58.0" width="0.55" height="0.55" fill="#28aab4"/>
<rect x="164.5" y="58.0" width="0.55" height="0.55" fill="#28aab4"/>
<rect x="165.5" y="58.0" width="0.55" height="0.55" fill="#28b9a0"/>
<rect x="166.0" y="58.0" width="0.55" height="0.55" fill="#37b971"/>
<rect x="166.5" y="58.0" width="0.55" height="0.55" fill="#89c536"/>
<rect x="167.0" y="58.0" width="1.05" height="0.55" fill="#c8d228"/>
<rect x="168.0" y="58.0" width="1.55" height="0.55" fill="#dfb222"/>
<rect x="169.5" y="58.0" width="1.55" height="0.55" fill="#c8d228"/>
<rect x="171.0" y="58.0" width="1.05" height="0.55" fill="#89c536"/>
<rect x="172.0" y="58.0" width="0.55" height="0.55" fill="#4bb944"/>
<rect x="172.5" y="58.0" width="1.05" height="0.55" fill="#37b971"/>
<rect x="173.5" y="58.0" width="1.05" height="0.55" fill="#28b9a0"/>
<rect x="174.5" y="58.0" width="0.55" height="0.55" fill="#28aab4"/>
<rect x="175.0" y="58.0" width="0.55" height="0.55" fill="#289bc9"/>
<rect x="176.5" y="58.0" width="1.05" height="0.55" fill="#2a86cd"/>
<rect x="178.0" y="58.0" width="0.55" height="0.55" fill="#2d6cc6"/>
<rect x="180.0" y="58.0" width="0.55" height="0.55" fill="#3153be"/>
<rect x="181.5" y="58.0" width="0.55" height="0.55" fill="#3153be"/>
<rect x="151.0" y="58.5" width="0.55" height="0.55" fill="#3e56c1"/>
<rect x="152.0" y="58.5" width="0.55" height="0.55" fill="#3e56c1"/>
<rect x="156.5" y="58.5" width="0.55" height="0.55" fill="#7882d7" fill-opacity="0.3"/>
<rect x="164.0" y="58.5" width="1.05" height="0.55" fill="#289bc9"/>
<rect x="165.0" y="58.5" width="0.55" height="0.55" fill="#28aab4"/>
<rect x="166.0" y="58.5" width="0.55" height="0.55" fill="#37b971"/>
<rect x="166.5" y="58.5" width="0.55" height="0.55" fill="#4bb944"/>
<rect x="167.0" y="58.5" width="0.55" height="0.55" fill="#89c536"/>
<rect x="167.5" y="58.5" width="3.55" height="0.55" fill="#c8d228"/>
<rect x="171.0" y="58.5" width="0.55" height="0.55" fill="#89c536"/>
<rect x="171.5" y="58.5" width="1.05" height="0.55" fill="#4bb944"/>
<rect x="172.5" y="58.5" width="1.55" height="0.55" fill="#37b971"/>
<rect x="174.0" y="58.5" width="1.05" height="0.55" fill="#28b9a0"/>
<rect x="175.5" y="58.5" width="0.55" height="0.55" fill="#289bc9"/>
<rect x="177.0" y="58.5" width="0.55" height="0.55" fill="#2a86cd"/>
<rect x="179.0" y="58.5" width="0.55" height="0.55" fill="#2d6cc6"/>
<rect x="185.5" y="58.5" width="0.55" height="0.55" fill="#3153be"/>
<rect x="152.0" y="59.0" width="0.55" height="0.55" fill="#3153be"/>
<rect x="159.0" y="59.0" width="0.55" height="0.55" fill="#7882d7" fill-opacity="0.3"/>
<rect x="161.0" y="59.0" width="0.55" height="0.55" fill="#3e56c1"/>
<rect x="163.0" y="59.0" width="0.55" height="0.55" fill="#2a86cd"/>
<rect x="164.0" y="59.0" width="0.55" height="0.55" fill="#289bc9"/>
<rect x="165.5" y="59.0" width="0.55" height="0.55" fill="#28aab4"/>
<rect x="166.0" y="59.0" width="0.55" height="0.55" fill="#28b9a0"/>
<rect x="166.5" y="59.0" width="0.55" height="0.55" fill="#37b971"/>
<rect x="167.5" y="59.0" width="0.55" height="0.55" fill="#4bb944"/>
<rect x="168.0" y="59.0" width="2.05" height="0.55" fill="#89c536"/>
<rect x="170.0" y="59.0" width="1.05" height="0.55" fill="#c8d228"/>
<rect x="171.0" y="59.0" width="0.55" height="0.55" fill="#89c536"/>
<rect x="171.5" y="59.0" width="1.05" height="0.55" fill="#4bb944"/>
<rect x="173.5" y="59.0" width="0.55" height="0.55" fill="#37b971"/>
<rect x="175.0" y="59.0" width="0.55" height="0.55" fill="#28aab4"/>
<rect x="178.0" y="59.0" width="0.55" height="0.55" fill="#2a86cd"/>
<rect x="180.0" y="59.0" width="0.55" height="0.55" fill="#3153be"/>
<rect x="181.5" y="59.0" width="0.55" height="0.55" fill="#3153be"/>
<rect x="182.5" y="59.0" width="0.55" height="0.55" fill="#3e56c1"/>
<rect x="185.5" y="59.0" width="0.55" height="0.55" fill="#3153be"/>
<rect x="191.0" y="59.0" width="0.55" height="0.55" fill="#7882d7" fill-opacity="0.3"/>
<rect x="152.0" y="59.5" width="0.55" height="0.55" fill="#3e56c1"/>
<rect x="162.5" y="59.5" width="0.55" height="0.55" fill="#2d6cc6"/>
<rect x="163.0" y="59.5" width="0.55" height="0.55" fill="#2a86cd"/>
<rect x="164.5" y="59.5" width="0.55" height="0.55" fill="#289bc9"/>
<rect x="165.0" y="59.5" width="0.55" height="0.55" fill="#28aab4"/>
<rect x="166.0" y="59.5" width="1.05" height="0.55" fill="#28b9a0"/>
<rect x="167.0" y="59.5" width="1.05" height="0.55" fill="#37b971"/>
<rect x="168.0" y="59.5" width="1.55" height="0.55" fill="#4bb944"/>
<rect x="169.5" y="59.5" width="2.05" height="0.55" fill="#89c536"/>
<rect x="171.5" y="59.5" width="2.05" height="0.55" fill="#4bb944"/>
<rect x="173.5" y="59.5" width="0.55" height="0.55" fill="#37b971"/>
<rect x="174.5" y="59.5" width="0.55" height="0.55" fill="#28b9a0"/>
<rect x="175.0" y="59.5" width="1.05" height="0.55" fill="#28aab4"/>
<rect x="176.5" y="59.5" width="2.05" height="0.55" fill="#2a86cd"/>
<rect x="179.0" y="59.5" width="0.55" height="0.55" fill="#2a86cd"/>
<rect x="180.0" y="59.5" width="0.55" height="0.55" fill="#3153be"/>
<rect x="184.0" y="59.5" width="0.55" height="0.55" fill="#3153be"/>
<rect x="186.0" y="59.5" width="1.05" height="0.55" fill="#3153be"/>
<rect x="189.0" y="59.5" width="0.55" height="0.55" fill="#7882d7" fill-opacity="0.3"/>
<rect x="148.0" y="60.0" width="0.55" height="0.55" fill="#7882d7" fill-opacity="0.3"/>
<rect x="161.0" y="60.0" width="0.55" height="0.55" fill="#3e56c1"/>
<rect x="161.5" y="60.0" width="0.55" height="0.55" fill="#3153be"/>
<rect x="164.0" y="60.0" width="1.05" height="0.55" fill="#289bc9"/>
<rect x="165.0" y="60.0" width="1.55" height="0.55" fill="#28aab4"/>
<rect x="166.5" y="60.0" width="0.55" height="0.55" fill="#28b9a0"/>
<rect x="167.5" y="60.0" width="0.55" height="0.55" fill="#28b9a0"/>
<rect x="168.5" y="60.0" width="1.05" height="0.55" fill="#37b971"/>
<rect x="169.5" y="60.0" width="0.55" height="0.55" fill="#4bb944"/>
<rect x="170.5" y="60.0" width="1.05" height="0.55" fill="#89c536"/>
<rect x="172.0" y="60.0" width="1.55" height="0.55" fill="#4bb944"/>
<rect x="173.5" y="60.0" width="0.55" height="0.55" fill="#37b971"/>
<rect x="174.0" y="60.0" width="1.05" height="0.55" fill="#28b9a0"/>
<rect x="175.0" y="60.0" width="0.55" height="0.55" fill="#28aab4"/>
<rect x="175.5" y="60.0" width="1.05" height="0.55" fill="#289bc9"/>
<rect x="177.0" y="60.0" width="0.55" height="0.55" fill="#2a86cd"/>
<rect x="179.0" y="60.0" width="0.55" height="0.55" fill="#2a86cd"/>
<rect x="181.5" y="60.0" width="0.55" height="0.55" fill="#2d6cc6"/>
<rect x="182.0" y="60.0" width="0.55" height="0.55" fill="#3153be"/>
<rect x="184.5" y="60.0" width="0.55" height="0.55" fill="#3153be"/>
<rect x="185.0" y="60.0" width="0.55" height="0.55" fill="#2d6cc6"/>
<rect x="158.5" y="60.5" width="0.55" height="0.55" fill="#7882d7" fill-opacity="0.3"/>
<rect x="163.5" y="60.5" width="0.55" height="0.55" fill="#2a86cd"/>
<rect x="164.0" y="60.5" width="1.05" height="0.55" fill="#289bc9"/>
<rect x="165.5" y="60.5" width="0.55" height="0.55" fill="#28aab4"/>
<rect x="167.0" y="60.5" width="0.55" height="0.55" fill="#28aab4"/>
<rect x="168.0" y="60.5" width="1.05" height="0.55" fill="#28b9a0"/>
<rect x="169.5" y="60.5" width="0.55" height="0.55" fill="#37b971"/>
<rect x="170.0" y="60.5" width="0.55" height="0.55" fill="#4bb944"/>
<rect x="170.5" y="60.5" width="1.05" height="0.55" fill="#89c536"/>
<rect x="172.0" y="60.5" width="1.55" height="0.55" fill="#4bb944"/>
<rect x="174.5" y="60.5" width="0.55" height="0.55" fill="#28aab4"/>
<rect x="175.0" y="60.5" width="1.05" height="0.55" fill="#289bc9"/>
<rect x="177.0" y="60.5" width="0.55" height="0.55" fill="#2a86cd"/>
<rect x="178.0" y="60.5" width="1.55" height="0.55" fill="#289bc9"/>
<rect x="179.5" y="60.5" width="0.55" height="0.55" fill="#2a86cd"/>
<rect x="181.5" y="60.5" width="0.55" height="0.55" fill="#2d6cc6"/>
<rect x="185.0" y="60.5" width="0.55" height="0.55" fill="#2d6cc6"/>
<rect x="153.5" y="61.0" width="1.05" height="0.55" fill="#3e56c1"/>
<rect x="163.0" y="61.0" width="0.55" height="0.55" fill="#2d6cc6"/>
<rect x="164.5" y="61.0" width="2.55" height="0.55" fill="#289bc9"/>
<rect x="167.5" y="61.0" width="1.05" height="0.55" fill="#28aab4"/>
<rect x="168.5" y="61.0" width="1.05" height="0.55" fill="#28b9a0"/>
<rect x="169.5" y="61.0" width="1.05" height="0.55" fill="#37b971"/>
<rect x="170.5" y="61.0" width="2.55" height="0.55" fill="#4bb944"/>
<rect x="173.0" y="61.0" width="0.55" height="0.55" fill="#37b971"/>
<rect x="174.0" y="61.0" width="0.55" height="0.55" fill="#28aab4"/>
<rect x="177.5" y="61.0" width="0.55" height="0.55" fill="#289bc9"/>
<rect x="179.0" y="61.0" width="0.55" height="0.55" fill="#289bc9"/>
<rect x="181.0" y="61.0" width="1.55" height="0.55" fill="#2d6cc6"/>
<rect x="185.5" y="61.0" width="0.55" height="0.55" fill="#3153be"/>
<rect x="156.0" y="61.5" width="0.55" height="0.55" fill="#3e56c1"/>
<rect x="157.0" y="61.5" width="0.55" height="0.55" fill="#3153be"/>
<rect x="162.0" y="61.5" width="1.05" height="0.55" fill="#3153be"/>
<rect x="163.5" y="61.5" width="0.55" height="0.55" fill="#2d6cc6"/>
<rect x="164.0" y="61.5" width="0.55" height="0.55" fill="#2a86cd"/>
<rect x="165.5" y="61.5" width="1.05" height="0.55" fill="#2a86cd"/>
<rect x="167.0" y="61.5" width="0.55" height="0.55" fill="#2a86cd"/>
<rect x="167.5" y="61.5" width="0.55" height="0.55" fill="#289bc9"/>
<rect x="169.5" y="61.5" width="1.05" height="0.55" fill="#28b9a0"/>
<rect x="171.0" y="61.5" width="0.55" height="0.55" fill="#4bb944"/>
<rect x="172.0" y="61.5" width="1.05" height="0.55" fill="#4bb944"/>
<rect x="175.0" y="61.5" width="0.55" height="0.55" fill="#289bc9"/>
<rect x="176.0" y="61.5" width="1.05" height="0.55" fill="#2a86cd"/>
<rect x="177.0" y="61.5" width="1.05" height="0.55" fill="#289bc9"/>
<rect x="178.5" y="61.5" width="0.55" height="0.55" fill="#289bc9"/>
<rect x="180.0" y="61.5" width="0.55" height="0.55" fill="#2a86cd"/>
<rect x="181.0" y="61.5" width="0.55" height="0.55" fill="#2d6cc6"/>
<rect x="182.5" y="61.5" width="0.55" height="0.55" fill="#2d6cc6"/>
<rect x="185.5" y="61.5" width="0.55" height="0.55" fill="#3153be"/>
<rect x="155.0" y="62.0" width="0.55" height="0.55" fill="#3e56c1"/>
<rect x="157.0" y="62.0" width="0.55" height="0.55" fill="#3153be"/>
<rect x="160.5" y="62.0" width="0.55" height="0.55" fill="#7882d7" fill-opacity="0.3"/>
<rect x="163.5" y="62.0" width="0.55" height="0.55" fill="#2d6cc6"/>
<rect x="166.0" y="62.0" width="1.05" height="0.55" fill="#2a86cd"/>
<rect x="168.0" y="62.0" width="0.55" height="0.55" fill="#2a86cd"/>
<rect x="169.0" y="62.0" width="0.55" height="0.55" fill="#289bc9"/>
<rect x="169.5" y="62.0" width="1.05" height="0.55" fill="#28aab4"/>
<rect x="171.0" y="62.0" width="2.05" height="0.55" fill="#37b971"/>
<rect x="173.5" y="62.0" width="0.55" height="0.55" fill="#28b9a0"/>
<rect x="174.0" y="62.0" width="0.55" height="0.55" fill="#28aab4"/>
<rect x="175.0" y="62.0" width="0.55" height="0.55" fill="#28aab4"/>
<rect x="176.5" y="62.0" width="0.55" height="0.55" fill="#289bc9"/>
<rect x="178.5" y="62.0" width="0.55" height="0.55" fill="#289bc9"/>
<rect x="179.5" y="62.0" width="0.55" height="0.55" fill="#2a86cd"/>
<rect x="183.0" y="62.0" width="1.05" height="0.55" fill="#2d6cc6"/>
<rect x="186.5" y="62.0" width="0.55" height="0.55" fill="#3e56c1"/>
<rect x="188.0" y="62.0" width="0.55" height="0.55" fill="#3e56c1"/>
<rect x="189.0" y="62.0" width="0.55" height="0.55" fill="#7882d7" fill-opacity="0.3"/>
<rect x="191.5" y="62.0" width="0.55" height="0.55" fill="#7882d7" fill-opacity="0.3"/>
<rect x="157.5" y="62.5" width="0.55" height="0.55" fill="#3e56c1"/>
<rect x="161.0" y="62.5" width="0.55" height="0.55" fill="#3e56c1"/>
<rect x="164.0" y="62.5" width="0.55" height="0.55" fill="#2d6cc6"/>
<rect x="166.5" y="62.5" width="0.55" height="0.55" fill="#2d6cc6"/>
<rect x="168.0" y="62.5" width="0.55" height="0.55" fill="#2d6cc6"/>
<rect x="169.5" y="62.5" width="0.55" height="0.55" fill="#2a86cd"/>
<rect x="170.5" y="62.5" width="0.55" height="0.55" fill="#28aab4"/>
<rect x="171.0" y="62.5" width="1.05" height="0.55" fill="#28b9a0"/>
<rect x="172.0" y="62.5" width="1.05" height="0.55" fill="#37b971"/>
<rect x="173.0" y="62.5" width="1.55" height="0.55" fill="#28b9a0"/>
<rect x="174.5" y="62.5" width="1.55" height="0.55" fill="#28aab4"/>
<rect x="176.0" y="62.5" width="1.05" height="0.55" fill="#289bc9"/>
<rect x="177.5" y="62.5" width="1.55" height="0.55" fill="#2a86cd"/>
<rect x="179.5" y="62.5" width="1.05" height="0.55" fill="#2a86cd"/>
<rect x="181.0" y="62.5" width="1.05" height="0.55" fill="#2a86cd"/>
<rect x="182.5" y="62.5" width="0.55" height="0.55" fill="#2a86cd"/>
<rect x="184.0" y="62.5" width="0.55" height="0.55" fill="#2d6cc6"/>
<rect x="184.5" y="62.5" width="0.55" height="0.55" fill="#3153be"/>
<rect x="187.5" y="62.5" width="0.55" height="0.55" fill="#3e56c1"/>
<rect x="191.5" y="62.5" width="0.55" height="0.55" fill="#7882d7" fill-opacity="0.3"/>
<rect x="149.5" y="63.0" width="0.55" height="0.55" fill="#7882d7" fill-opacity="0.3"/>
<rect x="154.0" y="63.0" width="0.55" height="0.55" fill="#3e56c1"/>
<rect x="164.5" y="63.0" width="0.55" height="0.55" fill="#3153be"/>
<rect x="165.5" y="63.0" width="0.55" height="0.55" fill="#3153be"/>
<rect x="168.5" y="63.0" width="0.55" height="0.55" fill="#3153be"/>
<rect x="171.5" y="63.0" width="0.55" height="0.55" fill="#28aab4"/>
<rect x="172.0" y="63.0" width="1.05" height="0.55" fill="#28b9a0"/>
<rect x="173.5" y="63.0" width="1.55" height="0.55" fill="#28b9a0"/>
<rect x="175.0" y="63.0" width="0.55" height="0.55" fill="#28aab4"/>
<rect x="176.0" y="63.0" width="1.05" height="0.55" fill="#289bc9"/>
<rect x="177.5" y="63.0" width="0.55" height="0.55" fill="#2a86cd"/>
<rect x="178.5" y="63.0" width="0.55" height="0.55" fill="#2a86cd"/>
<rect x="179.5" y="63.0" width="0.55" height="0.55" fill="#2a86cd"/>
<rect x="181.0" y="63.0" width="1.55" height="0.55" fill="#2a86cd"/>
<rect x="183.0" y="63.0" width="0.55" height="0.55" fill="#2a86cd"/>
<rect x="184.0" y="63.0" width="0.55" height="0.55" fill="#2d6cc6"/>
<rect x="184.5" y="63.0" width="0.55" height="0.55" fill="#3153be"/>
<rect x="153.0" y="63.5" width="1.05" height="0.55" fill="#3e56c1"/>
<rect x="155.5" y="63.5" width="0.55" height="0.55" fill="#7882d7" fill-opacity="0.3"/>
<rect x="163.0" y="63.5" width="0.55" height="0.55" fill="#3e56c1"/>
<rect x="170.0" y="63.5" width="0.55" height="0.55" fill="#2d6cc6"/>
<rect x="171.0" y="63.5" width="1.05" height="0.55" fill="#289bc9"/>
<rect x="173.5" y="63.5" width="1.05" height="0.55" fill="#28aab4"/>
<rect x="174.5" y="63.5" width="0.55" height="0.55" fill="#28b9a0"/>
<rect x="175.5" y="63.5" width="0.55" height="0.55" fill="#28aab4"/>
<rect x="176.5" y="63.5" width="1.05" height="0.55" fill="#2a86cd"/>
<rect x="179.5" y="63.5" width="0.55" height="0.55" fill="#2a86cd"/>
<rect x="181.5" y="63.5" width="0.55" height="0.55" fill="#2a86cd"/>
<rect x="182.5" y="63.5" width="0.55" height="0.55" fill="#2a86cd"/>
<rect x="186.5" y="63.5" width="0.55" height="0.55" fill="#3e56c1"/>
<rect x="152.0" y="64.0" width="0.55" height="0.55" fill="#7882d7" fill-opacity="0.3"/>
<rect x="158.5" y="64.0" width="0.55" height="0.55" fill="#7882d7" fill-opacity="0.3"/>
<rect x="161.5" y="64.0" width="0.55" height="0.55" fill="#7882d7" fill-opacity="0.3"/>
<rect x="164.0" y="64.0" width="0.55" height="0.55" fill="#3153be"/>
<rect x="166.0" y="64.0" width="0.55" height="0.55" fill="#3153be"/>
<rect x="168.0" y="64.0" width="0.55" height="0.55" fill="#2d6cc6"/>
<rect x="169.5" y="64.0" width="0.55" height="0.55" fill="#2d6cc6"/>
<rect x="170.5" y="64.0" width="0.55" height="0.55" fill="#2d6cc6"/>
<rect x="171.5" y="64.0" width="2.05" height="0.55" fill="#289bc9"/>
<rect x="174.0" y="64.0" width="0.55" height="0.55" fill="#28aab4"/>
<rect x="175.0" y="64.0" width="0.55" height="0.55" fill="#28aab4"/>
<rect x="176.0" y="64.0" width="0.55" height="0.55" fill="#289bc9"/>
<rect x="178.5" y="64.0" width="0.55" height="0.55" fill="#2d6cc6"/>
<rect x="180.5" y="64.0" width="1.05" height="0.55" fill="#2a86cd"/>
<rect x="183.5" y="64.0" width="0.55" height="0.55" fill="#2d6cc6"/>
<rect x="186.0" y="64.0" width="0.55" height="0.55" fill="#3153be"/>
<rect x="188.5" y="64.0" width="0.55" height="0.55" fill="#3153be"/>
<rect x="148.5" y="64.5" width="0.55" height="0.55" fill="#7882d7" fill-opacity="0.3"/>
<rect x="166.5" y="64.5" width="1.55" height="0.55" fill="#2d6cc6"/>
<rect x="168.5" y="64.5" width="1.05" height="0.55" fill="#2d6cc6"/>
<rect x="170.5" y="64.5" width="0.55" height="0.55" fill="#2d6cc6"/>
<rect x="171.0" y="64.5" width="0.55" height="0.55" fill="#2a86cd"/>
<rect x="172.5" y="64.5" width="0.55" height="0.55" fill="#289bc9"/>
<rect x="173.5" y="64.5" width="1.05" height="0.55" fill="#289bc9"/>
<rect x="174.5" y="64.5" width="1.55" height="0.55" fill="#28aab4"/>
<rect x="176.5" y="64.5" width="0.55" height="0.55" fill="#289bc9"/>
<rect x="177.0" y="64.5" width="0.55" height="0.55" fill="#2a86cd"/>
<rect x="179.0" y="64.5" width="0.55" height="0.55" fill="#2d6cc6"/>
<rect x="179.5" y="64.5" width="1.05" height="0.55" fill="#2a86cd"/>
<rect x="181.0" y="64.5" width="0.55" height="0.55" fill="#2a86cd"/>
<rect x="182.0" y="64.5" width="1.05" height="0.55" fill="#2a86cd"/>
<rect x="185.5" y="64.5" width="0.55" height="0.55" fill="#3153be"/>
<rect x="188.5" y="64.5" width="1.05" height="0.55" fill="#3153be"/>
<rect x="151.0" y="65.0" width="0.55" height="0.55" fill="#7882d7" fill-opacity="0.3"/>
<rect x="153.5" y="65.0" width="0.55" height="0.55" fill="#7882d7" fill-opacity="0.3"/>
<rect x="163.5" y="65.0" width="1.05" height="0.55" fill="#3153be"/>
<rect x="166.0" y="65.0" width="0.55" height="0.55" fill="#3153be"/>
<rect x="167.0" y="65.0" width="0.55" height="0.55" fill="#2d6cc6"/>
<rect x="169.5" y="65.0" width="0.55" height="0.55" fill="#2d6cc6"/>
<rect x="172.0" y="65.0" width="1.55" height="0.55" fill="#2a86cd"/>
<rect x="174.5" y="65.0" width="0.55" height="0.55" fill="#289bc9"/>
<rect x="175.5" y="65.0" width="0.55" height="0.55" fill="#28aab4"/>
<rect x="176.0" y="65.0" width="0.55" height="0.55" fill="#289bc9"/>
<rect x="177.0" y="65.0" width="1.05" height="0.55" fill="#2a86cd"/>
<rect x="179.5" y="65.0" width="0.55" height="0.55" fill="#2a86cd"/>
<rect x="182.5" y="65.0" width="1.05" height="0.55" fill="#2a86cd"/>
<rect x="184.0" y="65.0" width="0.55" height="0.55" fill="#2d6cc6"/>
<rect x="185.5" y="65.0" width="0.55" height="0.55" fill="#3153be"/>
<rect x="187.0" y="65.0" width="1.05" height="0.55" fill="#2d6cc6"/>
<rect x="155.5" y="65.5" width="0.55" height="0.55" fill="#3e56c1"/>
<rect x="163.0" y="65.5" width="0.55" height="0.55" fill="#3153be"/>
<rect x="164.5" y="65.5" width="0.55" height="0.55" fill="#3153be"/>
<rect x="168.5" y="65.5" width="0.55" height="0.55" fill="#2d6cc6"/>
<rect x="170.5" y="65.5" width="1.05" height="0.55" fill="#2d6cc6"/>
<rect x="173.5" y="65.5" width="1.05" height="0.55" fill="#289bc9"/>
<rect x="175.0" y="65.5" width="1.05" height="0.55" fill="#28aab4"/>
<rect x="176.0" y="65.5" width="0.55" height="0.55" fill="#289bc9"/>
<rect x="177.0" y="65.5" width="0.55" height="0.55" fill="#289bc9"/>
<rect x="178.0" y="65.5" width="0.55" height="0.55" fill="#2a86cd"/>
<rect x="179.5" y="65.5" width="0.55" height="0.55" fill="#2a86cd"/>
<rect x="180.5" y="65.5" width="0.55" height="0.55" fill="#2a86cd"/>
<rect x="182.0" y="65.5" width="1.55" height="0.55" fill="#2a86cd"/>
<rect x="184.5" y="65.5" width="0.55" height="0.55" fill="#2d6cc6"/>
<rect x="185.5" y="65.5" width="0.55" height="0.55" fill="#2d6cc6"/>
<rect x="188.0" y="65.5" width="0.55" height="0.55" fill="#3153be"/>
<rect x="189.5" y="65.5" width="0.55" height="0.55" fill="#3e56c1"/>
<rect x="148.5" y="66.0" width="0.55" height="0.55" fill="#7882d7" fill-opacity="0.3"/>
<rect x="155.0" y="66.0" width="0.55" height="0.55" fill="#3e56c1"/>
<rect x="161.5" y="66.0" width="0.55" height="0.55" fill="#7882d7" fill-opacity="0.3"/>
<rect x="163.0" y="66.0" width="0.55" height="0.55" fill="#3153be"/>
<rect x="167.5" y="66.0" width="0.55" height="0.55" fill="#3153be"/>
<rect x="172.5" y="66.0" width="1.05" height="0.55" fill="#2a86cd"/>
<rect x="173.5" y="66.0" width="0.55" height="0.55" fill="#289bc9"/>
<rect x="174.0" y="66.0" width="0.55" height="0.55" fill="#28aab4"/>
<rect x="175.0" y="66.0" width="1.05" height="0.55" fill="#28aab4"/>
<rect x="176.5" y="66.0" width="1.05" height="0.55" fill="#289bc9"/>
<rect x="178.5" y="66.0" width="1.05" height="0.55" fill="#2a86cd"/>
<rect x="180.0" y="66.0" width="0.55" height="0.55" fill="#2a86cd"/>
<rect x="180.5" y="66.0" width="0.55" height="0.55" fill="#289bc9"/>
<rect x="181.0" y="66.0" width="2.05" height="0.55" fill="#2a86cd"/>
<rect x="184.5" y="66.0" width="1.05" height="0.55" fill="#2d6cc6"/>
<rect x="186.5" y="66.0" width="0.55" height="0.55" fill="#2d6cc6"/>
<rect x="187.5" y="66.0" width="0.55" height="0.55" fill="#2d6cc6"/>
<rect x="189.0" y="66.0" width="0.55" height="0.55" fill="#3e56c1"/>
<rect x="155.5" y="66.5" width="0.55" height="0.55" fill="#3e56c1"/>
<rect x="156.5" y="66.5" width="0.55" height="0.55" fill="#3e56c1"/>
<rect x="166.0" y="66.5" width="0.55" height="0.55" fill="#3e56c1"/>
<rect x="169.5" y="66.5" width="1.05" height="0.55" fill="#2d6cc6"/>
<rect x="171.5" y="66.5" width="0.55" height="0.55" fill="#2d6cc6"/>
<rect x="173.5" y="66.5" width="0.55" height="0.55" fill="#289bc9"/>
<rect x="174.0" y="66.5" width="2.05" height="0.55" fill="#28aab4"/>
<rect x="176.5" y="66.5" width="0.55" height="0.55" fill="#28aab4"/>
<rect x="178.0" y="66.5" width="0.55" height="0.55" fill="#289bc9"/>
<rect x="180.0" y="66.5" width="1.55" height="0.55" fill="#289bc9"/>
<rect x="182.0" y="66.5" width="0.55" height="0.55" fill="#2a86cd"/>
<rect x="183.5" y="66.5" width="0.55" height="0.55" fill="#2d6cc6"/>
<rect x="186.0" y="66.5" width="1.55" height="0.55" fill="#2d6cc6"/>
<rect x="191.0" y="66.5" width="0.55" height="0.55" fill="#7882d7" fill-opacity="0.3"/>
<rect x="158.0" y="67.0" width="0.55" height="0.55" fill="#7882d7" fill-opacity="0.3"/>
<rect x="159.0" y="67.0" width="0.55" height="0.55" fill="#3e56c1"/>
<rect x="164.0" y="67.0" width="0.55" height="0.55" fill="#3153be"/>
<rect x="165.0" y="67.0" width="0.55" height="0.55" fill="#3e56c1"/>
<rect x="170.0" y="67.0" width="1.05" height="0.55" fill="#2d6cc6"/>
<rect x="171.5" y="67.0" width="0.55" height="0.55" fill="#2d6cc6"/>
<rect x="172.5" y="67.0" width="1.05" height="0.55" fill="#2a86cd"/>
<rect x="174.0" y="67.0" width="1.55" height="0.55" fill="#289bc9"/>
<rect x="176.0" y="67.0" width="2.05" height="0.55" fill="#28aab4"/>
<rect x="178.0" y="67.0" width="1.05" height="0.55" fill="#289bc9"/>
<rect x="180.0" y="67.0" width="0.55" height="0.55" fill="#289bc9"/>
<rect x="181.0" y="67.0" width="0.55" height="0.55" fill="#289bc9"/>
<rect x="182.5" y="67.0" width="1.05" height="0.55" fill="#2a86cd"/>
<rect x="184.0" y="67.0" width="0.55" height="0.55" fill="#2d6cc6"/>
<rect x="185.5" y="67.0" width="1.05" height="0.55" fill="#2d6cc6"/>
<rect x="154.0" y="67.5" width="0.55" height="0.55" fill="#3e56c1"/>
<rect x="159.5" y="67.5" width="0.55" height="0.55" fill="#3e56c1"/>
<rect x="165.5" y="67.5" width="0.55" height="0.55" fill="#3e56c1"/>
<rect x="168.5" y="67.5" width="0.55" height="0.55" fill="#3153be"/>
<rect x="171.5" y="67.5" width="0.55" height="0.55" fill="#2a86cd"/>
<rect x="172.5" y="67.5" width="0.55" height="0.55" fill="#2a86cd"/>
<rect x="173.5" y="67.5" width="0.55" height="0.55" fill="#2a86cd"/>
<rect x="176.0" y="67.5" width="2.05" height="0.55" fill="#28aab4"/>
<rect x="178.5" y="67.5" width="0.55" height="0.55" fill="#289bc9"/>
<rect x="179.5" y="67.5" width="1.05" height="0.55" fill="#289bc9"/>
<rect x="181.0" y="67.5" width="0.55" height="0.55" fill="#28aab4"/>
<rect x="181.5" y="67.5" width="0.55" height="0.55" fill="#289bc9"/>
<rect x="183.5" y="67.5" width="0.55" height="0.55" fill="#2a86cd"/>
<rect x="184.5" y="67.5" width="0.55" height="0.55" fill="#2a86cd"/>
<rect x="162.0" y="68.0" width="0.55" height="0.55" fill="#3e56c1"/>
<rect x="163.5" y="68.0" width="0.55" height="0.55" fill="#3153be"/>
<rect x="168.0" y="68.0" width="0.55" height="0.55" fill="#3153be"/>
<rect x="170.0" y="68.0" width="0.55" height="0.55" fill="#2d6cc6"/>
<rect x="171.5" y="68.0" width="0.55" height="0.55" fill="#2d6cc6"/>
<rect x="172.5" y="68.0" width="0.55" height="0.55" fill="#2a86cd"/>
<rect x="174.0" y="68.0" width="1.05" height="0.55" fill="#289bc9"/>
<rect x="175.5" y="68.0" width="1.05" height="0.55" fill="#289bc9"/>
<rect x="176.5" y="68.0" width="1.05" height="0.55" fill="#28aab4"/>
<rect x="178.5" y="68.0" width="0.55" height="0.55" fill="#289bc9"/>
<rect x="180.0" y="68.0" width="0.55" height="0.55" fill="#289bc9"/>
<rect x="180.5" y="68.0" width="1.05" height="0.55" fill="#28aab4"/>
<rect x="181.5" y="68.0" width="1.05" height="0.55" fill="#289bc9"/>
<rect x="182.5" y="68.0" width="2.05" height="0.55" fill="#2a86cd"/>
<rect x="185.0" y="68.0" width="1.05" height="0.55" fill="#2d6cc6"/>
<rect x="152.0" y="68.5" width="0.55" height="0.55" fill="#3e56c1"/>
<rect x="153.5" y="68.5" width="0.55" height="0.55" fill="#3e56c1"/>
<rect x="155.0" y="68.5" width="0.55" height="0.55" fill="#3e56c1"/>
<rect x="159.0" y="68.5" width="0.55" height="0.55" fill="#3e56c1"/>
<rect x="162.5" y="68.5" width="0.55" height="0.55" fill="#3153be"/>
<rect x="164.5" y="68.5" width="0.55" height="0.55" fill="#3153be"/>
<rect x="167.0" y="68.5" width="0.55" height="0.55" fill="#3153be"/>
<rect x="168.0" y="68.5" width="0.55" height="0.55" fill="#3153be"/>
<rect x="170.5" y="68.5" width="1.05" height="0.55" fill="#2d6cc6"/>
<rect x="172.5" y="68.5" width="0.55" height="0.55" fill="#2d6cc6"/>
<rect x="173.5" y="68.5" width="0.55" height="0.55" fill="#2a86cd"/>
<rect x="174.0" y="68.5" width="0.55" height="0.55" fill="#289bc9"/>
<rect x="175.5" y="68.5" width="0.55" height="0.55" fill="#289bc9"/>
<rect x="176.5" y="68.5" width="0.55" height="0.55" fill="#289bc9"/>
<rect x="179.0" y="68.5" width="0.55" height="0.55" fill="#289bc9"/>
<rect x="180.5" y="68.5" width="1.55" height="0.55" fill="#28aab4"/>
<rect x="183.5" y="68.5" width="0.55" height="0.55" fill="#2a86cd"/>
<rect x="184.5" y="68.5" width="0.55" height="0.55" fill="#2a86cd"/>
<rect x="185.0" y="68.5" width="0.55" height="0.55" fill="#2d6cc6"/>
<rect x="187.0" y="68.5" width="0.55" height="0.55" fill="#2d6cc6"/>
<rect x="188.0" y="68.5" width="0.55" height="0.55" fill="#3153be"/>
<rect x="192.0" y="68.5" width="0.55" height="0.55" fill="#3e56c1"/>
<rect x="151.5" y="69.0" width="1.05" height="0.55" fill="#3e56c1"/>
<rect x="163.5" y="69.0" width="1.05" height="0.55" fill="#3153be"/>
<rect x="166.5" y="69.0" width="0.55" height="0.55" fill="#3e56c1"/>
<rect x="170.0" y="69.0" width="0.55" height="0.55" fill="#3153be"/>
<rect x="171.5" y="69.0" width="0.55" height="0.55" fill="#3153be"/>
<rect x="174.5" y="69.0" width="1.05" height="0.55" fill="#289bc9"/>
<rect x="176.0" y="69.0" width="3.55" height="0.55" fill="#289bc9"/>
<rect x="180.5" y="69.0" width="1.05" height="0.55" fill="#28aab4"/>
<rect x="182.0" y="69.0" width="0.55" height="0.55" fill="#289bc9"/>
<rect x="183.5" y="69.0" width="0.55" height="0.55" fill="#2a86cd"/>
<rect x="185.5" y="69.0" width="0.55" height="0.55" fill="#2d6cc6"/>
<rect x="187.0" y="69.0" width="1.05" height="0.55" fill="#2d6cc6"/>
<rect x="191.0" y="69.0" width="0.55" height="0.55" fill="#3e56c1"/>
<rect x="192.0" y="69.0" width="0.55" height="0.55" fill="#3153be"/>
<rect x="156.5" y="69.5" width="0.55" height="0.55" fill="#7882d7" fill-opacity="0.3"/>
<rect x="159.5" y="69.5" width="0.55" height="0.55" fill="#7882d7" fill-opacity="0.3"/>
<rect x="167.5" y="69.5" width="0.55" height="0.55" fill="#3153be"/>
<rect x="168.5" y="69.5" width="0.55" height="0.55" fill="#3153be"/>
<rect x="173.0" y="69.5" width="0.55" height="0.55" fill="#2d6cc6"/>
<rect x="173.5" y="69.5" width="1.55" height="0.55" fill="#2a86cd"/>
<rect x="175.5" y="69.5" width="0.55" height="0.55" fill="#2a86cd"/>
<rect x="177.0" y="69.5" width="0.55" height="0.55" fill="#2a86cd"/>
<rect x="178.0" y="69.5" width="0.55" height="0.55" fill="#289bc9"/>
<rect x="179.0" y="69.5" width="0.55" height="0.55" fill="#289bc9"/>
<rect x="180.0" y="69.5" width="1.55" height="0.55" fill="#289bc9"/>
<rect x="183.0" y="69.5" width="0.55" height="0.55" fill="#2a86cd"/>
<rect x="184.0" y="69.5" width="1.05" height="0.55" fill="#2a86cd"/>
<rect x="185.0" y="69.5" width="0.55" height="0.55" fill="#2d6cc6"/>
<rect x="187.0" y="69.5" width="0.55" height="0.55" fill="#2d6cc6"/>
<rect x="189.5" y="69.5" width="0.55" height="0.55" fill="#3e56c1"/>
<rect x="162.0" y="70.0" width="1.05" height="0.55" fill="#3e56c1"/>
<rect x="166.5" y="70.0" width="0.55" height="0.55" fill="#3e56c1"/>
<rect x="169.0" y="70.0" width="0.55" height="0.55" fill="#3153be"/>
<rect x="170.0" y="70.0" width="0.55" height="0.55" fill="#3153be"/>
<rect x="177.5" y="70.0" width="0.55" height="0.55" fill="#2a86cd"/>
<rect x="178.0" y="70.0" width="0.55" height="0.55" fill="#289bc9"/>
<rect x="179.0" y="70.0" width="1.05" height="0.55" fill="#289bc9"/>
<rect x="180.5" y="70.0" width="0.55" height="0.55" fill="#289bc9"/>
<rect x="181.5" y="70.0" width="1.05" height="0.55" fill="#2a86cd"/>
<rect x="183.0" y="70.0" width="0.55" height="0.55" fill="#2a86cd"/>
<rect x="184.0" y="70.0" width="1.05" height="0.55" fill="#2a86cd"/>
<rect x="185.5" y="70.0" width="0.55" height="0.55" fill="#2d6cc6"/>
<rect x="189.5" y="70.0" width="0.55" height="0.55" fill="#3153be"/>
<rect x="191.0" y="70.0" width="0.55" height="0.55" fill="#3153be"/>
<rect x="152.0" y="70.5" width="0.55" height="0.55" fill="#3e56c1"/>
<rect x="156.5" y="70.5" width="0.55" height="0.55" fill="#7882d7" fill-opacity="0.3"/>
<rect x="166.0" y="70.5" width="0.55" height="0.55" fill="#3e56c1"/>
<rect x="170.0" y="70.5" width="0.55" height="0.55" fill="#2d6cc6"/>
<rect x="175.5" y="70.5" width="1.05" height="0.55" fill="#2d6cc6"/>
<rect x="177.5" y="70.5" width="1.05" height="0.55" fill="#2a86cd"/>
<rect x="179.5" y="70.5" width="0.55" height="0.55" fill="#2a86cd"/>
<rect x="181.0" y="70.5" width="0.55" height="0.55" fill="#2a86cd"/>
<rect x="182.0" y="70.5" width="0.55" height="0.55" fill="#2d6cc6"/>
<rect x="183.0" y="70.5" width="1.55" height="0.55" fill="#2a86cd"/>
<rect x="185.5" y="70.5" width="0.55" height="0.55" fill="#2d6cc6"/>
<rect x="187.5" y="70.5" width="0.55" height="0.55" fill="#3153be"/>
<rect x="190.0" y="70.5" width="0.55" height="0.55" fill="#3153be"/>
<rect x="192.5" y="70.5" width="0.55" height="0.55" fill="#3e56c1"/>
<rect x="151.5" y="71.0" width="0.55" height="0.55" fill="#3e56c1"/>
<rect x="155.5" y="71.0" width="0.55" height="0.55" fill="#7882d7" fill-opacity="0.3"/>
<rect x="158.5" y="71.0" width="0.55" height="0.55" fill="#3e56c1"/>
<rect x="159.5" y="71.0" width="0.55" height="0.55" fill="#3153be"/>
<rect x="161.0" y="71.0" width="0.55" height="0.55" fill="#3e56c1"/>
<rect x="162.5" y="71.0" width="0.55" height="0.55" fill="#3e56c1"/>
<rect x="170.0" y="71.0" width="0.55" height="0.55" fill="#2d6cc6"/>
<rect x="172.5" y="71.0" width="2.55" height="0.55" fill="#2d6cc6"/>
<rect x="175.5" y="71.0" width="0.55" height="0.55" fill="#2d6cc6"/>
<rect x="176.0" y="71.0" width="0.55" height="0.55" fill="#2a86cd"/>
<rect x="177.5" y="71.0" width="1.05" height="0.55" fill="#2a86cd"/>
<rect x="180.0" y="71.0" width="0.55" height="0.55" fill="#2a86cd"/>
<rect x="181.0" y="71.0" width="0.55" height="0.55" fill="#2a86cd"/>
<rect x="184.0" y="71.0" width="0.55" height="0.55" fill="#2a86cd"/>
<rect x="187.5" y="71.0" width="1.05" height="0.55" fill="#3153be"/>
<rect x="191.5" y="71.0" width="0.55" height="0.55" fill="#3e56c1"/>
<rect x="152.0" y="71.5" width="0.55" height="0.55" fill="#3153be"/>
<rect x="158.5" y="71.5" width="0.55" height="0.55" fill="#3153be"/>
<rect x="160.5" y="71.5" width="0.55" height="0.55" fill="#3e56c1"/>
<rect x="168.0" y="71.5" width="0.55" height="0.55" fill="#3e56c1"/>
<rect x="169.5" y="71.5" width="1.05" height="0.55" fill="#3153be"/>
<rect x="172.5" y="71.5" width="0.55" height="0.55" fill="#2d6cc6"/>
<rect x="174.5" y="71.5" width="1.05" height="0.55" fill="#2d6cc6"/>
<rect x="176.0" y="71.5" width="1.05" height="0.55" fill="#2a86cd"/>
<rect x="178.0" y="71.5" width="0.55" height="0.55" fill="#2a86cd"/>
<rect x="179.0" y="71.5" width="1.05" height="0.55" fill="#2d6cc6"/>
<rect x="180.5" y="71.5" width="1.55" height="0.55" fill="#2d6cc6"/>
<rect x="183.0" y="71.5" width="0.55" height="0.55" fill="#2d6cc6"/>
<rect x="184.0" y="71.5" width="1.05" height="0.55" fill="#2d6cc6"/>
<rect x="185.0" y="71.5" width="0.55" height="0.55" fill="#3153be"/>
<rect x="148.0" y="72.0" width="0.55" height="0.55" fill="#7882d7" fill-opacity="0.3"/>
<rect x="159.0" y="72.0" width="0.55" height="0.55" fill="#3153be"/>
<rect x="162.0" y="72.0" width="0.55" height="0.55" fill="#3153be"/>
<rect x="166.0" y="72.0" width="0.55" height="0.55" fill="#7882d7" fill-opacity="0.3"/>
<rect x="168.0" y="72.0" width="0.55" height="0.55" fill="#3e56c1"/>
<rect x="169.5" y="72.0" width="0.55" height="0.55" fill="#3153be"/>
<rect x="172.5" y="72.0" width="1.05" height="0.55" fill="#2d6cc6"/>
<rect x="176.0" y="72.0" width="0.55" height="0.55" fill="#2d6cc6"/>
<rect x="177.0" y="72.0" width="0.55" height="0.55" fill="#2d6cc6"/>
<rect x="178.0" y="72.0" width="0.55" height="0.55" fill="#2d6cc6"/>
<rect x="179.0" y="72.0" width="0.55" height="0.55" fill="#2d6cc6"/>
<rect x="184.0" y="72.0" width="0.55" height="0.55" fill="#2d6cc6"/>
<rect x="190.0" y="72.0" width="0.55" height="0.55" fill="#3153be"/>
<rect x="191.5" y="72.0" width="0.55" height="0.55" fill="#3e56c1"/>
<rect x="151.5" y="72.5" width="0.55" height="0.55" fill="#3e56c1"/>
<rect x="152.0" y="72.5" width="0.55" height="0.55" fill="#3153be"/>
<rect x="158.5" y="72.5" width="0.55" height="0.55" fill="#3e56c1"/>
<rect x="161.0" y="72.5" width="0.55" height="0.55" fill="#3153be"/>
<rect x="163.5" y="72.5" width="0.55" height="0.55" fill="#3e56c1"/>
<rect x="171.0" y="72.5" width="0.55" height="0.55" fill="#3153be"/>
<rect x="171.5" y="72.5" width="0.55" height="0.55" fill="#2d6cc6"/>
<rect x="173.5" y="72.5" width="0.55" height="0.55" fill="#3153be"/>
<rect x="176.0" y="72.5" width="0.55" height="0.55" fill="#2d6cc6"/>
<rect x="177.5" y="72.5" width="0.55" height="0.55" fill="#2d6cc6"/>
<rect x="178.5" y="72.5" width="0.55" height="0.55" fill="#2d6cc6"/>
<rect x="180.0" y="72.5" width="0.55" height="0.55" fill="#2d6cc6"/>
<rect x="181.0" y="72.5" width="0.55" height="0.55" fill="#2d6cc6"/>
<rect x="182.5" y="72.5" width="0.55" height="0.55" fill="#2d6cc6"/>
<rect x="185.0" y="72.5" width="0.55" height="0.55" fill="#3153be"/>
<rect x="188.0" y="72.5" width="0.55" height="0.55" fill="#3e56c1"/>
<rect x="152.5" y="73.0" width="0.55" height="0.55" fill="#3e56c1"/>
<rect x="159.5" y="73.0" width="0.55" height="0.55" fill="#3e56c1"/>
<rect x="161.5" y="73.0" width="1.05" height="0.55" fill="#3153be"/>
<rect x="165.5" y="73.0" width="0.55" height="0.55" fill="#7882d7" fill-opacity="0.3"/>
<rect x="169.0" y="73.0" width="0.55" height="0.55" fill="#7882d7" fill-opacity="0.3"/>
<rect x="171.5" y="73.0" width="0.55" height="0.55" fill="#2d6cc6"/>
<rect x="172.5" y="73.0" width="1.05" height="0.55" fill="#2d6cc6"/>
<rect x="175.5" y="73.0" width="0.55" height="0.55" fill="#2d6cc6"/>
<rect x="176.5" y="73.0" width="0.55" height="0.55" fill="#2d6cc6"/>
<rect x="178.0" y="73.0" width="0.55" height="0.55" fill="#2d6cc6"/>
<rect x="179.0" y="73.0" width="0.55" height="0.55" fill="#2d6cc6"/>
<rect x="180.5" y="73.0" width="0.55" height="0.55" fill="#3153be"/>
<rect x="182.5" y="73.0" width="0.55" height="0.55" fill="#2d6cc6"/>
<rect x="187.0" y="73.0" width="0.55" height="0.55" fill="#3e56c1"/>
<rect x="189.5" y="73.0" width="0.55" height="0.55" fill="#3e56c1"/>
<rect x="149.0" y="73.5" width="0.55" height="0.55" fill="#7882d7" fill-opacity="0.3"/>
<rect x="155.0" y="73.5" width="0.55" height="0.55" fill="#3e56c1"/>
<rect x="156.5" y="73.5" width="0.55" height="0.55" fill="#7882d7" fill-opacity="0.3"/>
<rect x="167.0" y="73.5" width="0.55" height="0.55" fill="#3e56c1"/>
<rect x="171.5" y="73.5" width="1.05" height="0.55" fill="#2d6cc6"/>
<rect x="175.0" y="73.5" width="1.55" height="0.55" fill="#2d6cc6"/>
<rect x="178.0" y="73.5" width="0.55" height="0.55" fill="#2d6cc6"/>
<rect x="181.5" y="73.5" width="0.55" height="0.55" fill="#3153be"/>
<rect x="184.0" y="73.5" width="1.05" height="0.55" fill="#3153be"/>
<rect x="186.5" y="73.5" width="0.55" height="0.55" fill="#3e56c1"/>
<rect x="151.5" y="74.0" width="0.55" height="0.55" fill="#7882d7" fill-opacity="0.3"/>
<rect x="155.0" y="74.0" width="0.55" height="0.55" fill="#3e56c1"/>
<rect x="159.5" y="74.0" width="0.55" height="0.55" fill="#7882d7" fill-opacity="0.3"/>
<rect x="166.5" y="74.0" width="0.55" height="0.55" fill="#3e56c1"/>
<rect x="171.0" y="74.0" width="0.55" height="0.55" fill="#3153be"/>
<rect x="172.5" y="74.0" width="1.55" height="0.55" fill="#3153be"/>
<rect x="176.5" y="74.0" width="1.05" height="0.55" fill="#2a86cd"/>
<rect x="178.0" y="74.0" width="0.55" height="0.55" fill="#2d6cc6"/>
<rect x="181.0" y="74.0" width="0.55" height="0.55" fill="#3153be"/>
<rect x="182.5" y="74.0" width="1.55" height="0.55" fill="#2d6cc6"/>
<rect x="185.0" y="74.0" width="0.55" height="0.55" fill="#3153be"/>
<rect x="189.5" y="74.0" width="0.55" height="0.55" fill="#3e56c1"/>
<rect x="190.5" y="74.0" width="0.55" height="0.55" fill="#7882d7" fill-opacity="0.3"/>
<rect x="161.5" y="74.5" width="0.55" height="0.55" fill="#7882d7" fill-opacity="0.3"/>
<rect x="164.0" y="74.5" width="1.05" height="0.55" fill="#3e56c1"/>
<rect x="175.5" y="74.5" width="1.05" height="0.55" fill="#2d6cc6"/>
<rect x="177.5" y="74.5" width="0.55" height="0.55" fill="#2d6cc6"/>
<rect x="179.0" y="74.5" width="1.05" height="0.55" fill="#3153be"/>
<rect x="181.0" y="74.5" width="0.55" height="0.55" fill="#2d6cc6"/>
<rect x="182.5" y="74.5" width="0.55" height="0.55" fill="#2d6cc6"/>
<rect x="183.5" y="74.5" width="0.55" height="0.55" fill="#2d6cc6"/>
<rect x="185.5" y="74.5" width="0.55" height="0.55" fill="#3153be"/>
<rect x="187.0" y="74.5" width="0.55" height="0.55" fill="#3e56c1"/>
<rect x="158.5" y="75.0" width="0.55" height="0.55" fill="#7882d7" fill-opacity="0.3"/>
<rect x="163.5" y="75.0" width="0.55" height="0.55" fill="#3e56c1"/>
<rect x="165.5" y="75.0" width="0.55" height="0.55" fill="#3e56c1"/>
<rect x="171.0" y="75.0" width="0.55" height="0.55" fill="#3e56c1"/>
<rect x="177.5" y="75.0" width="0.55" height="0.55" fill="#2d6cc6"/>
<rect x="180.5" y="75.0" width="0.55" height="0.55" fill="#2d6cc6"/>
<rect x="182.0" y="75.0" width="0.55" height="0.55" fill="#2d6cc6"/>
<rect x="185.5" y="75.0" width="0.55" height="0.55" fill="#2d6cc6"/>
<rect x="189.0" y="75.0" width="0.55" height="0.55" fill="#3153be"/>
<rect x="192.0" y="75.0" width="0.55" height="0.55" fill="#7882d7" fill-opacity="0.3"/>
<rect x="148.5" y="75.5" width="0.55" height="0.55" fill="#7882d7" fill-opacity="0.3"/>
<rect x="153.0" y="75.5" width="0.55" height="0.55" fill="#7882d7" fill-opacity="0.3"/>
<rect x="155.5" y="75.5" width="0.55" height="0.55" fill="#7882d7" fill-opacity="0.3"/>
<rect x="158.0" y="75.5" width="0.55" height="0.55" fill="#7882d7" fill-opacity="0.3"/>
<rect x="177.0" y="75.5" width="0.55" height="0.55" fill="#2d6cc6"/>
<rect x="179.0" y="75.5" width="0.55" height="0.55" fill="#2d6cc6"/>
<rect x="180.0" y="75.5" width="0.55" height="0.55" fill="#2d6cc6"/>
<rect x="180.5" y="75.5" width="0.55" height="0.55" fill="#2a86cd"/>
<rect x="181.5" y="75.5" width="1.05" height="0.55" fill="#2d6cc6"/>
<rect x="183.5" y="75.5" width="0.55" height="0.55" fill="#2d6cc6"/>
<rect x="184.5" y="75.5" width="1.55" height="0.55" fill="#2d6cc6"/>
<rect x="186.0" y="75.5" width="0.55" height="0.55" fill="#3153be"/>
<rect x="188.5" y="75.5" width="0.55" height="0.55" fill="#3153be"/>
<rect x="165.0" y="76.0" width="0.55" height="0.55" fill="#3e56c1"/>
<rect x="166.0" y="76.0" width="0.55" height="0.55" fill="#3153be"/>
<rect x="171.0" y="76.0" width="0.55" height="0.55" fill="#7882d7" fill-opacity="0.3"/>
<rect x="176.0" y="76.0" width="0.55" height="0.55" fill="#3153be"/>
<rect x="177.5" y="76.0" width="0.55" height="0.55" fill="#2a86cd"/>
<rect x="178.0" y="76.0" width="0.55" height="0.55" fill="#2d6cc6"/>
<rect x="179.5" y="76.0" width="0.55" height="0.55" fill="#2d6cc6"/>
<rect x="180.5" y="76.0" width="0.55" height="0.55" fill="#2a86cd"/>
<rect x="181.0" y="76.0" width="0.55" height="0.55" fill="#2d6cc6"/>
<rect x="183.0" y="76.0" width="0.55" height="0.55" fill="#2d6cc6"/>
<rect x="184.5" y="76.0" width="1.05" height="0.55" fill="#2d6cc6"/>
<rect x="189.0" y="76.0" width="0.55" height="0.55" fill="#3153be"/>
<rect x="191.5" y="76.0" width="0.55" height="0.55" fill="#3e56c1"/>
<rect x="153.0" y="76.5" width="0.55" height="0.55" fill="#7882d7" fill-opacity="0.3"/>
<rect x="156.5" y="76.5" width="0.55" height="0.55" fill="#7882d7" fill-opacity="0.3"/>
<rect x="166.5" y="76.5" width="0.55" height="0.55" fill="#3e56c1"/>
<rect x="168.5" y="76.5" width="0.55" height="0.55" fill="#7882d7" fill-opacity="0.3"/>
<rect x="174.0" y="76.5" width="1.05" height="0.55" fill="#3153be"/>
<rect x="177.0" y="76.5" width="0.55" height="0.55" fill="#2d6cc6"/>
<rect x="178.0" y="76.5" width="1.05" height="0.55" fill="#2d6cc6"/>
<rect x="182.0" y="76.5" width="1.55" height="0.55" fill="#2d6cc6"/>
<rect x="188.5" y="76.5" width="0.55" height="0.55" fill="#3153be"/>
<rect x="191.5" y="76.5" width="0.55" height="0.55" fill="#3e56c1"/>
<rect x="160.5" y="77.0" width="0.55" height="0.55" fill="#7882d7" fill-opacity="0.3"/>
<rect x="163.5" y="77.0" width="0.55" height="0.55" fill="#7882d7" fill-opacity="0.3"/>
<rect x="173.5" y="77.0" width="0.55" height="0.55" fill="#3153be"/>
<rect x="174.5" y="77.0" width="0.55" height="0.55" fill="#3153be"/>
<rect x="177.0" y="77.0" width="0.55" height="0.55" fill="#2d6cc6"/>
<rect x="179.5" y="77.0" width="0.55" height="0.55" fill="#3153be"/>
<rect x="181.5" y="77.0" width="0.55" height="0.55" fill="#3153be"/>
<rect x="184.0" y="77.0" width="0.55" height="0.55" fill="#2d6cc6"/>
<rect x="187.0" y="77.0" width="0.55" height="0.55" fill="#3e56c1"/>
<rect x="187.5" y="77.0" width="0.55" height="0.55" fill="#3153be"/>
<rect x="150.0" y="77.5" width="0.55" height="0.55" fill="#7882d7" fill-opacity="0.3"/>
<rect x="153.5" y="77.5" width="0.55" height="0.55" fill="#7882d7" fill-opacity="0.3"/>
<rect x="174.5" y="77.5" width="0.55" height="0.55" fill="#3153be"/>
<rect x="175.5" y="77.5" width="0.55" height="0.55" fill="#3e56c1"/>
<rect x="180.0" y="77.5" width="0.55" height="0.55" fill="#3153be"/>
<rect x="183.5" y="77.5" width="0.55" height="0.55" fill="#2d6cc6"/>
<rect x="184.5" y="77.5" width="0.55" height="0.55" fill="#3153be"/>
<rect x="155.5" y="78.0" width="0.55" height="0.55" fill="#7882d7" fill-opacity="0.3"/>
<rect x="167.0" y="78.0" width="0.55" height="0.55" fill="#7882d7" fill-opacity="0.3"/>
<rect x="173.5" y="78.0" width="0.55" height="0.55" fill="#3e56c1"/>
<rect x="177.5" y="78.0" width="0.55" height="0.55" fill="#3153be"/>
<rect x="181.5" y="78.0" width="0.55" height="0.55" fill="#3153be"/>
<rect x="183.0" y="78.0" width="1.05" height="0.55" fill="#2d6cc6"/>
<rect x="188.0" y="78.0" width="0.55" height="0.55" fill="#3e56c1"/>
<rect x="191.0" y="78.0" width="0.55" height="0.55" fill="#3e56c1"/>
<rect x="176.0" y="78.5" width="0.55" height="0.55" fill="#3e56c1"/>
<rect x="180.5" y="78.5" width="0.55" height="0.55" fill="#3e56c1"/>
<rect x="187.5" y="78.5" width="0.55" height="0.55" fill="#3e56c1"/>
<rect x="192.5" y="78.5" width="0.55" height="0.55" fill="#3e56c1"/>
<rect x="157.5" y="79.0" width="0.55" height="0.55" fill="#7882d7" fill-opacity="0.3"/>
<rect x="161.0" y="79.0" width="0.55" height="0.55" fill="#7882d7" fill-opacity="0.3"/>
<rect x="166.5" y="79.0" width="0.55" height="0.55" fill="#7882d7" fill-opacity="0.3"/>
<rect x="177.0" y="79.0" width="0.55" height="0.55" fill="#3153be"/>
<rect x="181.0" y="79.0" width="0.55" height="0.55" fill="#3e56c1"/>
<rect x="183.0" y="79.0" width="0.55" height="0.55" fill="#3e56c1"/>
<rect x="188.5" y="79.0" width="0.55" height="0.55" fill="#3e56c1"/>
<rect x="191.0" y="79.0" width="0.55" height="0.55" fill="#3153be"/>
<rect x="151.0" y="79.5" width="0.55" height="0.55" fill="#7882d7" fill-opacity="0.3"/>
<rect x="159.5" y="79.5" width="0.55" height="0.55" fill="#7882d7" fill-opacity="0.3"/>
<rect x="169.5" y="79.5" width="0.55" height="0.55" fill="#7882d7" fill-opacity="0.3"/>
<rect x="172.0" y="79.5" width="0.55" height="0.55" fill="#7882d7" fill-opacity="0.3"/>
<rect x="176.0" y="79.5" width="0.55" height="0.55" fill="#3153be"/>
<rect x="178.0" y="79.5" width="0.55" height="0.55" fill="#3e56c1"/>
<rect x="190.0" y="79.5" width="0.55" height="0.55" fill="#3e56c1"/>
<rect x="192.0" y="79.5" width="0.55" height="0.55" fill="#3e56c1"/>
<rect x="161.5" y="80.0" width="0.55" height="0.55" fill="#7882d7" fill-opacity="0.3"/>
<rect x="167.5" y="80.0" width="0.55" height="0.55" fill="#7882d7" fill-opacity="0.3"/>
<rect x="177.5" y="80.0" width="0.55" height="0.55" fill="#3153be"/>
<rect x="187.0" y="80.0" width="1.05" height="0.55" fill="#3e56c1"/>
<rect x="189.5" y="80.0" width="0.55" height="0.55" fill="#3e56c1"/>
<rect x="191.0" y="80.0" width="0.55" height="0.55" fill="#3e56c1"/>
<rect x="166.0" y="80.5" width="0.55" height="0.55" fill="#7882d7" fill-opacity="0.3"/>
<rect x="168.5" y="80.5" width="0.55" height="0.55" fill="#7882d7" fill-opacity="0.3"/>
<rect x="174.0" y="80.5" width="0.55" height="0.55" fill="#3e56c1"/>
<rect x="176.0" y="80.5" width="1.05" height="0.55" fill="#3153be"/>
<rect x="183.0" y="80.5" width="0.55" height="0.55" fill="#7882d7" fill-opacity="0.3"/>
<rect x="184.5" y="80.5" width="0.55" height="0.55" fill="#7882d7" fill-opacity="0.3"/>
<rect x="151.5" y="81.0" width="0.55" height="0.55" fill="#7882d7" fill-opacity="0.3"/>
<rect x="156.0" y="81.0" width="0.55" height="0.55" fill="#7882d7" fill-opacity="0.3"/>
<rect x="158.5" y="81.0" width="0.55" height="0.55" fill="#7882d7" fill-opacity="0.3"/>
<rect x="164.0" y="81.0" width="0.55" height="0.55" fill="#7882d7" fill-opacity="0.3"/>
<rect x="174.0" y="81.0" width="0.55" height="0.55" fill="#3e56c1"/>
<rect x="177.0" y="81.0" width="0.55" height="0.55" fill="#3153be"/>
<rect x="180.0" y="81.0" width="0.55" height="0.55" fill="#7882d7" fill-opacity="0.3"/>
<rect x="153.0" y="81.5" width="0.55" height="0.55" fill="#7882d7" fill-opacity="0.3"/>
<rect x="156.0" y="82.0" width="0.55" height="0.55" fill="#7882d7" fill-opacity="0.3"/>
<rect x="165.0" y="82.0" width="0.55" height="0.55" fill="#7882d7" fill-opacity="0.3"/>
<rect x="173.5" y="82.0" width="0.55" height="0.55" fill="#7882d7" fill-opacity="0.3"/>
<rect x="181.0" y="82.0" width="0.55" height="0.55" fill="#7882d7" fill-opacity="0.3"/>
<rect x="180.0" y="82.5" width="0.55" height="0.55" fill="#7882d7" fill-opacity="0.3"/>
<rect x="184.0" y="82.5" width="0.55" height="0.55" fill="#3e56c1"/>
<rect x="185.0" y="82.5" width="0.55" height="0.55" fill="#7882d7" fill-opacity="0.3"/>
<rect x="187.0" y="82.5" width="0.55" height="0.55" fill="#7882d7" fill-opacity="0.3"/>
<rect x="160.0" y="83.0" width="0.55" height="0.55" fill="#7882d7" fill-opacity="0.3"/>
<rect x="186.5" y="83.0" width="0.55" height="0.55" fill="#3e56c1"/>
<rect x="184.0" y="83.5" width="0.55" height="0.55" fill="#7882d7" fill-opacity="0.3"/>
<rect x="190.0" y="83.5" width="0.55" height="0.55" fill="#7882d7" fill-opacity="0.3"/>
<rect x="150.5" y="84.0" width="0.55" height="0.55" fill="#7882d7" fill-opacity="0.3"/>
<rect x="159.0" y="84.0" width="0.55" height="0.55" fill="#7882d7" fill-opacity="0.3"/>
<rect x="182.0" y="84.0" width="0.55" height="0.55" fill="#7882d7" fill-opacity="0.3"/>
<rect x="188.0" y="84.0" width="0.55" height="0.55" fill="#3e56c1"/>
<rect x="175.0" y="84.5" width="0.55" height="0.55" fill="#7882d7" fill-opacity="0.3"/>
<rect x="177.0" y="84.5" width="0.55" height="0.55" fill="#7882d7" fill-opacity="0.3"/>
<rect x="187.0" y="84.5" width="0.55" height="0.55" fill="#3e56c1"/>
<rect x="188.0" y="84.5" width="0.55" height="0.55" fill="#3153be"/>
<rect x="156.5" y="85.0" width="0.55" height="0.55" fill="#7882d7" fill-opacity="0.3"/>
<rect x="174.5" y="85.0" width="0.55" height="0.55" fill="#7882d7" fill-opacity="0.3"/>
<rect x="187.0" y="85.0" width="0.55" height="0.55" fill="#3e56c1"/>
<rect x="167.0" y="85.5" width="0.55" height="0.55" fill="#7882d7" fill-opacity="0.3"/>
<rect x="178.0" y="85.5" width="0.55" height="0.55" fill="#7882d7" fill-opacity="0.3"/>
<rect x="181.0" y="85.5" width="0.55" height="0.55" fill="#7882d7" fill-opacity="0.3"/>
<rect x="188.5" y="85.5" width="0.55" height="0.55" fill="#7882d7" fill-opacity="0.3"/>
<rect x="181.5" y="86.0" width="0.55" height="0.55" fill="#3e56c1"/>
<rect x="164.5" y="86.5" width="1.05" height="0.55" fill="#3e56c1"/>
<rect x="176.0" y="86.5" width="0.55" height="0.55" fill="#7882d7" fill-opacity="0.3"/>
<rect x="185.5" y="86.5" width="0.55" height="0.55" fill="#7882d7" fill-opacity="0.3"/>
<rect x="154.0" y="87.0" width="0.55" height="0.55" fill="#7882d7" fill-opacity="0.3"/>
<rect x="164.0" y="87.0" width="0.55" height="0.55" fill="#3e56c1"/>
<rect x="182.5" y="87.0" width="0.55" height="0.55" fill="#3e56c1"/>
<rect x="178.5" y="87.5" width="0.55" height="0.55" fill="#7882d7" fill-opacity="0.3"/>
<rect x="182.5" y="87.5" width="0.55" height="0.55" fill="#7882d7" fill-opacity="0.3"/>
<rect x="161.5" y="88.0" width="0.55" height="0.55" fill="#7882d7" fill-opacity="0.3"/>
<rect x="169.0" y="88.0" width="0.55" height="0.55" fill="#7882d7" fill-opacity="0.3"/>
<rect x="185.5" y="88.0" width="0.55" height="0.55" fill="#7882d7" fill-opacity="0.3"/>
<rect x="176.0" y="88.5" width="0.55" height="0.55" fill="#7882d7" fill-opacity="0.3"/>
<rect x="162.0" y="89.0" width="0.55" height="0.55" fill="#3e56c1"/>
</g>
<rect x="150.40" y="47.20" width="20.40" height="8.30" fill="#7cc47f" stroke="#2f9a47" stroke-width="1" fill-opacity="0.55"/>
<rect x="174.20" y="61.50" width="15.70" height="21.00" fill="#f29aa4" stroke="#e0303c" stroke-width="1" fill-opacity="0.6"/>
<rect x="147.20" y="44.60" width="46.20" height="45.40" fill="none" stroke="#222" stroke-width="0.85" />
<text x="135.8" y="53.2" font-size="4.7">10<tspan dy="-2.2" font-size="3.7">5</tspan></text>
<text x="135.8" y="69.4" font-size="4.7">10<tspan dy="-2.2" font-size="3.7">4</tspan></text>
<text x="135.8" y="85.2" font-size="4.7">10<tspan dy="-2.2" font-size="3.7">3</tspan></text>
<text x="141.70" y="89.90" font-size="5.2" >0</text>
<line x1="145.80" y1="49.20" x2="147.20" y2="49.20" stroke="#000" stroke-width="0.6" />
<line x1="145.80" y1="66.00" x2="147.20" y2="66.00" stroke="#000" stroke-width="0.6" />
<line x1="145.80" y1="81.50" x2="147.20" y2="81.50" stroke="#000" stroke-width="0.6" />
<text x="151.9" y="98.9" font-size="6.2" text-anchor="middle" transform="rotate(-45 151.9 98.9)">0</text>
<text x="169.3" y="101.3" font-size="6.2" text-anchor="middle" transform="rotate(-45 169.3 101.3)">10<tspan dy="-2.6" font-size="4.3">3</tspan></text>
<text x="184.1" y="101.3" font-size="6.2" text-anchor="middle" transform="rotate(-45 184.1 101.3)">10<tspan dy="-2.6" font-size="4.3">4</tspan></text>
<line x1="162.00" y1="106.60" x2="177.20" y2="106.60" stroke="#000" stroke-width="1.1" />
<path d="M182.50,106.60 L176.70,104.80 L176.70,108.40 Z" fill="#000" />
<text x="172.30" y="116.10" font-size="9.2" text-anchor="middle" font-weight="bold" textLength="15.0" lengthAdjust="spacingAndGlyphs" >CD69</text>
<text x="122.80" y="67.20" font-size="9.4" text-anchor="middle" font-weight="bold" textLength="18.4" lengthAdjust="spacingAndGlyphs" transform="rotate(-90 122.80 67.20)" >CXCR4</text>
<line x1="128.50" y1="78.60" x2="128.50" y2="65.20" stroke="#000" stroke-width="1.0" />
<path d="M128.50,59.00 L126.55,65.70 L130.45,65.70 Z" fill="#000" />
<line x1="46.00" y1="124.20" x2="226.20" y2="124.20" stroke="#000" stroke-width="1.3" />
<line x1="172.30" y1="118.20" x2="172.30" y2="124.00" stroke="#000" stroke-width="1.1" />
<path d="M65.50,168.50 L65.50,168.30 L66.12,167.55 L66.75,166.72 L67.38,165.87 L68.00,165.31 L68.62,163.83 L69.25,162.28 L69.88,161.49 L70.50,160.40 L71.17,157.10 L71.83,155.03 L72.50,152.18 L73.20,150.27 L73.90,147.66 L75.00,143.51 L76.00,138.79 L76.80,137.05 L77.60,137.76 L78.50,143.10 L79.50,148.78 L80.60,152.21 L81.30,154.75 L82.00,158.51 L82.75,161.14 L83.50,163.80 L84.10,164.48 L84.70,166.01 L85.30,166.84 L85.90,168.30 L85.90,168.50 Z" fill="#a9d9a1" />
<path d="M68.20,168.50 L68.20,168.30 L68.83,168.11 L69.47,167.96 L70.10,167.58 L70.73,167.42 L71.37,167.30 L72.00,166.84 L72.60,166.42 L73.20,165.65 L73.80,165.35 L74.40,165.17 L75.00,164.67 L75.72,161.50 L76.45,160.79 L77.18,158.71 L77.90,156.94 L78.80,153.08 L79.70,150.08 L80.80,143.47 L81.80,137.50 L82.60,134.51 L83.60,136.39 L84.50,134.63 L85.50,139.78 L86.15,144.66 L86.80,147.47 L87.40,151.33 L88.00,155.00 L88.70,158.89 L89.40,162.95 L90.50,165.48 L91.60,168.30 L91.60,168.50 Z" fill="#f09090" />
<path d="M68.20,168.50 L68.20,168.50 L68.20,168.50 L68.45,168.23 L68.70,168.15 L68.95,168.08 L69.20,168.02 L69.45,167.96 L69.70,167.82 L69.95,167.67 L70.20,167.55 L70.45,167.49 L70.70,167.43 L70.95,167.38 L71.20,167.33 L71.45,167.24 L71.70,167.06 L71.95,166.87 L72.20,166.70 L72.45,166.52 L72.70,166.29 L72.95,165.97 L73.20,165.65 L73.45,165.53 L73.70,165.40 L73.95,165.31 L74.20,165.23 L74.45,165.13 L74.70,164.92 L74.95,164.71 L75.20,163.80 L75.45,162.70 L75.70,161.61 L75.95,161.28 L76.20,161.04 L76.45,160.79 L76.70,160.07 L76.95,159.35 L77.20,158.65 L77.45,158.04 L77.70,157.43 L77.95,156.72 L78.20,155.65 L78.45,154.58 L78.70,153.50 L78.95,152.58 L79.20,151.74 L79.45,150.91 L79.70,150.08 L79.95,150.19 L80.20,150.96 L80.45,151.74 L80.70,152.57 L80.95,153.48 L81.20,154.38 L81.45,155.55 L81.70,156.89 L81.95,158.24 L82.20,159.21 L82.45,160.09 L82.70,160.96 L82.95,161.85 L83.20,162.73 L83.45,163.62 L83.70,164.03 L83.95,164.31 L84.20,164.73 L84.45,165.37 L84.70,166.01 L84.95,166.36 L85.20,166.70 L85.45,167.20 L85.70,167.81 L85.90,168.50 L85.90,168.50 Z" fill="#8c6b3c" />
<path d="M65.50,168.50 L65.50,168.30 L66.12,167.55 L66.75,166.72 L67.38,165.87 L68.00,165.31 L68.62,163.83 L69.25,162.28 L69.88,161.49 L70.50,160.40 L71.17,157.10 L71.83,155.03 L72.50,152.18 L73.20,150.27 L73.90,147.66 L75.00,143.51 L76.00,138.79 L76.80,137.05 L77.60,137.76 L78.50,143.10 L79.50,148.78 L80.60,152.21 L81.30,154.75 L82.00,158.51 L82.75,161.14 L83.50,163.80 L84.10,164.48 L84.70,166.01 L85.30,166.84 L85.90,168.30 L85.90,168.50" fill="none" stroke="#3db54a" stroke-width="0.9" stroke-linejoin="round"/>
<path d="M68.20,168.50 L68.20,168.30 L68.83,168.11 L69.47,167.96 L70.10,167.58 L70.73,167.42 L71.37,167.30 L72.00,166.84 L72.60,166.42 L73.20,165.65 L73.80,165.35 L74.40,165.17 L75.00,164.67 L75.72,161.50 L76.45,160.79 L77.18,158.71 L77.90,156.94 L78.80,153.08 L79.70,150.08 L80.80,143.47 L81.80,137.50 L82.60,134.51 L83.60,136.39 L84.50,134.63 L85.50,139.78 L86.15,144.66 L86.80,147.47 L87.40,151.33 L88.00,155.00 L88.70,158.89 L89.40,162.95 L90.50,165.48 L91.60,168.30 L91.60,168.50" fill="none" stroke="#c8202f" stroke-width="0.9" stroke-linejoin="round"/>
<rect x="53.60" y="128.80" width="46.70" height="40.40" fill="none" stroke="#111" stroke-width="1.3" />
<path d="M124.00,168.30 L124.00,168.30 L124.60,167.57 L125.20,166.72 L125.80,165.92 L126.40,165.22 L127.00,164.01 L127.77,164.10 L128.53,162.63 L129.30,161.69 L130.03,161.38 L130.77,159.50 L131.50,158.39 L132.23,157.69 L132.97,156.65 L133.70,156.71 L134.50,154.16 L135.30,151.42 L136.40,148.35 L137.50,147.10 L138.60,145.45 L139.45,146.22 L140.30,144.58 L141.30,147.54 L142.50,152.54 L143.15,155.25 L143.80,158.01 L144.50,161.81 L145.20,163.85 L145.80,165.70 L146.40,166.90 L147.00,168.30 L147.00,168.30 Z" fill="#a9d9a1" />
<path d="M129.30,168.30 L129.30,168.30 L129.92,167.93 L130.53,167.50 L131.15,167.27 L131.77,166.55 L132.38,166.38 L133.00,166.08 L133.70,164.90 L134.40,164.90 L135.10,163.33 L135.80,162.76 L136.50,161.76 L137.20,162.37 L137.88,158.97 L138.55,158.34 L139.22,156.04 L139.90,154.32 L140.80,148.38 L141.70,144.00 L142.50,142.18 L143.25,139.18 L144.00,138.26 L145.00,136.16 L146.00,141.31 L147.00,151.75 L148.00,156.57 L149.20,162.98 L149.80,165.33 L150.40,166.68 L151.00,168.30 L151.00,168.30 Z" fill="#f09090" />
<path d="M129.30,168.30 L129.30,168.30 L129.30,168.30 L129.55,168.15 L129.80,168.00 L130.05,167.84 L130.30,167.66 L130.55,167.49 L130.80,167.40 L131.05,167.31 L131.30,167.09 L131.55,166.81 L131.80,166.54 L132.05,166.47 L132.30,166.40 L132.55,166.30 L132.80,166.18 L133.05,166.00 L133.30,165.58 L133.55,165.15 L133.80,164.90 L134.05,164.90 L134.30,164.90 L134.55,164.56 L134.80,164.00 L135.05,163.44 L135.30,163.16 L135.55,162.96 L135.80,162.76 L136.05,162.40 L136.30,162.05 L136.55,161.81 L136.80,162.02 L137.05,162.24 L137.30,161.86 L137.55,160.60 L137.80,159.34 L138.05,158.80 L138.30,158.57 L138.55,158.34 L138.80,157.49 L139.05,156.63 L139.30,155.85 L139.55,155.21 L139.80,154.57 L140.05,153.33 L140.30,151.68 L140.55,150.03 L140.80,148.38 L141.05,147.17 L141.30,147.54 L141.55,148.58 L141.80,149.62 L142.05,150.67 L142.30,151.71 L142.55,152.75 L142.80,153.79 L143.05,154.83 L143.30,155.89 L143.55,156.95 L143.80,158.01 L144.05,159.37 L144.30,160.73 L144.55,161.96 L144.80,162.68 L145.05,163.41 L145.30,164.15 L145.55,164.93 L145.80,165.70 L146.05,166.20 L146.30,166.70 L146.55,167.25 L146.80,167.83 L147.00,168.30 L147.00,168.30 Z" fill="#8c6b3c" />
<path d="M124.00,168.30 L124.00,168.30 L124.60,167.57 L125.20,166.72 L125.80,165.92 L126.40,165.22 L127.00,164.01 L127.77,164.10 L128.53,162.63 L129.30,161.69 L130.03,161.38 L130.77,159.50 L131.50,158.39 L132.23,157.69 L132.97,156.65 L133.70,156.71 L134.50,154.16 L135.30,151.42 L136.40,148.35 L137.50,147.10 L138.60,145.45 L139.45,146.22 L140.30,144.58 L141.30,147.54 L142.50,152.54 L143.15,155.25 L143.80,158.01 L144.50,161.81 L145.20,163.85 L145.80,165.70 L146.40,166.90 L147.00,168.30 L147.00,168.30" fill="none" stroke="#3db54a" stroke-width="0.9" stroke-linejoin="round"/>
<path d="M129.30,168.30 L129.30,168.30 L129.92,167.93 L130.53,167.50 L131.15,167.27 L131.77,166.55 L132.38,166.38 L133.00,166.08 L133.70,164.90 L134.40,164.90 L135.10,163.33 L135.80,162.76 L136.50,161.76 L137.20,162.37 L137.88,158.97 L138.55,158.34 L139.22,156.04 L139.90,154.32 L140.80,148.38 L141.70,144.00 L142.50,142.18 L143.25,139.18 L144.00,138.26 L145.00,136.16 L146.00,141.31 L147.00,151.75 L148.00,156.57 L149.20,162.98 L149.80,165.33 L150.40,166.68 L151.00,168.30 L151.00,168.30" fill="none" stroke="#c8202f" stroke-width="0.9" stroke-linejoin="round"/>
<rect x="115.60" y="128.80" width="46.80" height="40.20" fill="none" stroke="#111" stroke-width="1.3" />
<path d="M193.90,168.30 L193.90,168.30 L194.52,167.86 L195.14,167.25 L195.76,167.12 L196.38,166.37 L197.00,165.75 L197.62,165.87 L198.24,165.64 L198.86,164.59 L199.48,165.07 L200.10,164.60 L200.83,163.58 L201.57,162.81 L202.30,161.00 L203.03,160.94 L203.77,159.59 L204.50,158.38 L205.25,157.92 L206.00,157.35 L207.20,154.13 L208.30,152.01 L209.40,149.99 L210.20,153.38 L210.70,157.00 L211.35,159.78 L212.00,160.85 L213.00,166.37 L213.80,168.30 L213.80,168.30 Z" fill="#66c466" />
<path d="M201.00,168.30 L201.00,168.30 L201.60,168.05 L202.20,167.83 L202.80,167.60 L203.40,167.40 L204.00,166.79 L204.64,166.50 L205.28,166.25 L205.92,165.93 L206.56,165.79 L207.20,165.24 L207.85,163.02 L208.50,160.98 L209.40,158.01 L210.00,151.57 L210.30,144.89 L211.20,142.29 L212.10,140.46 L212.75,143.42 L213.40,144.33 L214.30,150.93 L215.20,157.39 L216.05,161.25 L216.90,165.13 L217.80,168.30 L217.80,168.30 Z" fill="#f09090" />
<path d="M201.00,168.30 L201.00,168.30 L201.00,168.30 L201.25,168.20 L201.50,168.09 L201.75,168.00 L202.00,167.91 L202.25,167.81 L202.50,167.72 L202.75,167.62 L203.00,167.53 L203.25,167.45 L203.50,167.30 L203.75,167.04 L204.00,166.79 L204.25,166.67 L204.50,166.56 L204.75,166.46 L205.00,166.36 L205.25,166.26 L205.50,166.14 L205.75,166.02 L206.00,165.92 L206.25,165.86 L206.50,165.81 L206.75,165.63 L207.00,165.41 L207.25,165.07 L207.50,164.22 L207.75,163.36 L208.00,162.55 L208.25,161.77 L208.50,160.98 L208.75,160.15 L209.00,159.33 L209.25,158.50 L209.50,156.93 L209.75,154.25 L210.00,152.53 L210.25,153.74 L210.50,155.55 L210.75,157.21 L211.00,158.28 L211.25,159.35 L211.50,160.02 L211.75,160.44 L212.00,160.85 L212.25,162.23 L212.50,163.61 L212.75,164.99 L213.00,166.37 L213.25,166.97 L213.50,167.58 L213.75,168.18 L213.80,168.30 L213.80,168.30 Z" fill="#6b6a2c" />
<path d="M193.90,168.30 L193.90,168.30 L194.52,167.86 L195.14,167.25 L195.76,167.12 L196.38,166.37 L197.00,165.75 L197.62,165.87 L198.24,165.64 L198.86,164.59 L199.48,165.07 L200.10,164.60 L200.83,163.58 L201.57,162.81 L202.30,161.00 L203.03,160.94 L203.77,159.59 L204.50,158.38 L205.25,157.92 L206.00,157.35 L207.20,154.13 L208.30,152.01 L209.40,149.99 L210.20,153.38 L210.70,157.00 L211.35,159.78 L212.00,160.85 L213.00,166.37 L213.80,168.30 L213.80,168.30" fill="none" stroke="#1e9a2e" stroke-width="0.9" stroke-linejoin="round"/>
<path d="M201.00,168.30 L201.00,168.30 L201.60,168.05 L202.20,167.83 L202.80,167.60 L203.40,167.40 L204.00,166.79 L204.64,166.50 L205.28,166.25 L205.92,165.93 L206.56,165.79 L207.20,165.24 L207.85,163.02 L208.50,160.98 L209.40,158.01 L210.00,151.57 L210.30,144.89 L211.20,142.29 L212.10,140.46 L212.75,143.42 L213.40,144.33 L214.30,150.93 L215.20,157.39 L216.05,161.25 L216.90,165.13 L217.80,168.30 L217.80,168.30" fill="none" stroke="#c8202f" stroke-width="0.9" stroke-linejoin="round"/>
<rect x="177.60" y="128.80" width="46.80" height="40.20" fill="none" stroke="#111" stroke-width="1.3" />
<text x="48.70" y="132.10" font-size="6.5" text-anchor="end" >40</text>
<text x="48.70" y="142.00" font-size="6.5" text-anchor="end" >30</text>
<text x="48.70" y="151.90" font-size="6.5" text-anchor="end" >20</text>
<text x="48.70" y="161.60" font-size="6.5" text-anchor="end" >10</text>
<text x="48.70" y="171.40" font-size="6.5" text-anchor="end" >0</text>
<text x="112.00" y="132.10" font-size="6.5" text-anchor="end" >40</text>
<text x="112.00" y="141.90" font-size="6.5" text-anchor="end" >30</text>
<text x="112.00" y="151.60" font-size="6.5" text-anchor="end" >20</text>
<text x="112.00" y="161.30" font-size="6.5" text-anchor="end" >10</text>
<text x="112.00" y="171.10" font-size="6.5" text-anchor="end" >0</text>
<text x="173.50" y="136.10" font-size="6.5" text-anchor="end" >60</text>
<text x="173.50" y="148.30" font-size="6.5" text-anchor="end" >40</text>
<text x="173.50" y="159.60" font-size="6.5" text-anchor="end" >20</text>
<text x="173.50" y="171.10" font-size="6.5" text-anchor="end" >0</text>
<line x1="50.30" y1="129.80" x2="53.00" y2="129.80" stroke="#000" stroke-width="0.7" />
<line x1="50.30" y1="139.80" x2="53.00" y2="139.80" stroke="#000" stroke-width="0.7" />
<line x1="50.30" y1="149.80" x2="53.00" y2="149.80" stroke="#000" stroke-width="0.7" />
<line x1="50.30" y1="159.40" x2="53.00" y2="159.40" stroke="#000" stroke-width="0.7" />
<line x1="50.30" y1="169.20" x2="53.00" y2="169.20" stroke="#000" stroke-width="0.7" />
<line x1="112.50" y1="131.60" x2="115.00" y2="131.60" stroke="#000" stroke-width="0.7" />
<line x1="112.50" y1="141.00" x2="115.00" y2="141.00" stroke="#000" stroke-width="0.7" />
<line x1="112.50" y1="150.50" x2="115.00" y2="150.50" stroke="#000" stroke-width="0.7" />
<line x1="112.50" y1="160.00" x2="115.00" y2="160.00" stroke="#000" stroke-width="0.7" />
<line x1="112.50" y1="168.80" x2="115.00" y2="168.80" stroke="#000" stroke-width="0.7" />
<line x1="174.20" y1="133.80" x2="177.00" y2="133.80" stroke="#000" stroke-width="0.7" />
<line x1="174.20" y1="146.00" x2="177.00" y2="146.00" stroke="#000" stroke-width="0.7" />
<line x1="174.20" y1="157.30" x2="177.00" y2="157.30" stroke="#000" stroke-width="0.7" />
<line x1="174.20" y1="168.80" x2="177.00" y2="168.80" stroke="#000" stroke-width="0.7" />
<line x1="54.80" y1="169.20" x2="54.80" y2="170.80" stroke="#000" stroke-width="0.5" />
<line x1="56.20" y1="169.20" x2="56.20" y2="170.80" stroke="#000" stroke-width="0.5" />
<line x1="57.60" y1="169.20" x2="57.60" y2="170.80" stroke="#000" stroke-width="0.5" />
<line x1="59.54" y1="169.20" x2="59.54" y2="170.70" stroke="#000" stroke-width="0.5" />
<line x1="61.10" y1="169.20" x2="61.10" y2="170.70" stroke="#000" stroke-width="0.5" />
<line x1="62.50" y1="169.20" x2="62.50" y2="171.40" stroke="#000" stroke-width="0.5" />
<line x1="71.68" y1="169.20" x2="71.68" y2="170.70" stroke="#000" stroke-width="0.5" />
<line x1="77.05" y1="169.20" x2="77.05" y2="170.70" stroke="#000" stroke-width="0.5" />
<line x1="80.86" y1="169.20" x2="80.86" y2="170.70" stroke="#000" stroke-width="0.5" />
<line x1="83.82" y1="169.20" x2="83.82" y2="170.70" stroke="#000" stroke-width="0.5" />
<line x1="86.23" y1="169.20" x2="86.23" y2="170.70" stroke="#000" stroke-width="0.5" />
<line x1="88.28" y1="169.20" x2="88.28" y2="170.70" stroke="#000" stroke-width="0.5" />
<line x1="90.04" y1="169.20" x2="90.04" y2="170.70" stroke="#000" stroke-width="0.5" />
<line x1="91.60" y1="169.20" x2="91.60" y2="170.70" stroke="#000" stroke-width="0.5" />
<line x1="93.00" y1="169.20" x2="93.00" y2="171.40" stroke="#000" stroke-width="0.5" />
<line x1="116.80" y1="169.00" x2="116.80" y2="170.60" stroke="#000" stroke-width="0.5" />
<line x1="118.20" y1="169.00" x2="118.20" y2="170.60" stroke="#000" stroke-width="0.5" />
<line x1="119.60" y1="169.00" x2="119.60" y2="170.60" stroke="#000" stroke-width="0.5" />
<line x1="120.97" y1="169.00" x2="120.97" y2="170.50" stroke="#000" stroke-width="0.5" />
<line x1="124.76" y1="169.00" x2="124.76" y2="170.50" stroke="#000" stroke-width="0.5" />
<line x1="127.44" y1="169.00" x2="127.44" y2="170.50" stroke="#000" stroke-width="0.5" />
<line x1="129.53" y1="169.00" x2="129.53" y2="170.50" stroke="#000" stroke-width="0.5" />
<line x1="131.23" y1="169.00" x2="131.23" y2="170.50" stroke="#000" stroke-width="0.5" />
<line x1="132.67" y1="169.00" x2="132.67" y2="170.50" stroke="#000" stroke-width="0.5" />
<line x1="133.92" y1="169.00" x2="133.92" y2="170.50" stroke="#000" stroke-width="0.5" />
<line x1="135.02" y1="169.00" x2="135.02" y2="170.50" stroke="#000" stroke-width="0.5" />
<line x1="136.00" y1="169.00" x2="136.00" y2="171.20" stroke="#000" stroke-width="0.5" />
<line x1="142.47" y1="169.00" x2="142.47" y2="170.50" stroke="#000" stroke-width="0.5" />
<line x1="146.26" y1="169.00" x2="146.26" y2="170.50" stroke="#000" stroke-width="0.5" />
<line x1="148.94" y1="169.00" x2="148.94" y2="170.50" stroke="#000" stroke-width="0.5" />
<line x1="151.03" y1="169.00" x2="151.03" y2="170.50" stroke="#000" stroke-width="0.5" />
<line x1="152.73" y1="169.00" x2="152.73" y2="170.50" stroke="#000" stroke-width="0.5" />
<line x1="154.17" y1="169.00" x2="154.17" y2="170.50" stroke="#000" stroke-width="0.5" />
<line x1="155.42" y1="169.00" x2="155.42" y2="170.50" stroke="#000" stroke-width="0.5" />
<line x1="156.52" y1="169.00" x2="156.52" y2="170.50" stroke="#000" stroke-width="0.5" />
<line x1="157.50" y1="169.00" x2="157.50" y2="171.20" stroke="#000" stroke-width="0.5" />
<line x1="178.80" y1="169.00" x2="178.80" y2="170.60" stroke="#000" stroke-width="0.5" />
<line x1="180.20" y1="169.00" x2="180.20" y2="170.60" stroke="#000" stroke-width="0.5" />
<line x1="181.60" y1="169.00" x2="181.60" y2="170.60" stroke="#000" stroke-width="0.5" />
<line x1="185.00" y1="169.00" x2="185.00" y2="171.20" stroke="#000" stroke-width="0.5" />
<line x1="190.12" y1="169.00" x2="190.12" y2="170.50" stroke="#000" stroke-width="0.5" />
<line x1="193.11" y1="169.00" x2="193.11" y2="170.50" stroke="#000" stroke-width="0.5" />
<line x1="195.24" y1="169.00" x2="195.24" y2="170.50" stroke="#000" stroke-width="0.5" />
<line x1="196.88" y1="169.00" x2="196.88" y2="170.50" stroke="#000" stroke-width="0.5" />
<line x1="198.23" y1="169.00" x2="198.23" y2="170.50" stroke="#000" stroke-width="0.5" />
<line x1="199.37" y1="169.00" x2="199.37" y2="170.50" stroke="#000" stroke-width="0.5" />
<line x1="200.35" y1="169.00" x2="200.35" y2="170.50" stroke="#000" stroke-width="0.5" />
<line x1="201.22" y1="169.00" x2="201.22" y2="170.50" stroke="#000" stroke-width="0.5" />
<line x1="202.00" y1="169.00" x2="202.00" y2="171.20" stroke="#000" stroke-width="0.5" />
<line x1="207.12" y1="169.00" x2="207.12" y2="170.50" stroke="#000" stroke-width="0.5" />
<line x1="210.11" y1="169.00" x2="210.11" y2="170.50" stroke="#000" stroke-width="0.5" />
<line x1="212.24" y1="169.00" x2="212.24" y2="170.50" stroke="#000" stroke-width="0.5" />
<line x1="213.88" y1="169.00" x2="213.88" y2="170.50" stroke="#000" stroke-width="0.5" />
<line x1="215.23" y1="169.00" x2="215.23" y2="170.50" stroke="#000" stroke-width="0.5" />
<line x1="216.37" y1="169.00" x2="216.37" y2="170.50" stroke="#000" stroke-width="0.5" />
<line x1="217.35" y1="169.00" x2="217.35" y2="170.50" stroke="#000" stroke-width="0.5" />
<line x1="218.22" y1="169.00" x2="218.22" y2="170.50" stroke="#000" stroke-width="0.5" />
<line x1="219.00" y1="169.00" x2="219.00" y2="171.20" stroke="#000" stroke-width="0.5" />
<line x1="52.00" y1="169.20" x2="53.60" y2="169.20" stroke="#000" stroke-width="0.55" />
<line x1="52.00" y1="167.23" x2="53.60" y2="167.23" stroke="#000" stroke-width="0.55" />
<line x1="52.00" y1="165.26" x2="53.60" y2="165.26" stroke="#000" stroke-width="0.55" />
<line x1="52.00" y1="163.29" x2="53.60" y2="163.29" stroke="#000" stroke-width="0.55" />
<line x1="52.00" y1="161.32" x2="53.60" y2="161.32" stroke="#000" stroke-width="0.55" />
<line x1="52.00" y1="159.35" x2="53.60" y2="159.35" stroke="#000" stroke-width="0.55" />
<line x1="52.00" y1="157.38" x2="53.60" y2="157.38" stroke="#000" stroke-width="0.55" />
<line x1="52.00" y1="155.41" x2="53.60" y2="155.41" stroke="#000" stroke-width="0.55" />
<line x1="52.00" y1="153.44" x2="53.60" y2="153.44" stroke="#000" stroke-width="0.55" />
<line x1="52.00" y1="151.47" x2="53.60" y2="151.47" stroke="#000" stroke-width="0.55" />
<line x1="52.00" y1="149.50" x2="53.60" y2="149.50" stroke="#000" stroke-width="0.55" />
<line x1="52.00" y1="147.53" x2="53.60" y2="147.53" stroke="#000" stroke-width="0.55" />
<line x1="52.00" y1="145.56" x2="53.60" y2="145.56" stroke="#000" stroke-width="0.55" />
<line x1="52.00" y1="143.59" x2="53.60" y2="143.59" stroke="#000" stroke-width="0.55" />
<line x1="52.00" y1="141.62" x2="53.60" y2="141.62" stroke="#000" stroke-width="0.55" />
<line x1="52.00" y1="139.65" x2="53.60" y2="139.65" stroke="#000" stroke-width="0.55" />
<line x1="52.00" y1="137.68" x2="53.60" y2="137.68" stroke="#000" stroke-width="0.55" />
<line x1="52.00" y1="135.71" x2="53.60" y2="135.71" stroke="#000" stroke-width="0.55" />
<line x1="52.00" y1="133.74" x2="53.60" y2="133.74" stroke="#000" stroke-width="0.55" />
<line x1="52.00" y1="131.77" x2="53.60" y2="131.77" stroke="#000" stroke-width="0.55" />
<line x1="52.00" y1="129.80" x2="53.60" y2="129.80" stroke="#000" stroke-width="0.55" />
<line x1="114.00" y1="168.80" x2="115.60" y2="168.80" stroke="#000" stroke-width="0.55" />
<line x1="114.00" y1="166.94" x2="115.60" y2="166.94" stroke="#000" stroke-width="0.55" />
<line x1="114.00" y1="165.08" x2="115.60" y2="165.08" stroke="#000" stroke-width="0.55" />
<line x1="114.00" y1="163.22" x2="115.60" y2="163.22" stroke="#000" stroke-width="0.55" />
<line x1="114.00" y1="161.36" x2="115.60" y2="161.36" stroke="#000" stroke-width="0.55" />
<line x1="114.00" y1="159.50" x2="115.60" y2="159.50" stroke="#000" stroke-width="0.55" />
<line x1="114.00" y1="157.64" x2="115.60" y2="157.64" stroke="#000" stroke-width="0.55" />
<line x1="114.00" y1="155.78" x2="115.60" y2="155.78" stroke="#000" stroke-width="0.55" />
<line x1="114.00" y1="153.92" x2="115.60" y2="153.92" stroke="#000" stroke-width="0.55" />
<line x1="114.00" y1="152.06" x2="115.60" y2="152.06" stroke="#000" stroke-width="0.55" />
<line x1="114.00" y1="150.20" x2="115.60" y2="150.20" stroke="#000" stroke-width="0.55" />
<line x1="114.00" y1="148.34" x2="115.60" y2="148.34" stroke="#000" stroke-width="0.55" />
<line x1="114.00" y1="146.48" x2="115.60" y2="146.48" stroke="#000" stroke-width="0.55" />
<line x1="114.00" y1="144.62" x2="115.60" y2="144.62" stroke="#000" stroke-width="0.55" />
<line x1="114.00" y1="142.76" x2="115.60" y2="142.76" stroke="#000" stroke-width="0.55" />
<line x1="114.00" y1="140.90" x2="115.60" y2="140.90" stroke="#000" stroke-width="0.55" />
<line x1="114.00" y1="139.04" x2="115.60" y2="139.04" stroke="#000" stroke-width="0.55" />
<line x1="114.00" y1="137.18" x2="115.60" y2="137.18" stroke="#000" stroke-width="0.55" />
<line x1="114.00" y1="135.32" x2="115.60" y2="135.32" stroke="#000" stroke-width="0.55" />
<line x1="114.00" y1="133.46" x2="115.60" y2="133.46" stroke="#000" stroke-width="0.55" />
<line x1="114.00" y1="131.60" x2="115.60" y2="131.60" stroke="#000" stroke-width="0.55" />
<line x1="176.00" y1="168.80" x2="177.60" y2="168.80" stroke="#000" stroke-width="0.55" />
<line x1="176.00" y1="165.88" x2="177.60" y2="165.88" stroke="#000" stroke-width="0.55" />
<line x1="176.00" y1="162.97" x2="177.60" y2="162.97" stroke="#000" stroke-width="0.55" />
<line x1="176.00" y1="160.05" x2="177.60" y2="160.05" stroke="#000" stroke-width="0.55" />
<line x1="176.00" y1="157.13" x2="177.60" y2="157.13" stroke="#000" stroke-width="0.55" />
<line x1="176.00" y1="154.22" x2="177.60" y2="154.22" stroke="#000" stroke-width="0.55" />
<line x1="176.00" y1="151.30" x2="177.60" y2="151.30" stroke="#000" stroke-width="0.55" />
<line x1="176.00" y1="148.38" x2="177.60" y2="148.38" stroke="#000" stroke-width="0.55" />
<line x1="176.00" y1="145.47" x2="177.60" y2="145.47" stroke="#000" stroke-width="0.55" />
<line x1="176.00" y1="142.55" x2="177.60" y2="142.55" stroke="#000" stroke-width="0.55" />
<line x1="176.00" y1="139.63" x2="177.60" y2="139.63" stroke="#000" stroke-width="0.55" />
<line x1="176.00" y1="136.72" x2="177.60" y2="136.72" stroke="#000" stroke-width="0.55" />
<line x1="176.00" y1="133.80" x2="177.60" y2="133.80" stroke="#000" stroke-width="0.55" />
<line x1="53.60" y1="128.60" x2="53.60" y2="169.60" stroke="#000" stroke-width="1.8" />
<line x1="115.60" y1="128.60" x2="115.60" y2="169.60" stroke="#000" stroke-width="1.8" />
<line x1="177.60" y1="128.60" x2="177.60" y2="169.60" stroke="#000" stroke-width="1.8" />
<text x="55.40" y="178.30" font-size="6.2" >0</text>
<text x="60.8" y="178.3" font-size="6.2">10<tspan dy="-2.7" font-size="4.4">4</tspan></text>
<text x="90.2" y="178.3" font-size="6.2">10<tspan dy="-2.7" font-size="4.4">5</tspan></text>
<text x="116.60" y="178.30" font-size="6.2" >0</text>
<text x="133.2" y="178.3" font-size="6.2">10<tspan dy="-2.7" font-size="4.4">4</tspan></text>
<text x="153.6" y="178.3" font-size="6.2">10<tspan dy="-2.7" font-size="4.4">5</tspan></text>
<text x="179.00" y="178.30" font-size="6.2" >0</text>
<text x="183.4" y="178.3" font-size="6.2">10<tspan dy="-2.7" font-size="4.4">3</tspan></text>
<text x="198.8" y="178.3" font-size="6.2">10<tspan dy="-2.7" font-size="4.4">4</tspan></text>
<text x="215.6" y="178.3" font-size="6.2">10<tspan dy="-2.7" font-size="4.4">5</tspan></text>
<line x1="66.70" y1="183.80" x2="81.00" y2="183.80" stroke="#000" stroke-width="1.1" />
<path d="M86.30,183.80 L80.50,182.00 L80.50,185.60 Z" fill="#000" />
<line x1="130.40" y1="184.20" x2="145.90" y2="184.20" stroke="#000" stroke-width="1.1" />
<path d="M151.20,184.20 L145.40,182.40 L145.40,186.00 Z" fill="#000" />
<line x1="193.00" y1="184.20" x2="207.70" y2="184.20" stroke="#000" stroke-width="1.1" />
<path d="M213.00,184.20 L207.20,182.40 L207.20,186.00 Z" fill="#000" />
<text x="76.70" y="195.00" font-size="9.4" text-anchor="middle" font-weight="bold" textLength="15.0" lengthAdjust="spacingAndGlyphs" >Mcl-1</text>
<text x="141.30" y="195.40" font-size="9.4" text-anchor="middle" font-weight="bold" textLength="19.3" lengthAdjust="spacingAndGlyphs" >Bcl-xL</text>
<text x="203.30" y="195.40" font-size="9.4" text-anchor="middle" font-weight="bold" textLength="15.2" lengthAdjust="spacingAndGlyphs" >Bcl-2</text>
<text x="36.60" y="149.20" font-size="9.6" text-anchor="middle" font-weight="bold" textLength="15.8" lengthAdjust="spacingAndGlyphs" transform="rotate(-90 36.60 149.20)" >Count</text>
<text x="277.40" y="14.80" font-size="10.8" font-weight="bold" >B</text>
<text x="355.60" y="26.60" font-size="8.4" textLength="117.3" lengthAdjust="spacingAndGlyphs" >CLL patient samples (N = 20)</text>
<circle cx="329.40" cy="39.70" r="2.90" fill="#3cb54a" stroke="#000" stroke-width="0.8"/>
<text x="336" y="42.2" font-size="7.4" textLength="65.5" lengthAdjust="spacingAndGlyphs">CD69<tspan dy="-3.33" font-size="4.74">Neg</tspan><tspan dy="3.33">/CXCR4<tspan dy="-3.33" font-size="4.74">High</tspan><tspan dy="3.33"></tspan></tspan></text>
<circle cx="420.50" cy="39.50" r="2.90" fill="#d3283c" stroke="#000" stroke-width="0.8"/>
<text x="428" y="42.2" font-size="7.4" textLength="59.5" lengthAdjust="spacingAndGlyphs">CD69<tspan dy="-3.33" font-size="4.74">Pos</tspan><tspan dy="3.33">/CXCR4<tspan dy="-3.33" font-size="4.74">Low</tspan><tspan dy="3.33"></tspan></tspan></text>
<line x1="319.70" y1="62.60" x2="319.70" y2="158.00" stroke="#000" stroke-width="1.15" />
<line x1="319.10" y1="157.50" x2="509.20" y2="157.50" stroke="#000" stroke-width="1.15" />
<line x1="316.60" y1="63.40" x2="319.70" y2="63.40" stroke="#000" stroke-width="1.0" />
<text x="313.50" y="66.00" font-size="7.3" text-anchor="end" >1.8</text>
<line x1="316.60" y1="84.40" x2="319.70" y2="84.40" stroke="#000" stroke-width="1.0" />
<text x="313.50" y="87.00" font-size="7.3" text-anchor="end" >1.6</text>
<line x1="316.60" y1="105.40" x2="319.70" y2="105.40" stroke="#000" stroke-width="1.0" />
<text x="313.50" y="108.00" font-size="7.3" text-anchor="end" >1.4</text>
<line x1="316.60" y1="126.40" x2="319.70" y2="126.40" stroke="#000" stroke-width="1.0" />
<text x="313.50" y="129.00" font-size="7.3" text-anchor="end" >1.2</text>
<line x1="316.60" y1="147.40" x2="319.70" y2="147.40" stroke="#000" stroke-width="1.0" />
<text x="313.50" y="150.00" font-size="7.3" text-anchor="end" >1.0</text>
<line x1="341.30" y1="157.40" x2="341.30" y2="161.00" stroke="#000" stroke-width="1.0" />
<line x1="372.90" y1="157.40" x2="372.90" y2="161.00" stroke="#000" stroke-width="1.0" />
<line x1="404.60" y1="157.40" x2="404.60" y2="161.00" stroke="#000" stroke-width="1.0" />
<line x1="436.20" y1="157.40" x2="436.20" y2="161.00" stroke="#000" stroke-width="1.0" />
<line x1="467.80" y1="157.40" x2="467.80" y2="161.00" stroke="#000" stroke-width="1.0" />
<line x1="499.40" y1="157.40" x2="499.40" y2="161.00" stroke="#000" stroke-width="1.0" />
<line x1="339.20" y1="166.40" x2="376.30" y2="166.40" stroke="#000" stroke-width="1.0" />
<line x1="402.60" y1="166.40" x2="439.60" y2="166.40" stroke="#000" stroke-width="1.0" />
<line x1="466.20" y1="166.40" x2="503.30" y2="166.40" stroke="#000" stroke-width="1.0" />
<text x="357.70" y="176.90" font-size="9.2" text-anchor="middle" font-weight="bold" textLength="15.2" lengthAdjust="spacingAndGlyphs" >Mcl-1</text>
<text x="421.20" y="176.90" font-size="9.2" text-anchor="middle" font-weight="bold" textLength="17.7" lengthAdjust="spacingAndGlyphs" >Bcl-xL</text>
<text x="484.80" y="176.90" font-size="9.2" text-anchor="middle" font-weight="bold" textLength="14.8" lengthAdjust="spacingAndGlyphs" >Bcl-2</text>
<text x="297.60" y="110.60" font-size="8.8" text-anchor="middle" textLength="98.2" lengthAdjust="spacingAndGlyphs" transform="rotate(-90 297.60 110.60)" style="stroke:#000;stroke-width:0.2" >Protein expression (fold difference)</text>
<line x1="328.10" y1="147.40" x2="354.50" y2="147.40" stroke="#000" stroke-width="0.9" />
<rect x="330.40" y="144.00" width="21.50" height="6.80" fill="#050805" rx="3.4"/>
<circle cx="332.40" cy="147.40" r="1.20" fill="#1f7a2c"/>
<circle cx="341.20" cy="147.40" r="1.20" fill="#1f7a2c"/>
<circle cx="350.20" cy="147.40" r="1.20" fill="#1f7a2c"/>
<circle cx="336.40" cy="147.40" r="2.45" fill="#3ccc50"/>
<circle cx="344.90" cy="147.40" r="2.45" fill="#3ccc50"/>
<line x1="391.40" y1="147.40" x2="417.80" y2="147.40" stroke="#000" stroke-width="0.9" />
<rect x="393.70" y="144.00" width="21.50" height="6.80" fill="#050805" rx="3.4"/>
<circle cx="395.70" cy="147.40" r="1.20" fill="#1f7a2c"/>
<circle cx="404.50" cy="147.40" r="1.20" fill="#1f7a2c"/>
<circle cx="413.50" cy="147.40" r="1.20" fill="#1f7a2c"/>
<circle cx="399.70" cy="147.40" r="2.45" fill="#3ccc50"/>
<circle cx="408.20" cy="147.40" r="2.45" fill="#3ccc50"/>
<line x1="454.60" y1="147.40" x2="481.00" y2="147.40" stroke="#000" stroke-width="0.9" />
<rect x="456.90" y="144.00" width="21.50" height="6.80" fill="#050805" rx="3.4"/>
<circle cx="458.90" cy="147.40" r="1.20" fill="#1f7a2c"/>
<circle cx="467.70" cy="147.40" r="1.20" fill="#1f7a2c"/>
<circle cx="476.70" cy="147.40" r="1.20" fill="#1f7a2c"/>
<circle cx="462.90" cy="147.40" r="2.45" fill="#3ccc50"/>
<circle cx="471.40" cy="147.40" r="2.45" fill="#3ccc50"/>
<line x1="359.10" y1="113.50" x2="386.70" y2="113.50" stroke="#000" stroke-width="1.0" />
<line x1="366.70" y1="99.30" x2="379.10" y2="99.30" stroke="#000" stroke-width="1.0" />
<line x1="366.70" y1="128.00" x2="379.10" y2="128.00" stroke="#000" stroke-width="1.0" />
<line x1="372.90" y1="99.30" x2="372.90" y2="128.00" stroke="#000" stroke-width="1.0" />
<circle cx="372.80" cy="88.20" r="2.85" fill="#d3283c" stroke="#000" stroke-width="1.0"/>
<circle cx="375.10" cy="93.80" r="2.85" fill="#d3283c" stroke="#000" stroke-width="1.0"/>
<circle cx="371.60" cy="95.40" r="2.85" fill="#d3283c" stroke="#000" stroke-width="1.0"/>
<circle cx="375.80" cy="98.70" r="2.85" fill="#d3283c" stroke="#000" stroke-width="1.0"/>
<circle cx="372.00" cy="98.70" r="2.85" fill="#d3283c" stroke="#000" stroke-width="1.0"/>
<circle cx="375.10" cy="103.40" r="2.85" fill="#d3283c" stroke="#000" stroke-width="1.0"/>
<circle cx="371.60" cy="104.20" r="2.85" fill="#d3283c" stroke="#000" stroke-width="1.0"/>
<circle cx="371.40" cy="110.20" r="2.85" fill="#d3283c" stroke="#000" stroke-width="1.0"/>
<circle cx="374.30" cy="111.60" r="2.85" fill="#d3283c" stroke="#000" stroke-width="1.0"/>
<circle cx="368.50" cy="117.40" r="2.85" fill="#d3283c" stroke="#000" stroke-width="1.0"/>
<circle cx="380.50" cy="118.00" r="2.85" fill="#d3283c" stroke="#000" stroke-width="1.0"/>
<circle cx="365.50" cy="121.20" r="2.85" fill="#d3283c" stroke="#000" stroke-width="1.0"/>
<circle cx="374.90" cy="118.60" r="2.85" fill="#d3283c" stroke="#000" stroke-width="1.0"/>
<circle cx="371.40" cy="119.80" r="2.85" fill="#d3283c" stroke="#000" stroke-width="1.0"/>
<circle cx="377.80" cy="121.00" r="2.85" fill="#d3283c" stroke="#000" stroke-width="1.0"/>
<circle cx="374.30" cy="123.50" r="2.85" fill="#d3283c" stroke="#000" stroke-width="1.0"/>
<circle cx="371.40" cy="124.40" r="2.85" fill="#d3283c" stroke="#000" stroke-width="1.0"/>
<circle cx="374.60" cy="130.30" r="2.85" fill="#d3283c" stroke="#000" stroke-width="1.0"/>
<circle cx="371.40" cy="133.60" r="2.85" fill="#d3283c" stroke="#000" stroke-width="1.0"/>
<circle cx="372.80" cy="141.00" r="2.85" fill="#d3283c" stroke="#000" stroke-width="1.0"/>
<line x1="423.10" y1="124.70" x2="449.50" y2="124.70" stroke="#000" stroke-width="1.0" />
<line x1="430.60" y1="109.00" x2="442.00" y2="109.00" stroke="#000" stroke-width="1.0" />
<line x1="430.60" y1="141.30" x2="442.00" y2="141.30" stroke="#000" stroke-width="1.0" />
<line x1="436.30" y1="109.00" x2="436.30" y2="141.30" stroke="#000" stroke-width="1.0" />
<circle cx="436.40" cy="85.60" r="2.85" fill="#d3283c" stroke="#000" stroke-width="1.0"/>
<circle cx="436.30" cy="106.00" r="2.85" fill="#d3283c" stroke="#000" stroke-width="1.0"/>
<circle cx="431.10" cy="114.00" r="2.85" fill="#d3283c" stroke="#000" stroke-width="1.0"/>
<circle cx="441.30" cy="114.40" r="2.85" fill="#d3283c" stroke="#000" stroke-width="1.0"/>
<circle cx="436.70" cy="115.30" r="2.85" fill="#d3283c" stroke="#000" stroke-width="1.0"/>
<circle cx="444.00" cy="118.70" r="2.85" fill="#d3283c" stroke="#000" stroke-width="1.0"/>
<circle cx="428.40" cy="120.70" r="2.85" fill="#d3283c" stroke="#000" stroke-width="1.0"/>
<circle cx="434.00" cy="120.70" r="2.85" fill="#d3283c" stroke="#000" stroke-width="1.0"/>
<circle cx="439.00" cy="120.70" r="2.85" fill="#d3283c" stroke="#000" stroke-width="1.0"/>
<circle cx="443.30" cy="122.90" r="2.85" fill="#d3283c" stroke="#000" stroke-width="1.0"/>
<circle cx="438.00" cy="123.30" r="2.85" fill="#d3283c" stroke="#000" stroke-width="1.0"/>
<circle cx="428.40" cy="124.70" r="2.85" fill="#d3283c" stroke="#000" stroke-width="1.0"/>
<circle cx="433.30" cy="127.00" r="2.85" fill="#d3283c" stroke="#000" stroke-width="1.0"/>
<circle cx="433.70" cy="132.70" r="2.85" fill="#d3283c" stroke="#000" stroke-width="1.0"/>
<circle cx="438.70" cy="133.00" r="2.85" fill="#d3283c" stroke="#000" stroke-width="1.0"/>
<circle cx="433.70" cy="136.70" r="2.85" fill="#d3283c" stroke="#000" stroke-width="1.0"/>
<circle cx="439.00" cy="139.30" r="2.85" fill="#d3283c" stroke="#000" stroke-width="1.0"/>
<circle cx="435.60" cy="148.30" r="2.85" fill="#d3283c" stroke="#000" stroke-width="1.0"/>
<circle cx="441.00" cy="150.00" r="2.85" fill="#d3283c" stroke="#000" stroke-width="1.0"/>
<circle cx="431.30" cy="153.60" r="2.85" fill="#d3283c" stroke="#000" stroke-width="1.0"/>
<line x1="486.25" y1="109.40" x2="512.95" y2="109.40" stroke="#000" stroke-width="1.0" />
<line x1="493.90" y1="88.00" x2="505.30" y2="88.00" stroke="#000" stroke-width="1.0" />
<line x1="493.90" y1="131.50" x2="505.30" y2="131.50" stroke="#000" stroke-width="1.0" />
<line x1="499.60" y1="88.00" x2="499.60" y2="131.50" stroke="#000" stroke-width="1.0" />
<circle cx="499.50" cy="63.30" r="2.85" fill="#d3283c" stroke="#000" stroke-width="1.0"/>
<circle cx="499.50" cy="68.50" r="2.85" fill="#d3283c" stroke="#000" stroke-width="1.0"/>
<circle cx="499.40" cy="78.00" r="2.85" fill="#d3283c" stroke="#000" stroke-width="1.0"/>
<circle cx="499.40" cy="87.20" r="2.85" fill="#d3283c" stroke="#000" stroke-width="1.0"/>
<circle cx="499.50" cy="97.40" r="2.85" fill="#d3283c" stroke="#000" stroke-width="1.0"/>
<circle cx="502.20" cy="104.20" r="2.85" fill="#d3283c" stroke="#000" stroke-width="1.0"/>
<circle cx="497.00" cy="106.10" r="2.85" fill="#d3283c" stroke="#000" stroke-width="1.0"/>
<circle cx="501.40" cy="109.30" r="2.85" fill="#d3283c" stroke="#000" stroke-width="1.0"/>
<circle cx="506.20" cy="111.00" r="2.85" fill="#d3283c" stroke="#000" stroke-width="1.0"/>
<circle cx="492.70" cy="112.10" r="2.85" fill="#d3283c" stroke="#000" stroke-width="1.0"/>
<circle cx="497.50" cy="111.30" r="2.85" fill="#d3283c" stroke="#000" stroke-width="1.0"/>
<circle cx="497.00" cy="118.20" r="2.85" fill="#d3283c" stroke="#000" stroke-width="1.0"/>
<circle cx="506.20" cy="120.40" r="2.85" fill="#d3283c" stroke="#000" stroke-width="1.0"/>
<circle cx="492.70" cy="122.90" r="2.85" fill="#d3283c" stroke="#000" stroke-width="1.0"/>
<circle cx="501.10" cy="124.00" r="2.85" fill="#d3283c" stroke="#000" stroke-width="1.0"/>
<circle cx="497.10" cy="129.30" r="2.85" fill="#d3283c" stroke="#000" stroke-width="1.0"/>
<circle cx="502.20" cy="130.90" r="2.85" fill="#d3283c" stroke="#000" stroke-width="1.0"/>
<circle cx="497.80" cy="135.50" r="2.85" fill="#d3283c" stroke="#000" stroke-width="1.0"/>
<circle cx="499.50" cy="145.50" r="2.85" fill="#d3283c" stroke="#000" stroke-width="1.0"/>
<path d="M341.30,73.30 L341.30,68.20 L373.10,68.20 L373.10,73.30" fill="none" stroke="#000" stroke-width="1.0" />
<text x="357.20" y="67.78" font-size="6.5" text-anchor="middle" font-weight="bold" textLength="12.7" lengthAdjust="spacingAndGlyphs" >****</text>
<path d="M404.60,77.90 L404.60,73.80 L436.50,73.80 L436.50,77.90" fill="none" stroke="#000" stroke-width="1.0" />
<text x="421.00" y="73.58" font-size="6.5" text-anchor="middle" font-weight="bold" textLength="12.7" lengthAdjust="spacingAndGlyphs" >****</text>
<path d="M468.10,57.30 L468.10,53.30 L500.00,53.30 L500.00,57.30" fill="none" stroke="#000" stroke-width="1.0" />
<text x="483.90" y="52.38" font-size="6.5" text-anchor="middle" font-weight="bold" textLength="12.7" lengthAdjust="spacingAndGlyphs" >****</text>
<text x="7.60" y="220.80" font-size="10.8" font-weight="bold" >C</text>
<defs><linearGradient id="cbar" x1="0" x2="1" y1="0" y2="0"><stop offset="0" stop-color="#3a6db4"/><stop offset="0.15" stop-color="#7fb0d7"/><stop offset="0.32" stop-color="#d8ecf0"/><stop offset="0.45" stop-color="#f6f6c8"/><stop offset="0.55" stop-color="#fde9a0"/><stop offset="0.7" stop-color="#fbb466"/><stop offset="0.85" stop-color="#ef6c45"/><stop offset="1" stop-color="#d7301f"/></linearGradient></defs>
<rect x="81.90" y="226.50" width="62.60" height="5.40" fill="url(#cbar)" />
<text x="87.60" y="225.00" font-size="8.2" font-weight="bold" textLength="11.3" lengthAdjust="spacingAndGlyphs" transform="rotate(-90 87.60 225.00)" >Low</text>
<text x="142.60" y="225.00" font-size="8.2" font-weight="bold" textLength="12.1" lengthAdjust="spacingAndGlyphs" transform="rotate(-90 142.60 225.00)" >High</text>
<text x="114.40" y="222.80" font-size="8.8" text-anchor="middle" textLength="29.4" lengthAdjust="spacingAndGlyphs" style="stroke:#000;stroke-width:0.25" >Expression</text>
<text x="90.70" y="243.60" font-size="7.4" textLength="9.4" lengthAdjust="spacingAndGlyphs" transform="rotate(-90 90.70 243.60)" style="stroke:#000;stroke-width:0.12" >0.2</text>
<text x="98.90" y="243.60" font-size="7.4" textLength="9.4" lengthAdjust="spacingAndGlyphs" transform="rotate(-90 98.90 243.60)" style="stroke:#000;stroke-width:0.12" >0.3</text>
<text x="107.40" y="243.60" font-size="7.4" textLength="9.4" lengthAdjust="spacingAndGlyphs" transform="rotate(-90 107.40 243.60)" style="stroke:#000;stroke-width:0.12" >0.4</text>
<text x="116.20" y="243.60" font-size="7.4" textLength="9.4" lengthAdjust="spacingAndGlyphs" transform="rotate(-90 116.20 243.60)" style="stroke:#000;stroke-width:0.12" >0.5</text>
<text x="124.70" y="243.60" font-size="7.4" textLength="9.4" lengthAdjust="spacingAndGlyphs" transform="rotate(-90 124.70 243.60)" style="stroke:#000;stroke-width:0.12" >0.6</text>
<text x="133.10" y="243.60" font-size="7.4" textLength="9.4" lengthAdjust="spacingAndGlyphs" transform="rotate(-90 133.10 243.60)" style="stroke:#000;stroke-width:0.12" >0.7</text>
<text x="142.00" y="243.60" font-size="7.4" textLength="9.4" lengthAdjust="spacingAndGlyphs" transform="rotate(-90 142.00 243.60)" style="stroke:#000;stroke-width:0.12" >0.8</text>
<rect x="81.90" y="256.90" width="21.40" height="8.55" fill="#3f6db5" />
<rect x="103.00" y="256.90" width="21.30" height="8.55" fill="#4a7ab8" />
<rect x="124.00" y="256.90" width="21.30" height="8.55" fill="#3f6db5" />
<rect x="81.90" y="265.15" width="21.40" height="8.55" fill="#fbf6c6" />
<rect x="103.00" y="265.15" width="21.30" height="8.55" fill="#5b8fc2" />
<rect x="124.00" y="265.15" width="21.30" height="8.55" fill="#c3e3ef" />
<rect x="81.90" y="273.40" width="21.40" height="8.55" fill="#f9a95f" />
<rect x="103.00" y="273.40" width="21.30" height="8.55" fill="#4f81bd" />
<rect x="124.00" y="273.40" width="21.30" height="8.55" fill="#fbbf6f" />
<rect x="81.90" y="281.65" width="21.40" height="8.55" fill="#5d93c4" />
<rect x="103.00" y="281.65" width="21.30" height="8.55" fill="#fde9a2" />
<rect x="124.00" y="281.65" width="21.30" height="8.55" fill="#7bb3d8" />
<rect x="81.90" y="289.90" width="21.40" height="8.55" fill="#fdf7c6" />
<rect x="103.00" y="289.90" width="21.30" height="8.55" fill="#fbf4cc" />
<rect x="124.00" y="289.90" width="21.30" height="8.55" fill="#f2f6dc" />
<rect x="81.90" y="298.15" width="21.40" height="8.55" fill="#f9a65f" />
<rect x="103.00" y="298.15" width="21.30" height="8.55" fill="#eef5e1" />
<rect x="124.00" y="298.15" width="21.30" height="8.55" fill="#fbbd70" />
<rect x="81.90" y="306.40" width="21.40" height="8.55" fill="#8ec0de" />
<rect x="103.00" y="306.40" width="21.30" height="8.55" fill="#ea5a3b" />
<rect x="124.00" y="306.40" width="21.30" height="8.55" fill="#a6d3e6" />
<rect x="81.90" y="314.65" width="21.40" height="8.55" fill="#fdf2b3" />
<rect x="103.00" y="314.65" width="21.30" height="8.55" fill="#ef6d45" />
<rect x="124.00" y="314.65" width="21.30" height="8.55" fill="#fde7a0" />
<rect x="81.90" y="322.90" width="21.40" height="8.55" fill="#eb5c3d" />
<rect x="103.00" y="322.90" width="21.30" height="8.55" fill="#fde39a" />
<rect x="124.00" y="322.90" width="21.30" height="8.55" fill="#f48a4b" />
<rect x="81.90" y="331.15" width="21.40" height="8.55" fill="#ef6a43" />
<rect x="103.00" y="331.15" width="21.30" height="8.55" fill="#d93325" />
<rect x="124.00" y="331.15" width="21.30" height="8.55" fill="#e54f37" />
<circle cx="39.00" cy="261.00" r="1.90" fill="#2e3f9e"/>
<text x="44.30" y="263.60" font-size="7.1" textLength="32.3" lengthAdjust="spacingAndGlyphs" >Cluster 01</text>
<circle cx="39.00" cy="269.25" r="1.90" fill="#6f97d8"/>
<text x="44.30" y="271.85" font-size="7.1" textLength="32.3" lengthAdjust="spacingAndGlyphs" >Cluster 02</text>
<circle cx="39.00" cy="277.50" r="1.90" fill="#5bc8f0"/>
<text x="44.30" y="280.10" font-size="7.1" textLength="32.3" lengthAdjust="spacingAndGlyphs" >Cluster 03</text>
<circle cx="39.00" cy="285.75" r="1.90" fill="#a8dce6"/>
<text x="44.30" y="288.35" font-size="7.1" textLength="32.3" lengthAdjust="spacingAndGlyphs" >Cluster 04</text>
<circle cx="39.00" cy="294.00" r="1.90" fill="#f2e000"/>
<text x="44.30" y="296.60" font-size="7.1" textLength="32.3" lengthAdjust="spacingAndGlyphs" >Cluster 05</text>
<circle cx="39.00" cy="302.25" r="1.90" fill="#f39a2e"/>
<text x="44.30" y="304.85" font-size="7.1" textLength="32.3" lengthAdjust="spacingAndGlyphs" >Cluster 06</text>
<circle cx="39.00" cy="310.50" r="1.90" fill="#f3a3a8"/>
<text x="44.30" y="313.10" font-size="7.1" textLength="32.3" lengthAdjust="spacingAndGlyphs" >Cluster 07</text>
<circle cx="39.00" cy="318.75" r="1.90" fill="#ef8a8e"/>
<text x="44.30" y="321.35" font-size="7.1" textLength="32.3" lengthAdjust="spacingAndGlyphs" >Cluster 08</text>
<circle cx="39.00" cy="327.00" r="1.90" fill="#cc5c62"/>
<text x="44.30" y="329.60" font-size="7.1" textLength="32.3" lengthAdjust="spacingAndGlyphs" >Cluster 09</text>
<circle cx="39.00" cy="335.25" r="1.90" fill="#e85a5f"/>
<text x="44.30" y="337.85" font-size="7.1" textLength="32.3" lengthAdjust="spacingAndGlyphs" >Cluster 10</text>
<text x="96.90" y="346.60" font-size="7.4" text-anchor="end" textLength="17.8" lengthAdjust="spacingAndGlyphs" transform="rotate(-90 96.90 346.60)" >Mcl-1</text>
<text x="118.00" y="345.50" font-size="7.4" text-anchor="end" textLength="17.2" lengthAdjust="spacingAndGlyphs" transform="rotate(-90 118.00 345.50)" >Bcl-2</text>
<text x="139.30" y="345.50" font-size="7.4" text-anchor="end" textLength="20.6" lengthAdjust="spacingAndGlyphs" transform="rotate(-90 139.30 345.50)" >Bcl-xL</text>
<line x1="80.00" y1="371.00" x2="146.50" y2="371.00" stroke="#222" stroke-width="1.5" />
<text x="113.50" y="379.80" font-size="8.6" text-anchor="middle" textLength="64.4" lengthAdjust="spacingAndGlyphs" style="stroke:#000;stroke-width:0.3" >Anti-apoptotic proteins</text>
<line x1="201.70" y1="223.60" x2="201.70" y2="269.50" stroke="#000" stroke-width="1.2" />
<line x1="201.10" y1="268.90" x2="337.40" y2="268.90" stroke="#222" stroke-width="1.2" />
<line x1="199.30" y1="225.00" x2="201.70" y2="225.00" stroke="#000" stroke-width="1.0" />
<text x="196.30" y="227.50" font-size="7.0" text-anchor="end" >60</text>
<line x1="199.30" y1="238.80" x2="201.70" y2="238.80" stroke="#000" stroke-width="1.0" />
<text x="196.30" y="241.30" font-size="7.0" text-anchor="end" >40</text>
<line x1="199.30" y1="252.60" x2="201.70" y2="252.60" stroke="#000" stroke-width="1.0" />
<text x="196.30" y="255.10" font-size="7.0" text-anchor="end" >20</text>
<line x1="199.30" y1="266.40" x2="201.70" y2="266.40" stroke="#000" stroke-width="1.0" />
<text x="196.30" y="268.90" font-size="7.0" text-anchor="end" >0</text>
<line x1="214.30" y1="268.90" x2="214.30" y2="271.40" stroke="#000" stroke-width="1.0" />
<text x="214.30" y="281.20" font-size="7.3" text-anchor="middle" >1</text>
<line x1="226.62" y1="268.90" x2="226.62" y2="271.40" stroke="#000" stroke-width="1.0" />
<text x="226.62" y="281.20" font-size="7.3" text-anchor="middle" >2</text>
<line x1="238.94" y1="268.90" x2="238.94" y2="271.40" stroke="#000" stroke-width="1.0" />
<text x="238.94" y="281.20" font-size="7.3" text-anchor="middle" >3</text>
<line x1="251.26" y1="268.90" x2="251.26" y2="271.40" stroke="#000" stroke-width="1.0" />
<text x="251.26" y="281.20" font-size="7.3" text-anchor="middle" >4</text>
<line x1="263.58" y1="268.90" x2="263.58" y2="271.40" stroke="#000" stroke-width="1.0" />
<text x="263.58" y="281.20" font-size="7.3" text-anchor="middle" >5</text>
<line x1="275.90" y1="268.90" x2="275.90" y2="271.40" stroke="#000" stroke-width="1.0" />
<text x="275.90" y="281.20" font-size="7.3" text-anchor="middle" >6</text>
<line x1="288.22" y1="268.90" x2="288.22" y2="271.40" stroke="#000" stroke-width="1.0" />
<text x="288.22" y="281.20" font-size="7.3" text-anchor="middle" >7</text>
<line x1="300.54" y1="268.90" x2="300.54" y2="271.40" stroke="#000" stroke-width="1.0" />
<text x="300.54" y="281.20" font-size="7.3" text-anchor="middle" >8</text>
<line x1="312.86" y1="268.90" x2="312.86" y2="271.40" stroke="#000" stroke-width="1.0" />
<text x="312.86" y="281.20" font-size="7.3" text-anchor="middle" >9</text>
<line x1="325.18" y1="268.90" x2="325.18" y2="271.40" stroke="#000" stroke-width="1.0" />
<text x="325.18" y="281.20" font-size="7.3" text-anchor="middle" >10</text>
<circle cx="214.30" cy="232.59" r="7.91" fill="#3d58a8"/>
<circle cx="226.62" cy="262.26" r="2.77" fill="#6f96d7"/>
<circle cx="238.94" cy="258.12" r="3.91" fill="#5cc6f1"/>
<circle cx="251.26" cy="261.57" r="2.99" fill="#a8dce7"/>
<circle cx="263.58" cy="265.71" r="1.13" fill="#f2e400"/>
<circle cx="275.90" cy="264.33" r="1.96" fill="#f49a2d"/>
<circle cx="288.22" cy="260.19" r="3.39" fill="#f4a5a8"/>
<circle cx="300.54" cy="264.33" r="1.96" fill="#ef8d92"/>
<circle cx="312.86" cy="262.95" r="2.53" fill="#cc6167"/>
<circle cx="325.18" cy="262.26" r="2.77" fill="#ea6469"/>
<text x="237.0" y="224.8" font-size="7.3" textLength="65.0" lengthAdjust="spacingAndGlyphs">CD69<tspan dy="-3.29" font-size="4.67">Neg</tspan><tspan dy="3.29">/CXCR4<tspan dy="-3.29" font-size="4.67">High</tspan><tspan dy="3.29"></tspan></tspan></text>
<text x="269.70" y="293.70" font-size="9.4" text-anchor="middle" textLength="46.3" lengthAdjust="spacingAndGlyphs" style="stroke:#000;stroke-width:0.3" >CLL cell clusters</text>
<text x="181.60" y="246.50" font-size="9.0" text-anchor="middle" textLength="36.8" lengthAdjust="spacingAndGlyphs" transform="rotate(-90 181.60 246.50)" style="stroke:#000;stroke-width:0.3" >CLL cells (%)</text>
<line x1="201.70" y1="315.60" x2="201.70" y2="361.50" stroke="#000" stroke-width="1.2" />
<line x1="201.10" y1="360.90" x2="337.40" y2="360.90" stroke="#222" stroke-width="1.2" />
<line x1="199.30" y1="317.00" x2="201.70" y2="317.00" stroke="#000" stroke-width="1.0" />
<text x="196.30" y="319.50" font-size="7.0" text-anchor="end" >60</text>
<line x1="199.30" y1="330.80" x2="201.70" y2="330.80" stroke="#000" stroke-width="1.0" />
<text x="196.30" y="333.30" font-size="7.0" text-anchor="end" >40</text>
<line x1="199.30" y1="344.60" x2="201.70" y2="344.60" stroke="#000" stroke-width="1.0" />
<text x="196.30" y="347.10" font-size="7.0" text-anchor="end" >20</text>
<line x1="199.30" y1="358.40" x2="201.70" y2="358.40" stroke="#000" stroke-width="1.0" />
<text x="196.30" y="360.90" font-size="7.0" text-anchor="end" >0</text>
<line x1="214.30" y1="360.90" x2="214.30" y2="363.40" stroke="#000" stroke-width="1.0" />
<text x="214.30" y="373.20" font-size="7.3" text-anchor="middle" >1</text>
<line x1="226.62" y1="360.90" x2="226.62" y2="363.40" stroke="#000" stroke-width="1.0" />
<text x="226.62" y="373.20" font-size="7.3" text-anchor="middle" >2</text>
<line x1="238.94" y1="360.90" x2="238.94" y2="363.40" stroke="#000" stroke-width="1.0" />
<text x="238.94" y="373.20" font-size="7.3" text-anchor="middle" >3</text>
<line x1="251.26" y1="360.90" x2="251.26" y2="363.40" stroke="#000" stroke-width="1.0" />
<text x="251.26" y="373.20" font-size="7.3" text-anchor="middle" >4</text>
<line x1="263.58" y1="360.90" x2="263.58" y2="363.40" stroke="#000" stroke-width="1.0" />
<text x="263.58" y="373.20" font-size="7.3" text-anchor="middle" >5</text>
<line x1="275.90" y1="360.90" x2="275.90" y2="363.40" stroke="#000" stroke-width="1.0" />
<text x="275.90" y="373.20" font-size="7.3" text-anchor="middle" >6</text>
<line x1="288.22" y1="360.90" x2="288.22" y2="363.40" stroke="#000" stroke-width="1.0" />
<text x="288.22" y="373.20" font-size="7.3" text-anchor="middle" >7</text>
<line x1="300.54" y1="360.90" x2="300.54" y2="363.40" stroke="#000" stroke-width="1.0" />
<text x="300.54" y="373.20" font-size="7.3" text-anchor="middle" >8</text>
<line x1="312.86" y1="360.90" x2="312.86" y2="363.40" stroke="#000" stroke-width="1.0" />
<text x="312.86" y="373.20" font-size="7.3" text-anchor="middle" >9</text>
<line x1="325.18" y1="360.90" x2="325.18" y2="363.40" stroke="#000" stroke-width="1.0" />
<text x="325.18" y="373.20" font-size="7.3" text-anchor="middle" >10</text>
<circle cx="214.30" cy="346.67" r="6.43" fill="#3d58a8"/>
<circle cx="226.62" cy="355.64" r="3.12" fill="#6f96d7"/>
<circle cx="238.94" cy="350.81" r="5.17" fill="#5cc6f1"/>
<circle cx="251.26" cy="354.95" r="3.49" fill="#a8dce7"/>
<circle cx="263.58" cy="357.71" r="1.56" fill="#f2e400"/>
<circle cx="275.90" cy="354.95" r="3.49" fill="#f49a2d"/>
<circle cx="288.22" cy="348.74" r="5.84" fill="#f4a5a8"/>
<circle cx="300.54" cy="354.95" r="3.49" fill="#ef8d92"/>
<circle cx="312.86" cy="350.81" r="5.17" fill="#cc6167"/>
<circle cx="325.18" cy="339.77" r="8.11" fill="#ea6469"/>
<text x="238.0" y="316.8" font-size="7.3" textLength="63.4" lengthAdjust="spacingAndGlyphs">CD69<tspan dy="-3.29" font-size="4.67">Pos</tspan><tspan dy="3.29">/CXCR4<tspan dy="-3.29" font-size="4.67">Low</tspan><tspan dy="3.29"></tspan></tspan></text>
<text x="269.70" y="385.70" font-size="9.4" text-anchor="middle" textLength="46.3" lengthAdjust="spacingAndGlyphs" style="stroke:#000;stroke-width:0.3" >CLL cell clusters</text>
<text x="181.60" y="338.50" font-size="9.0" text-anchor="middle" textLength="36.8" lengthAdjust="spacingAndGlyphs" transform="rotate(-90 181.60 338.50)" style="stroke:#000;stroke-width:0.3" >CLL cells (%)</text>
<rect x="362.20" y="230.90" width="126.80" height="33.90" fill="#d3d5d7" />
<line x1="362.20" y1="274.78" x2="489.00" y2="274.78" stroke="#111" stroke-width="0.9" />
<line x1="362.20" y1="284.76" x2="489.00" y2="284.76" stroke="#111" stroke-width="0.9" />
<line x1="362.20" y1="294.74" x2="489.00" y2="294.74" stroke="#111" stroke-width="0.9" />
<line x1="362.20" y1="304.72" x2="489.00" y2="304.72" stroke="#111" stroke-width="0.9" />
<line x1="362.20" y1="314.70" x2="489.00" y2="314.70" stroke="#111" stroke-width="0.9" />
<line x1="362.20" y1="324.68" x2="489.00" y2="324.68" stroke="#111" stroke-width="0.9" />
<line x1="362.20" y1="334.66" x2="489.00" y2="334.66" stroke="#111" stroke-width="0.9" />
<line x1="362.20" y1="344.64" x2="489.00" y2="344.64" stroke="#111" stroke-width="0.9" />
<line x1="362.20" y1="354.62" x2="489.00" y2="354.62" stroke="#111" stroke-width="0.9" />
<line x1="414.90" y1="248.00" x2="489.00" y2="248.00" stroke="#111" stroke-width="0.9" />
<line x1="403.75" y1="264.80" x2="403.75" y2="364.60" stroke="#333" stroke-width="0.8" />
<line x1="451.80" y1="248.00" x2="451.80" y2="364.60" stroke="#111" stroke-width="0.9" />
<line x1="414.90" y1="230.90" x2="414.90" y2="364.60" stroke="#111" stroke-width="1.3" />
<line x1="362.20" y1="264.80" x2="489.00" y2="264.80" stroke="#111" stroke-width="1.3" />
<rect x="362.20" y="230.90" width="126.80" height="133.70" fill="none" stroke="#111" stroke-width="1.3" />
<text x="389.10" y="245.40" font-size="7.2" text-anchor="middle" textLength="23.3" lengthAdjust="spacingAndGlyphs" >Cluster</text>
<text x="389.10" y="254.40" font-size="7.2" text-anchor="middle" textLength="35.5" lengthAdjust="spacingAndGlyphs" >information</text>
<text x="451.80" y="243.20" font-size="7.8" text-anchor="middle" textLength="40.4" lengthAdjust="spacingAndGlyphs" style="stroke:#000;stroke-width:0.08" >CLL cell (%)</text>
<text x="433.3" y="255.4" font-size="6.2" text-anchor="middle" textLength="27" lengthAdjust="spacingAndGlyphs">CD69<tspan dy="-2.79" font-size="3.97">Neg</tspan><tspan dy="2.79">/</tspan></text>
<text x="433.3" y="262.7" font-size="6.2" text-anchor="middle" textLength="29" lengthAdjust="spacingAndGlyphs">CXCR4<tspan dy="-2.79" font-size="3.97">High</tspan><tspan dy="2.79"></tspan></text>
<text x="470.4" y="255.4" font-size="6.2" text-anchor="middle" textLength="27" lengthAdjust="spacingAndGlyphs">CD69<tspan dy="-2.79" font-size="3.97">Pos</tspan><tspan dy="2.79">/</tspan></text>
<text x="470.4" y="262.7" font-size="6.2" text-anchor="middle" textLength="29" lengthAdjust="spacingAndGlyphs">CXCR4<tspan dy="-2.79" font-size="3.97">Low</tspan><tspan dy="2.79"></tspan></text>
<text x="364.50" y="272.49" font-size="7.2" textLength="32.0" lengthAdjust="spacingAndGlyphs" >Cluster 01</text>
<circle cx="409.30" cy="269.79" r="1.90" fill="#2e3f9e"/>
<text x="433.30" y="272.49" font-size="7.3" text-anchor="middle" >49.0</text>
<text x="470.40" y="272.49" font-size="7.3" text-anchor="middle" >17.0</text>
<text x="364.50" y="282.47" font-size="7.2" textLength="32.0" lengthAdjust="spacingAndGlyphs" >Cluster 02</text>
<circle cx="409.30" cy="279.77" r="1.90" fill="#6f97d8"/>
<text x="433.30" y="282.47" font-size="7.3" text-anchor="middle" >6.0</text>
<text x="470.40" y="282.47" font-size="7.3" text-anchor="middle" >4.0</text>
<text x="364.50" y="292.45" font-size="7.2" textLength="32.0" lengthAdjust="spacingAndGlyphs" >Cluster 03</text>
<circle cx="409.30" cy="289.75" r="1.90" fill="#5bc8f0"/>
<text x="433.30" y="292.45" font-size="7.3" text-anchor="middle" >12.0</text>
<text x="470.40" y="292.45" font-size="7.3" text-anchor="middle" >11.0</text>
<text x="364.50" y="302.43" font-size="7.2" textLength="32.0" lengthAdjust="spacingAndGlyphs" >Cluster 04</text>
<circle cx="409.30" cy="299.73" r="1.90" fill="#a8dce6"/>
<text x="433.30" y="302.43" font-size="7.3" text-anchor="middle" >7.0</text>
<text x="470.40" y="302.43" font-size="7.3" text-anchor="middle" >5.0</text>
<text x="364.50" y="312.41" font-size="7.2" textLength="32.0" lengthAdjust="spacingAndGlyphs" >Cluster 05</text>
<circle cx="409.30" cy="309.71" r="1.90" fill="#f2e000"/>
<text x="433.30" y="312.41" font-size="7.3" text-anchor="middle" >1.0</text>
<text x="470.40" y="312.41" font-size="7.3" text-anchor="middle" >1.0</text>
<text x="364.50" y="322.39" font-size="7.2" textLength="32.0" lengthAdjust="spacingAndGlyphs" >Cluster 06</text>
<circle cx="409.30" cy="319.69" r="1.90" fill="#f39a2e"/>
<text x="433.30" y="322.39" font-size="7.3" text-anchor="middle" >3.0</text>
<text x="470.40" y="322.39" font-size="7.3" text-anchor="middle" >5.0</text>
<text x="364.50" y="332.37" font-size="7.2" textLength="32.0" lengthAdjust="spacingAndGlyphs" >Cluster 07</text>
<circle cx="409.30" cy="329.67" r="1.90" fill="#f3a3a8"/>
<text x="433.30" y="332.37" font-size="7.3" text-anchor="middle" >9.0</text>
<text x="470.40" y="332.37" font-size="7.3" text-anchor="middle" >14.0</text>
<text x="364.50" y="342.35" font-size="7.2" textLength="32.0" lengthAdjust="spacingAndGlyphs" >Cluster 08</text>
<circle cx="409.30" cy="339.65" r="1.90" fill="#ef8a8e"/>
<text x="433.30" y="342.35" font-size="7.3" text-anchor="middle" >3.0</text>
<text x="470.40" y="342.35" font-size="7.3" text-anchor="middle" >5.0</text>
<text x="364.50" y="352.33" font-size="7.2" textLength="32.0" lengthAdjust="spacingAndGlyphs" >Cluster 09</text>
<circle cx="409.30" cy="349.63" r="1.90" fill="#cc5c62"/>
<text x="433.30" y="352.33" font-size="7.3" text-anchor="middle" >5.0</text>
<text x="470.40" y="352.33" font-size="7.3" text-anchor="middle" >11.0</text>
<text x="364.50" y="362.31" font-size="7.2" textLength="32.0" lengthAdjust="spacingAndGlyphs" >Cluster 10</text>
<circle cx="409.30" cy="359.61" r="1.90" fill="#e85a5f"/>
<text x="433.30" y="362.31" font-size="7.3" text-anchor="middle" >6.0</text>
<text x="470.40" y="362.31" font-size="7.3" text-anchor="middle" >27.0</text>
<text x="425.60" y="375.20" font-size="7.6" text-anchor="middle" textLength="98.3" lengthAdjust="spacingAndGlyphs" >CLL patient samples (N = 19)</text>
<text x="7.80" y="409.50" font-size="10.8" font-weight="bold" >D</text>
<rect x="75.00" y="402.20" width="7.60" height="7.60" fill="#c8203a" stroke="#222" stroke-width="0.9" />
<text x="86.30" y="408.80" font-size="7.0" textLength="60.7" lengthAdjust="spacingAndGlyphs" >Not cultured <tspan font-style="italic">ex vivo</tspan></text>
<rect x="178.00" y="402.40" width="7.40" height="7.40" fill="#185b8f" stroke="#222" stroke-width="0.9" />
<text x="188.80" y="408.80" font-size="7.0" textLength="73.7" lengthAdjust="spacingAndGlyphs" >Cultured <tspan font-style="italic">ex vivo</tspan> for 24h</text>
<rect x="78.00" y="497.10" width="15.60" height="52.50" fill="#c8203a" />
<rect x="97.70" y="464.11" width="15.60" height="85.49" fill="#c8203a" />
<rect x="122.30" y="527.34" width="15.60" height="22.26" fill="#185b8f" />
<rect x="142.10" y="504.08" width="15.60" height="45.52" fill="#185b8f" />
<line x1="119.50" y1="445.80" x2="119.50" y2="560.40" stroke="#222" stroke-width="1.0" stroke-dasharray="1,1"/>
<line x1="71.60" y1="452.20" x2="71.60" y2="550.10" stroke="#000" stroke-width="1.2" />
<line x1="71.10" y1="549.60" x2="160.00" y2="549.60" stroke="#000" stroke-width="1.2" />
<line x1="68.60" y1="539.40" x2="71.60" y2="539.40" stroke="#000" stroke-width="1.0" />
<text x="66.40" y="542.10" font-size="7.6" text-anchor="end" >0.8</text>
<line x1="68.60" y1="518.25" x2="71.60" y2="518.25" stroke="#000" stroke-width="1.0" />
<text x="66.40" y="520.95" font-size="7.6" text-anchor="end" >0.9</text>
<line x1="68.60" y1="497.10" x2="71.60" y2="497.10" stroke="#000" stroke-width="1.0" />
<text x="66.40" y="499.80" font-size="7.6" text-anchor="end" >1.0</text>
<line x1="68.60" y1="475.95" x2="71.60" y2="475.95" stroke="#000" stroke-width="1.0" />
<text x="66.40" y="478.65" font-size="7.6" text-anchor="end" >1.1</text>
<line x1="68.60" y1="454.80" x2="71.60" y2="454.80" stroke="#000" stroke-width="1.0" />
<text x="66.40" y="457.50" font-size="7.6" text-anchor="end" >1.2</text>
<line x1="85.80" y1="549.60" x2="85.80" y2="552.20" stroke="#000" stroke-width="1.0" />
<line x1="105.50" y1="549.60" x2="105.50" y2="552.20" stroke="#000" stroke-width="1.0" />
<line x1="130.10" y1="549.60" x2="130.10" y2="552.20" stroke="#000" stroke-width="1.0" />
<line x1="149.90" y1="549.60" x2="149.90" y2="552.20" stroke="#000" stroke-width="1.0" />
<circle cx="80.70" cy="497.40" r="2.45" fill="#d6213a" stroke="#000" stroke-width="1.05"/>
<circle cx="83.10" cy="497.40" r="2.45" fill="#f59d1e" stroke="#000" stroke-width="1.05"/>
<circle cx="87.20" cy="497.40" r="2.45" fill="#73308f" stroke="#000" stroke-width="1.05"/>
<circle cx="91.00" cy="497.40" r="2.45" fill="#30b44a" stroke="#000" stroke-width="1.05"/>
<circle cx="101.80" cy="454.10" r="2.45" fill="#9a92dc" stroke="#000" stroke-width="1.05"/>
<circle cx="105.70" cy="455.00" r="2.45" fill="#f59d1e" stroke="#000" stroke-width="1.05"/>
<circle cx="105.30" cy="467.00" r="2.45" fill="#d6213a" stroke="#000" stroke-width="1.05"/>
<circle cx="108.90" cy="470.60" r="2.45" fill="#73308f" stroke="#000" stroke-width="1.05"/>
<circle cx="102.30" cy="473.00" r="2.45" fill="#30b44a" stroke="#000" stroke-width="1.05"/>
<circle cx="127.70" cy="517.90" r="2.45" fill="#f59d1e" stroke="#000" stroke-width="1.05"/>
<circle cx="132.00" cy="518.60" r="2.45" fill="#30b44a" stroke="#000" stroke-width="1.05"/>
<circle cx="133.00" cy="524.30" r="2.45" fill="#9a92dc" stroke="#000" stroke-width="1.05"/>
<circle cx="130.00" cy="529.10" r="2.45" fill="#73308f" stroke="#000" stroke-width="1.05"/>
<circle cx="129.80" cy="542.10" r="2.45" fill="#d6213a" stroke="#000" stroke-width="1.05"/>
<circle cx="146.60" cy="496.80" r="2.45" fill="#9a92dc" stroke="#000" stroke-width="1.05"/>
<circle cx="153.30" cy="496.00" r="2.45" fill="#f59d1e" stroke="#000" stroke-width="1.05"/>
<circle cx="153.10" cy="503.50" r="2.45" fill="#30b44a" stroke="#000" stroke-width="1.05"/>
<circle cx="149.60" cy="507.50" r="2.45" fill="#73308f" stroke="#000" stroke-width="1.05"/>
<circle cx="149.90" cy="515.40" r="2.45" fill="#d6213a" stroke="#000" stroke-width="1.05"/>
<line x1="105.50" y1="455.50" x2="105.50" y2="472.00" stroke="#000" stroke-width="0.9" />
<line x1="101.90" y1="455.50" x2="109.10" y2="455.50" stroke="#000" stroke-width="0.9" />
<line x1="101.90" y1="472.00" x2="109.10" y2="472.00" stroke="#000" stroke-width="0.9" />
<line x1="130.20" y1="519.00" x2="130.20" y2="535.60" stroke="#000" stroke-width="0.9" />
<line x1="126.60" y1="519.00" x2="133.80" y2="519.00" stroke="#000" stroke-width="0.9" />
<line x1="126.60" y1="535.60" x2="133.80" y2="535.60" stroke="#000" stroke-width="0.9" />
<line x1="149.90" y1="497.00" x2="149.90" y2="512.00" stroke="#000" stroke-width="0.9" />
<line x1="146.30" y1="497.00" x2="153.50" y2="497.00" stroke="#000" stroke-width="0.9" />
<line x1="146.30" y1="512.00" x2="153.50" y2="512.00" stroke="#000" stroke-width="0.9" />
<path d="M84.30,433.60 L84.30,429.70 L127.20,429.70 L127.20,433.60" fill="none" stroke="#000" stroke-width="1.0" />
<text x="107.00" y="429.20" font-size="6.2" text-anchor="middle" font-weight="bold" textLength="4.800000000000001" lengthAdjust="spacingAndGlyphs" >**</text>
<path d="M84.30,444.00 L84.30,440.30 L104.60,440.30 L104.60,444.00" fill="none" stroke="#000" stroke-width="1.0" />
<text x="95.40" y="439.40" font-size="6.2" text-anchor="middle" font-weight="bold" textLength="4.800000000000001" lengthAdjust="spacingAndGlyphs" >**</text>
<path d="M106.50,444.00 L106.50,440.30 L148.00,440.30 L148.00,444.00" fill="none" stroke="#000" stroke-width="1.0" />
<text x="133.50" y="439.40" font-size="6.2" text-anchor="middle" font-weight="bold" textLength="9.200000000000001" lengthAdjust="spacingAndGlyphs" >****</text>
<text x="105.70" y="421.40" font-size="7.0" text-anchor="middle" >Mcl-1</text>
<text x="85.80" y="564.50" font-size="7.2" text-anchor="middle" >Neg</text>
<text x="105.50" y="564.50" font-size="7.2" text-anchor="middle" >Pos</text>
<text x="130.10" y="564.50" font-size="7.2" text-anchor="middle" >Neg</text>
<text x="149.90" y="564.50" font-size="7.2" text-anchor="middle" >Pos</text>
<line x1="79.50" y1="567.70" x2="108.60" y2="567.70" stroke="#000" stroke-width="1.0" />
<line x1="123.80" y1="567.70" x2="153.00" y2="567.70" stroke="#000" stroke-width="1.0" />
<text x="94.15" y="576.60" font-size="9.0" text-anchor="middle" textLength="15.4" lengthAdjust="spacingAndGlyphs" style="stroke:#000;stroke-width:0.25" >CD69</text>
<text x="138.50" y="576.60" font-size="9.0" text-anchor="middle" textLength="15.4" lengthAdjust="spacingAndGlyphs" style="stroke:#000;stroke-width:0.25" >CD69</text>
<line x1="92.35" y1="581.80" x2="142.20" y2="581.80" stroke="#000" stroke-width="1.0" />
<text x="117.32" y="592.70" font-size="9.4" text-anchor="middle" textLength="25.8" lengthAdjust="spacingAndGlyphs" style="stroke:#000;stroke-width:0.25" >CLL cells</text>
<text x="49.10" y="500.60" font-size="8.8" text-anchor="middle" textLength="98.8" lengthAdjust="spacingAndGlyphs" transform="rotate(-90 49.10 500.60)" style="stroke:#000;stroke-width:0.2" >Protein expression (fold difference)</text>
<rect x="230.30" y="472.80" width="15.40" height="76.80" fill="#c8203a" />
<rect x="249.80" y="458.21" width="15.40" height="91.39" fill="#c8203a" />
<rect x="274.80" y="516.00" width="15.40" height="33.60" fill="#185b8f" />
<rect x="294.00" y="507.94" width="15.40" height="41.66" fill="#185b8f" />
<line x1="270.50" y1="445.80" x2="270.50" y2="560.40" stroke="#222" stroke-width="1.0" stroke-dasharray="1,1"/>
<line x1="222.80" y1="452.20" x2="222.80" y2="550.10" stroke="#000" stroke-width="1.2" />
<line x1="222.30" y1="549.60" x2="313.00" y2="549.60" stroke="#000" stroke-width="1.2" />
<line x1="219.80" y1="549.60" x2="222.80" y2="549.60" stroke="#000" stroke-width="1.0" />
<text x="217.60" y="552.30" font-size="7.6" text-anchor="end" >0.6</text>
<line x1="219.80" y1="530.40" x2="222.80" y2="530.40" stroke="#000" stroke-width="1.0" />
<text x="217.60" y="533.10" font-size="7.6" text-anchor="end" >0.7</text>
<line x1="219.80" y1="511.20" x2="222.80" y2="511.20" stroke="#000" stroke-width="1.0" />
<text x="217.60" y="513.90" font-size="7.6" text-anchor="end" >0.8</text>
<line x1="219.80" y1="492.00" x2="222.80" y2="492.00" stroke="#000" stroke-width="1.0" />
<text x="217.60" y="494.70" font-size="7.6" text-anchor="end" >0.9</text>
<line x1="219.80" y1="472.80" x2="222.80" y2="472.80" stroke="#000" stroke-width="1.0" />
<text x="217.60" y="475.50" font-size="7.6" text-anchor="end" >1.0</text>
<line x1="219.80" y1="453.60" x2="222.80" y2="453.60" stroke="#000" stroke-width="1.0" />
<text x="217.60" y="456.30" font-size="7.6" text-anchor="end" >1.1</text>
<line x1="238.00" y1="549.60" x2="238.00" y2="552.20" stroke="#000" stroke-width="1.0" />
<line x1="257.50" y1="549.60" x2="257.50" y2="552.20" stroke="#000" stroke-width="1.0" />
<line x1="282.50" y1="549.60" x2="282.50" y2="552.20" stroke="#000" stroke-width="1.0" />
<line x1="301.70" y1="549.60" x2="301.70" y2="552.20" stroke="#000" stroke-width="1.0" />
<circle cx="233.30" cy="472.80" r="2.45" fill="#d6213a" stroke="#000" stroke-width="1.05"/>
<circle cx="236.00" cy="472.80" r="2.45" fill="#f59d1e" stroke="#000" stroke-width="1.05"/>
<circle cx="240.20" cy="472.80" r="2.45" fill="#73308f" stroke="#000" stroke-width="1.05"/>
<circle cx="243.30" cy="472.80" r="2.45" fill="#30b44a" stroke="#000" stroke-width="1.05"/>
<circle cx="254.20" cy="452.50" r="2.45" fill="#9a92dc" stroke="#000" stroke-width="1.05"/>
<circle cx="257.80" cy="451.80" r="2.45" fill="#f59d1e" stroke="#000" stroke-width="1.05"/>
<circle cx="257.50" cy="458.40" r="2.45" fill="#d6213a" stroke="#000" stroke-width="1.05"/>
<circle cx="256.80" cy="461.00" r="2.45" fill="#73308f" stroke="#000" stroke-width="1.05"/>
<circle cx="257.80" cy="466.60" r="2.45" fill="#30b44a" stroke="#000" stroke-width="1.05"/>
<circle cx="278.50" cy="498.80" r="2.45" fill="#d6213a" stroke="#000" stroke-width="1.05"/>
<circle cx="285.40" cy="498.80" r="2.45" fill="#f59d1e" stroke="#000" stroke-width="1.05"/>
<circle cx="282.00" cy="507.30" r="2.45" fill="#9a92dc" stroke="#000" stroke-width="1.05"/>
<circle cx="282.00" cy="520.70" r="2.45" fill="#73308f" stroke="#000" stroke-width="1.05"/>
<circle cx="282.00" cy="539.60" r="2.45" fill="#30b44a" stroke="#000" stroke-width="1.05"/>
<circle cx="300.80" cy="472.20" r="2.45" fill="#d6213a" stroke="#000" stroke-width="1.05"/>
<circle cx="300.80" cy="495.00" r="2.45" fill="#f59d1e" stroke="#000" stroke-width="1.05"/>
<circle cx="300.80" cy="510.80" r="2.45" fill="#9a92dc" stroke="#000" stroke-width="1.05"/>
<circle cx="305.70" cy="510.80" r="2.45" fill="#73308f" stroke="#000" stroke-width="1.05"/>
<circle cx="301.50" cy="544.70" r="2.45" fill="#30b44a" stroke="#000" stroke-width="1.05"/>
<line x1="257.50" y1="454.00" x2="257.50" y2="464.00" stroke="#000" stroke-width="0.9" />
<line x1="253.90" y1="454.00" x2="261.10" y2="454.00" stroke="#000" stroke-width="0.9" />
<line x1="253.90" y1="464.00" x2="261.10" y2="464.00" stroke="#000" stroke-width="0.9" />
<line x1="282.50" y1="496.00" x2="282.50" y2="530.80" stroke="#000" stroke-width="0.9" />
<line x1="278.90" y1="496.00" x2="286.10" y2="496.00" stroke="#000" stroke-width="0.9" />
<line x1="278.90" y1="530.80" x2="286.10" y2="530.80" stroke="#000" stroke-width="0.9" />
<line x1="301.70" y1="478.50" x2="301.70" y2="534.30" stroke="#000" stroke-width="0.9" />
<line x1="298.10" y1="478.50" x2="305.30" y2="478.50" stroke="#000" stroke-width="0.9" />
<line x1="298.10" y1="534.30" x2="305.30" y2="534.30" stroke="#000" stroke-width="0.9" />
<path d="M236.20,434.00 L236.20,429.30 L279.60,429.30 L279.60,434.00" fill="none" stroke="#000" stroke-width="1.0" />
<text x="257.70" y="428.80" font-size="6.2" text-anchor="middle" font-weight="bold" textLength="2.6" lengthAdjust="spacingAndGlyphs" >*</text>
<path d="M236.20,443.80 L236.20,438.80 L256.50,438.80 L256.50,443.80" fill="none" stroke="#000" stroke-width="1.0" />
<text x="246.80" y="439.20" font-size="6.2" text-anchor="middle" font-weight="bold" textLength="2.6" lengthAdjust="spacingAndGlyphs" >*</text>
<path d="M258.40,443.80 L258.40,438.80 L300.00,438.80 L300.00,443.80" fill="none" stroke="#000" stroke-width="1.0" />
<text x="285.00" y="439.20" font-size="6.2" text-anchor="middle" font-weight="bold" textLength="2.6" lengthAdjust="spacingAndGlyphs" >*</text>
<text x="258.00" y="421.40" font-size="7.0" text-anchor="middle" >Bcl-xL</text>
<text x="238.00" y="564.50" font-size="7.2" text-anchor="middle" >Neg</text>
<text x="257.50" y="564.50" font-size="7.2" text-anchor="middle" >Pos</text>
<text x="282.50" y="564.50" font-size="7.2" text-anchor="middle" >Neg</text>
<text x="301.70" y="564.50" font-size="7.2" text-anchor="middle" >Pos</text>
<line x1="231.70" y1="567.70" x2="260.60" y2="567.70" stroke="#000" stroke-width="1.0" />
<line x1="276.20" y1="567.70" x2="304.80" y2="567.70" stroke="#000" stroke-width="1.0" />
<text x="246.25" y="576.60" font-size="9.0" text-anchor="middle" textLength="15.4" lengthAdjust="spacingAndGlyphs" style="stroke:#000;stroke-width:0.25" >CD69</text>
<text x="290.60" y="576.60" font-size="9.0" text-anchor="middle" textLength="15.4" lengthAdjust="spacingAndGlyphs" style="stroke:#000;stroke-width:0.25" >CD69</text>
<line x1="244.45" y1="581.80" x2="294.30" y2="581.80" stroke="#000" stroke-width="1.0" />
<text x="269.43" y="592.70" font-size="9.4" text-anchor="middle" textLength="25.8" lengthAdjust="spacingAndGlyphs" style="stroke:#000;stroke-width:0.25" >CLL cells</text>
<text x="201.10" y="500.60" font-size="8.8" text-anchor="middle" textLength="98.8" lengthAdjust="spacingAndGlyphs" transform="rotate(-90 201.10 500.60)" style="stroke:#000;stroke-width:0.2" >Protein expression (fold difference)</text>
<rect x="378.60" y="517.70" width="15.40" height="31.90" fill="#c8203a" />
<rect x="398.50" y="467.62" width="15.40" height="81.98" fill="#c8203a" />
<rect x="423.40" y="511.94" width="15.40" height="37.66" fill="#185b8f" />
<rect x="442.80" y="482.02" width="15.40" height="67.58" fill="#185b8f" />
<line x1="419.50" y1="445.80" x2="419.50" y2="560.40" stroke="#222" stroke-width="1.0" stroke-dasharray="1,1"/>
<line x1="371.70" y1="452.20" x2="371.70" y2="550.10" stroke="#000" stroke-width="1.2" />
<line x1="371.20" y1="549.60" x2="461.20" y2="549.60" stroke="#000" stroke-width="1.2" />
<line x1="368.70" y1="549.70" x2="371.70" y2="549.70" stroke="#000" stroke-width="1.0" />
<text x="366.50" y="552.40" font-size="7.6" text-anchor="end" >0.8</text>
<line x1="368.70" y1="517.70" x2="371.70" y2="517.70" stroke="#000" stroke-width="1.0" />
<text x="366.50" y="520.40" font-size="7.6" text-anchor="end" >1.0</text>
<line x1="368.70" y1="485.70" x2="371.70" y2="485.70" stroke="#000" stroke-width="1.0" />
<text x="366.50" y="488.40" font-size="7.6" text-anchor="end" >1.2</text>
<line x1="368.70" y1="453.70" x2="371.70" y2="453.70" stroke="#000" stroke-width="1.0" />
<text x="366.50" y="456.40" font-size="7.6" text-anchor="end" >1.4</text>
<line x1="386.30" y1="549.60" x2="386.30" y2="552.20" stroke="#000" stroke-width="1.0" />
<line x1="406.20" y1="549.60" x2="406.20" y2="552.20" stroke="#000" stroke-width="1.0" />
<line x1="431.10" y1="549.60" x2="431.10" y2="552.20" stroke="#000" stroke-width="1.0" />
<line x1="450.50" y1="549.60" x2="450.50" y2="552.20" stroke="#000" stroke-width="1.0" />
<circle cx="381.20" cy="518.00" r="2.45" fill="#d6213a" stroke="#000" stroke-width="1.05"/>
<circle cx="384.60" cy="518.00" r="2.45" fill="#f59d1e" stroke="#000" stroke-width="1.05"/>
<circle cx="388.50" cy="518.00" r="2.45" fill="#9a92dc" stroke="#000" stroke-width="1.05"/>
<circle cx="389.70" cy="518.00" r="2.45" fill="#73308f" stroke="#000" stroke-width="1.05"/>
<circle cx="405.80" cy="456.20" r="2.45" fill="#9a92dc" stroke="#000" stroke-width="1.05"/>
<circle cx="402.60" cy="464.20" r="2.45" fill="#d6213a" stroke="#000" stroke-width="1.05"/>
<circle cx="409.50" cy="464.20" r="2.45" fill="#30b44a" stroke="#000" stroke-width="1.05"/>
<circle cx="405.80" cy="468.20" r="2.45" fill="#f59d1e" stroke="#000" stroke-width="1.05"/>
<circle cx="405.80" cy="489.00" r="2.45" fill="#73308f" stroke="#000" stroke-width="1.05"/>
<circle cx="430.80" cy="482.70" r="2.45" fill="#9a92dc" stroke="#000" stroke-width="1.05"/>
<circle cx="428.00" cy="501.80" r="2.45" fill="#f59d1e" stroke="#000" stroke-width="1.05"/>
<circle cx="434.20" cy="503.50" r="2.45" fill="#73308f" stroke="#000" stroke-width="1.05"/>
<circle cx="434.20" cy="530.50" r="2.45" fill="#30b44a" stroke="#000" stroke-width="1.05"/>
<circle cx="427.30" cy="534.60" r="2.45" fill="#d6213a" stroke="#000" stroke-width="1.05"/>
<circle cx="450.90" cy="449.70" r="2.45" fill="#9a92dc" stroke="#000" stroke-width="1.05"/>
<circle cx="447.40" cy="480.40" r="2.45" fill="#f59d1e" stroke="#000" stroke-width="1.05"/>
<circle cx="450.90" cy="482.00" r="2.45" fill="#73308f" stroke="#000" stroke-width="1.05"/>
<circle cx="450.00" cy="495.80" r="2.45" fill="#d6213a" stroke="#000" stroke-width="1.05"/>
<circle cx="450.00" cy="501.80" r="2.45" fill="#30b44a" stroke="#000" stroke-width="1.05"/>
<line x1="405.80" y1="457.30" x2="405.80" y2="478.80" stroke="#000" stroke-width="0.9" />
<line x1="402.20" y1="457.30" x2="409.40" y2="457.30" stroke="#000" stroke-width="0.9" />
<line x1="402.20" y1="478.80" x2="409.40" y2="478.80" stroke="#000" stroke-width="0.9" />
<line x1="431.10" y1="488.50" x2="431.10" y2="530.00" stroke="#000" stroke-width="0.9" />
<line x1="427.50" y1="488.50" x2="434.70" y2="488.50" stroke="#000" stroke-width="0.9" />
<line x1="450.50" y1="460.30" x2="450.50" y2="501.80" stroke="#000" stroke-width="0.9" />
<line x1="446.90" y1="460.30" x2="454.10" y2="460.30" stroke="#000" stroke-width="0.9" />
<line x1="446.90" y1="501.80" x2="454.10" y2="501.80" stroke="#000" stroke-width="0.9" />
<path d="M387.30,434.20 L387.30,430.30 L430.50,430.30 L430.50,434.20" fill="none" stroke="#000" stroke-width="1.0" />
<text x="409.20" y="428.20" font-size="6.8" text-anchor="middle" textLength="6.6" lengthAdjust="spacingAndGlyphs" >ns</text>
<path d="M386.60,444.40 L386.60,440.20 L404.20,440.20 L404.20,444.40" fill="none" stroke="#000" stroke-width="1.0" />
<text x="395.00" y="440.20" font-size="6.2" text-anchor="middle" font-weight="bold" textLength="4.800000000000001" lengthAdjust="spacingAndGlyphs" >**</text>
<path d="M405.00,444.40 L405.00,440.20 L450.80,440.20 L450.80,444.40" fill="none" stroke="#000" stroke-width="1.0" />
<text x="435.00" y="438.20" font-size="6.8" text-anchor="middle" textLength="6.6" lengthAdjust="spacingAndGlyphs" >ns</text>
<text x="408.60" y="421.40" font-size="7.0" text-anchor="middle" >Bcl-2</text>
<text x="386.30" y="564.50" font-size="7.2" text-anchor="middle" >Neg</text>
<text x="406.20" y="564.50" font-size="7.2" text-anchor="middle" >Pos</text>
<text x="431.10" y="564.50" font-size="7.2" text-anchor="middle" >Neg</text>
<text x="450.50" y="564.50" font-size="7.2" text-anchor="middle" >Pos</text>
<line x1="380.00" y1="567.70" x2="409.30" y2="567.70" stroke="#000" stroke-width="1.0" />
<line x1="424.80" y1="567.70" x2="453.60" y2="567.70" stroke="#000" stroke-width="1.0" />
<text x="394.75" y="576.60" font-size="9.0" text-anchor="middle" textLength="15.4" lengthAdjust="spacingAndGlyphs" style="stroke:#000;stroke-width:0.25" >CD69</text>
<text x="439.30" y="576.60" font-size="9.0" text-anchor="middle" textLength="15.4" lengthAdjust="spacingAndGlyphs" style="stroke:#000;stroke-width:0.25" >CD69</text>
<line x1="392.95" y1="581.80" x2="443.00" y2="581.80" stroke="#000" stroke-width="1.0" />
<text x="418.02" y="592.70" font-size="9.4" text-anchor="middle" textLength="25.8" lengthAdjust="spacingAndGlyphs" style="stroke:#000;stroke-width:0.25" >CLL cells</text>
<text x="350.70" y="500.60" font-size="8.8" text-anchor="middle" textLength="98.8" lengthAdjust="spacingAndGlyphs" transform="rotate(-90 350.70 500.60)" style="stroke:#000;stroke-width:0.2" >Protein expression (fold difference)</text>
<rect x="0.50" y="0.50" width="519.00" height="598.00" fill="none" stroke="#000" stroke-width="1" />
<rect x="518.50" y="0.00" width="1.50" height="599.00" fill="#000" />
<rect x="0.00" y="597.50" width="520.00" height="1.50" fill="#000" />
</svg></body></html>
